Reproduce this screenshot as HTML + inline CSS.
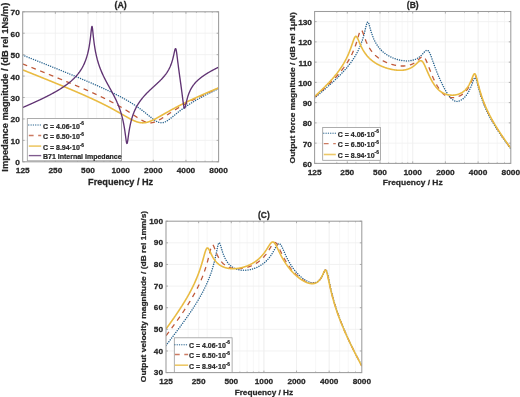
<!DOCTYPE html>
<html><head><meta charset="utf-8"><style>
html,body{margin:0;padding:0;background:#fff;width:520px;height:397px;overflow:hidden}
svg{display:block}
#w{will-change:transform;width:520px;height:397px}
</style></head><body>
<div id="w"><svg width="520" height="397" viewBox="0 0 520 397"><rect width="520" height="397" fill="#fff"/>
<line x1="44.84" y1="11.80" x2="44.84" y2="161.80" stroke="#f3f3f3" stroke-width="0.7"/>
<line x1="63.94" y1="11.80" x2="63.94" y2="161.80" stroke="#f3f3f3" stroke-width="0.7"/>
<line x1="77.49" y1="11.80" x2="77.49" y2="161.80" stroke="#f3f3f3" stroke-width="0.7"/>
<line x1="88.00" y1="11.80" x2="88.00" y2="161.80" stroke="#f3f3f3" stroke-width="0.7"/>
<line x1="96.59" y1="11.80" x2="96.59" y2="161.80" stroke="#f3f3f3" stroke-width="0.7"/>
<line x1="103.85" y1="11.80" x2="103.85" y2="161.80" stroke="#f3f3f3" stroke-width="0.7"/>
<line x1="110.14" y1="11.80" x2="110.14" y2="161.80" stroke="#f3f3f3" stroke-width="0.7"/>
<line x1="115.69" y1="11.80" x2="115.69" y2="161.80" stroke="#f3f3f3" stroke-width="0.7"/>
<line x1="120.65" y1="11.80" x2="120.65" y2="161.80" stroke="#f3f3f3" stroke-width="0.7"/>
<line x1="153.30" y1="11.80" x2="153.30" y2="161.80" stroke="#f3f3f3" stroke-width="0.7"/>
<line x1="172.40" y1="11.80" x2="172.40" y2="161.80" stroke="#f3f3f3" stroke-width="0.7"/>
<line x1="185.95" y1="11.80" x2="185.95" y2="161.80" stroke="#f3f3f3" stroke-width="0.7"/>
<line x1="196.46" y1="11.80" x2="196.46" y2="161.80" stroke="#f3f3f3" stroke-width="0.7"/>
<line x1="205.05" y1="11.80" x2="205.05" y2="161.80" stroke="#f3f3f3" stroke-width="0.7"/>
<line x1="212.31" y1="11.80" x2="212.31" y2="161.80" stroke="#f3f3f3" stroke-width="0.7"/>
<line x1="55.35" y1="11.80" x2="55.35" y2="161.80" stroke="#efefef" stroke-width="0.8"/>
<line x1="88.00" y1="11.80" x2="88.00" y2="161.80" stroke="#efefef" stroke-width="0.8"/>
<line x1="120.65" y1="11.80" x2="120.65" y2="161.80" stroke="#efefef" stroke-width="0.8"/>
<line x1="153.30" y1="11.80" x2="153.30" y2="161.80" stroke="#efefef" stroke-width="0.8"/>
<line x1="185.95" y1="11.80" x2="185.95" y2="161.80" stroke="#efefef" stroke-width="0.8"/>
<line x1="22.70" y1="140.37" x2="218.60" y2="140.37" stroke="#efefef" stroke-width="0.8"/>
<line x1="22.70" y1="118.94" x2="218.60" y2="118.94" stroke="#efefef" stroke-width="0.8"/>
<line x1="22.70" y1="97.51" x2="218.60" y2="97.51" stroke="#efefef" stroke-width="0.8"/>
<line x1="22.70" y1="76.09" x2="218.60" y2="76.09" stroke="#efefef" stroke-width="0.8"/>
<line x1="22.70" y1="54.66" x2="218.60" y2="54.66" stroke="#efefef" stroke-width="0.8"/>
<line x1="22.70" y1="33.23" x2="218.60" y2="33.23" stroke="#efefef" stroke-width="0.8"/>
<line x1="336.77" y1="11.50" x2="336.77" y2="163.40" stroke="#f3f3f3" stroke-width="0.7"/>
<line x1="355.90" y1="11.50" x2="355.90" y2="163.40" stroke="#f3f3f3" stroke-width="0.7"/>
<line x1="369.47" y1="11.50" x2="369.47" y2="163.40" stroke="#f3f3f3" stroke-width="0.7"/>
<line x1="380.00" y1="11.50" x2="380.00" y2="163.40" stroke="#f3f3f3" stroke-width="0.7"/>
<line x1="388.60" y1="11.50" x2="388.60" y2="163.40" stroke="#f3f3f3" stroke-width="0.7"/>
<line x1="395.87" y1="11.50" x2="395.87" y2="163.40" stroke="#f3f3f3" stroke-width="0.7"/>
<line x1="402.17" y1="11.50" x2="402.17" y2="163.40" stroke="#f3f3f3" stroke-width="0.7"/>
<line x1="407.73" y1="11.50" x2="407.73" y2="163.40" stroke="#f3f3f3" stroke-width="0.7"/>
<line x1="412.70" y1="11.50" x2="412.70" y2="163.40" stroke="#f3f3f3" stroke-width="0.7"/>
<line x1="445.40" y1="11.50" x2="445.40" y2="163.40" stroke="#f3f3f3" stroke-width="0.7"/>
<line x1="464.53" y1="11.50" x2="464.53" y2="163.40" stroke="#f3f3f3" stroke-width="0.7"/>
<line x1="478.10" y1="11.50" x2="478.10" y2="163.40" stroke="#f3f3f3" stroke-width="0.7"/>
<line x1="488.63" y1="11.50" x2="488.63" y2="163.40" stroke="#f3f3f3" stroke-width="0.7"/>
<line x1="497.23" y1="11.50" x2="497.23" y2="163.40" stroke="#f3f3f3" stroke-width="0.7"/>
<line x1="504.50" y1="11.50" x2="504.50" y2="163.40" stroke="#f3f3f3" stroke-width="0.7"/>
<line x1="347.30" y1="11.50" x2="347.30" y2="163.40" stroke="#efefef" stroke-width="0.8"/>
<line x1="380.00" y1="11.50" x2="380.00" y2="163.40" stroke="#efefef" stroke-width="0.8"/>
<line x1="412.70" y1="11.50" x2="412.70" y2="163.40" stroke="#efefef" stroke-width="0.8"/>
<line x1="445.40" y1="11.50" x2="445.40" y2="163.40" stroke="#efefef" stroke-width="0.8"/>
<line x1="478.10" y1="11.50" x2="478.10" y2="163.40" stroke="#efefef" stroke-width="0.8"/>
<line x1="314.60" y1="143.15" x2="510.80" y2="143.15" stroke="#efefef" stroke-width="0.8"/>
<line x1="314.60" y1="122.89" x2="510.80" y2="122.89" stroke="#efefef" stroke-width="0.8"/>
<line x1="314.60" y1="102.64" x2="510.80" y2="102.64" stroke="#efefef" stroke-width="0.8"/>
<line x1="314.60" y1="82.39" x2="510.80" y2="82.39" stroke="#efefef" stroke-width="0.8"/>
<line x1="314.60" y1="62.13" x2="510.80" y2="62.13" stroke="#efefef" stroke-width="0.8"/>
<line x1="314.60" y1="41.88" x2="510.80" y2="41.88" stroke="#efefef" stroke-width="0.8"/>
<line x1="314.60" y1="21.63" x2="510.80" y2="21.63" stroke="#efefef" stroke-width="0.8"/>
<line x1="188.13" y1="221.20" x2="188.13" y2="372.60" stroke="#f3f3f3" stroke-width="0.7"/>
<line x1="207.22" y1="221.20" x2="207.22" y2="372.60" stroke="#f3f3f3" stroke-width="0.7"/>
<line x1="220.76" y1="221.20" x2="220.76" y2="372.60" stroke="#f3f3f3" stroke-width="0.7"/>
<line x1="231.27" y1="221.20" x2="231.27" y2="372.60" stroke="#f3f3f3" stroke-width="0.7"/>
<line x1="239.85" y1="221.20" x2="239.85" y2="372.60" stroke="#f3f3f3" stroke-width="0.7"/>
<line x1="247.11" y1="221.20" x2="247.11" y2="372.60" stroke="#f3f3f3" stroke-width="0.7"/>
<line x1="253.39" y1="221.20" x2="253.39" y2="372.60" stroke="#f3f3f3" stroke-width="0.7"/>
<line x1="258.94" y1="221.20" x2="258.94" y2="372.60" stroke="#f3f3f3" stroke-width="0.7"/>
<line x1="263.90" y1="221.20" x2="263.90" y2="372.60" stroke="#f3f3f3" stroke-width="0.7"/>
<line x1="296.53" y1="221.20" x2="296.53" y2="372.60" stroke="#f3f3f3" stroke-width="0.7"/>
<line x1="315.62" y1="221.20" x2="315.62" y2="372.60" stroke="#f3f3f3" stroke-width="0.7"/>
<line x1="329.17" y1="221.20" x2="329.17" y2="372.60" stroke="#f3f3f3" stroke-width="0.7"/>
<line x1="339.67" y1="221.20" x2="339.67" y2="372.60" stroke="#f3f3f3" stroke-width="0.7"/>
<line x1="348.26" y1="221.20" x2="348.26" y2="372.60" stroke="#f3f3f3" stroke-width="0.7"/>
<line x1="355.51" y1="221.20" x2="355.51" y2="372.60" stroke="#f3f3f3" stroke-width="0.7"/>
<line x1="198.63" y1="221.20" x2="198.63" y2="372.60" stroke="#efefef" stroke-width="0.8"/>
<line x1="231.27" y1="221.20" x2="231.27" y2="372.60" stroke="#efefef" stroke-width="0.8"/>
<line x1="263.90" y1="221.20" x2="263.90" y2="372.60" stroke="#efefef" stroke-width="0.8"/>
<line x1="296.53" y1="221.20" x2="296.53" y2="372.60" stroke="#efefef" stroke-width="0.8"/>
<line x1="329.17" y1="221.20" x2="329.17" y2="372.60" stroke="#efefef" stroke-width="0.8"/>
<line x1="166.00" y1="350.97" x2="361.80" y2="350.97" stroke="#efefef" stroke-width="0.8"/>
<line x1="166.00" y1="329.34" x2="361.80" y2="329.34" stroke="#efefef" stroke-width="0.8"/>
<line x1="166.00" y1="307.71" x2="361.80" y2="307.71" stroke="#efefef" stroke-width="0.8"/>
<line x1="166.00" y1="286.09" x2="361.80" y2="286.09" stroke="#efefef" stroke-width="0.8"/>
<line x1="166.00" y1="264.46" x2="361.80" y2="264.46" stroke="#efefef" stroke-width="0.8"/>
<line x1="166.00" y1="242.83" x2="361.80" y2="242.83" stroke="#efefef" stroke-width="0.8"/>
<clipPath id="cA"><rect x="22.7" y="11.8" width="195.9" height="150.0"/></clipPath>
<g clip-path="url(#cA)">
<path d="M22.70,55.15 L22.92,55.24 L23.14,55.33 L23.35,55.41 L23.57,55.50 L23.79,55.59 L24.01,55.67 L24.23,55.76 L24.44,55.85 L24.66,55.93 L24.88,56.02 L25.10,56.11 L25.31,56.19 L25.53,56.28 L25.75,56.37 L25.97,56.45 L26.19,56.54 L26.40,56.63 L26.62,56.71 L26.84,56.80 L27.06,56.89 L27.28,56.97 L27.49,57.06 L27.71,57.15 L27.93,57.23 L28.15,57.32 L28.37,57.41 L28.58,57.49 L28.80,57.58 L29.02,57.67 L29.24,57.75 L29.46,57.84 L29.67,57.93 L29.89,58.01 L30.11,58.10 L30.33,58.19 L30.54,58.27 L30.76,58.36 L30.98,58.45 L31.20,58.53 L31.42,58.62 L31.63,58.71 L31.85,58.79 L32.07,58.88 L32.29,58.97 L32.51,59.05 L32.72,59.14 L32.94,59.23 L33.16,59.31 L33.38,59.40 L33.60,59.49 L33.81,59.57 L34.03,59.66 L34.25,59.75 L34.47,59.83 L34.68,59.92 L34.90,60.01 L35.12,60.09 L35.34,60.18 L35.56,60.27 L35.77,60.35 L35.99,60.44 L36.21,60.53 L36.43,60.62 L36.65,60.70 L36.86,60.79 L37.08,60.88 L37.30,60.96 L37.52,61.05 L37.74,61.14 L37.95,61.22 L38.17,61.31 L38.39,61.40 L38.61,61.48 L38.83,61.57 L39.04,61.66 L39.26,61.74 L39.48,61.83 L39.70,61.92 L39.91,62.01 L40.13,62.09 L40.35,62.18 L40.57,62.27 L40.79,62.35 L41.00,62.44 L41.22,62.53 L41.44,62.61 L41.66,62.70 L41.88,62.79 L42.09,62.88 L42.31,62.96 L42.53,63.05 L42.75,63.14 L42.97,63.22 L43.18,63.31 L43.40,63.40 L43.62,63.49 L43.84,63.57 L44.06,63.66 L44.27,63.75 L44.49,63.83 L44.71,63.92 L44.93,64.01 L45.14,64.10 L45.36,64.18 L45.58,64.27 L45.80,64.36 L46.02,64.44 L46.23,64.53 L46.45,64.62 L46.67,64.71 L46.89,64.79 L47.11,64.88 L47.32,64.97 L47.54,65.06 L47.76,65.14 L47.98,65.23 L48.20,65.32 L48.41,65.40 L48.63,65.49 L48.85,65.58 L49.07,65.67 L49.28,65.75 L49.50,65.84 L49.72,65.93 L49.94,66.02 L50.16,66.10 L50.37,66.19 L50.59,66.28 L50.81,66.37 L51.03,66.45 L51.25,66.54 L51.46,66.63 L51.68,66.72 L51.90,66.80 L52.12,66.89 L52.34,66.98 L52.55,67.07 L52.77,67.15 L52.99,67.24 L53.21,67.33 L53.43,67.42 L53.64,67.50 L53.86,67.59 L54.08,67.68 L54.30,67.77 L54.51,67.86 L54.73,67.94 L54.95,68.03 L55.17,68.12 L55.39,68.21 L55.60,68.29 L55.82,68.38 L56.04,68.47 L56.26,68.56 L56.48,68.65 L56.69,68.73 L56.91,68.82 L57.13,68.91 L57.35,69.00 L57.57,69.09 L57.78,69.17 L58.00,69.26 L58.22,69.35 L58.44,69.44 L58.65,69.53 L58.87,69.61 L59.09,69.70 L59.31,69.79 L59.53,69.88 L59.74,69.97 L59.96,70.05 L60.18,70.14 L60.40,70.23 L60.62,70.32 L60.83,70.41 L61.05,70.49 L61.27,70.58 L61.49,70.67 L61.71,70.76 L61.92,70.85 L62.14,70.94 L62.36,71.02 L62.58,71.11 L62.80,71.20 L63.01,71.29 L63.23,71.38 L63.45,71.47 L63.67,71.56 L63.88,71.64 L64.10,71.73 L64.32,71.82 L64.54,71.91 L64.76,72.00 L64.97,72.09 L65.19,72.18 L65.41,72.26 L65.63,72.35 L65.85,72.44 L66.06,72.53 L66.28,72.62 L66.50,72.71 L66.72,72.80 L66.94,72.89 L67.15,72.97 L67.37,73.06 L67.59,73.15 L67.81,73.24 L68.03,73.33 L68.24,73.42 L68.46,73.51 L68.68,73.60 L68.90,73.69 L69.11,73.78 L69.33,73.86 L69.55,73.95 L69.77,74.04 L69.99,74.13 L70.20,74.22 L70.42,74.31 L70.64,74.40 L70.86,74.49 L71.08,74.58 L71.29,74.67 L71.51,74.76 L71.73,74.85 L71.95,74.94 L72.17,75.03 L72.38,75.12 L72.60,75.21 L72.82,75.30 L73.04,75.39 L73.25,75.47 L73.47,75.56 L73.69,75.65 L73.91,75.74 L74.13,75.83 L74.34,75.92 L74.56,76.01 L74.78,76.10 L75.00,76.19 L75.22,76.28 L75.43,76.37 L75.65,76.46 L75.87,76.55 L76.09,76.64 L76.31,76.73 L76.52,76.82 L76.74,76.92 L76.96,77.01 L77.18,77.10 L77.40,77.19 L77.61,77.28 L77.83,77.37 L78.05,77.46 L78.27,77.55 L78.48,77.64 L78.70,77.73 L78.92,77.82 L79.14,77.91 L79.36,78.00 L79.57,78.09 L79.79,78.18 L80.01,78.27 L80.23,78.37 L80.45,78.46 L80.66,78.55 L80.88,78.64 L81.10,78.73 L81.32,78.82 L81.54,78.91 L81.75,79.00 L81.97,79.10 L82.19,79.19 L82.41,79.28 L82.62,79.37 L82.84,79.46 L83.06,79.55 L83.28,79.64 L83.50,79.74 L83.71,79.83 L83.93,79.92 L84.15,80.01 L84.37,80.10 L84.59,80.20 L84.80,80.29 L85.02,80.38 L85.24,80.47 L85.46,80.56 L85.68,80.66 L85.89,80.75 L86.11,80.84 L86.33,80.93 L86.55,81.03 L86.77,81.12 L86.98,81.21 L87.20,81.30 L87.42,81.40 L87.64,81.49 L87.85,81.58 L88.07,81.68 L88.29,81.77 L88.51,81.86 L88.73,81.95 L88.94,82.05 L89.16,82.14 L89.38,82.23 L89.60,82.33 L89.82,82.42 L90.03,82.52 L90.25,82.61 L90.47,82.70 L90.69,82.80 L90.91,82.89 L91.12,82.98 L91.34,83.08 L91.56,83.17 L91.78,83.27 L91.99,83.36 L92.21,83.46 L92.43,83.55 L92.65,83.64 L92.87,83.74 L93.08,83.83 L93.30,83.93 L93.52,84.02 L93.74,84.12 L93.96,84.21 L94.17,84.31 L94.39,84.40 L94.61,84.50 L94.83,84.59 L95.05,84.69 L95.26,84.78 L95.48,84.88 L95.70,84.98 L95.92,85.07 L96.14,85.17 L96.35,85.26 L96.57,85.36 L96.79,85.46 L97.01,85.55 L97.22,85.65 L97.44,85.74 L97.66,85.84 L97.88,85.94 L98.10,86.03 L98.31,86.13 L98.53,86.23 L98.75,86.33 L98.97,86.42 L99.19,86.52 L99.40,86.62 L99.62,86.71 L99.84,86.81 L100.06,86.91 L100.28,87.01 L100.49,87.11 L100.71,87.20 L100.93,87.30 L101.15,87.40 L101.37,87.50 L101.58,87.60 L101.80,87.70 L102.02,87.79 L102.24,87.89 L102.45,87.99 L102.67,88.09 L102.89,88.19 L103.11,88.29 L103.33,88.39 L103.54,88.49 L103.76,88.59 L103.98,88.69 L104.20,88.79 L104.42,88.89 L104.63,88.99 L104.85,89.09 L105.07,89.19 L105.29,89.29 L105.51,89.39 L105.72,89.49 L105.94,89.59 L106.16,89.70 L106.38,89.80 L106.59,89.90 L106.81,90.00 L107.03,90.10 L107.25,90.20 L107.47,90.31 L107.68,90.41 L107.90,90.51 L108.12,90.61 L108.34,90.72 L108.56,90.82 L108.77,90.92 L108.99,91.03 L109.21,91.13 L109.43,91.23 L109.65,91.34 L109.86,91.44 L110.08,91.55 L110.30,91.65 L110.52,91.76 L110.74,91.86 L110.95,91.97 L111.17,92.07 L111.39,92.18 L111.61,92.28 L111.82,92.39 L112.04,92.49 L112.26,92.60 L112.48,92.71 L112.70,92.81 L112.91,92.92 L113.13,93.03 L113.35,93.13 L113.57,93.24 L113.79,93.35 L114.00,93.46 L114.22,93.56 L114.44,93.67 L114.66,93.78 L114.88,93.89 L115.09,94.00 L115.31,94.11 L115.53,94.22 L115.75,94.33 L115.96,94.44 L116.18,94.55 L116.40,94.66 L116.62,94.77 L116.84,94.88 L117.05,94.99 L117.27,95.10 L117.49,95.21 L117.71,95.32 L117.93,95.44 L118.14,95.55 L118.36,95.66 L118.58,95.77 L118.80,95.89 L119.02,96.00 L119.23,96.11 L119.45,96.23 L119.67,96.34 L119.89,96.46 L120.11,96.57 L120.32,96.69 L120.54,96.80 L120.76,96.92 L120.98,97.03 L121.19,97.15 L121.41,97.27 L121.63,97.38 L121.85,97.50 L122.07,97.62 L122.28,97.74 L122.50,97.85 L122.72,97.97 L122.94,98.09 L123.16,98.21 L123.37,98.33 L123.59,98.45 L123.81,98.57 L124.03,98.69 L124.25,98.81 L124.46,98.93 L124.68,99.06 L124.90,99.18 L125.12,99.30 L125.34,99.42 L125.55,99.55 L125.77,99.67 L125.99,99.79 L126.21,99.92 L126.42,100.04 L126.64,100.17 L126.86,100.29 L127.08,100.42 L127.30,100.54 L127.51,100.67 L127.73,100.80 L127.95,100.93 L128.17,101.05 L128.39,101.18 L128.60,101.31 L128.82,101.44 L129.04,101.57 L129.26,101.70 L129.48,101.83 L129.69,101.96 L129.91,102.09 L130.13,102.22 L130.35,102.36 L130.56,102.49 L130.78,102.62 L131.00,102.76 L131.22,102.89 L131.44,103.03 L131.65,103.16 L131.87,103.30 L132.09,103.43 L132.31,103.57 L132.53,103.71 L132.74,103.84 L132.96,103.98 L133.18,104.12 L133.40,104.26 L133.62,104.40 L133.83,104.54 L134.05,104.68 L134.27,104.82 L134.49,104.97 L134.71,105.11 L134.92,105.25 L135.14,105.40 L135.36,105.54 L135.58,105.69 L135.79,105.83 L136.01,105.98 L136.23,106.12 L136.45,106.27 L136.67,106.42 L136.88,106.57 L137.10,106.72 L137.32,106.87 L137.54,107.02 L137.76,107.17 L137.97,107.32 L138.19,107.47 L138.41,107.63 L138.63,107.78 L138.85,107.93 L139.06,108.09 L139.28,108.24 L139.50,108.40 L139.72,108.56 L139.93,108.71 L140.15,108.87 L140.37,109.03 L140.59,109.19 L140.81,109.35 L141.02,109.51 L141.24,109.67 L141.46,109.83 L141.68,110.00 L141.90,110.16 L142.11,110.32 L142.33,110.49 L142.55,110.65 L142.77,110.82 L142.99,110.99 L143.20,111.15 L143.42,111.32 L143.64,111.49 L143.86,111.66 L144.08,111.83 L144.29,112.00 L144.51,112.17 L144.73,112.34 L144.95,112.51 L145.16,112.69 L145.38,112.86 L145.60,113.03 L145.82,113.21 L146.04,113.38 L146.25,113.56 L146.47,113.73 L146.69,113.91 L146.91,114.08 L147.13,114.26 L147.34,114.44 L147.56,114.61 L147.78,114.79 L148.00,114.97 L148.22,115.15 L148.43,115.32 L148.65,115.50 L148.87,115.68 L149.09,115.86 L149.31,116.04 L149.52,116.21 L149.74,116.39 L149.96,116.57 L150.18,116.75 L150.39,116.92 L150.61,117.10 L150.83,117.28 L151.05,117.45 L151.27,117.63 L151.48,117.80 L151.70,117.98 L151.92,118.15 L152.14,118.32 L152.36,118.49 L152.57,118.66 L152.79,118.83 L153.01,118.99 L153.23,119.16 L153.45,119.32 L153.66,119.48 L153.88,119.64 L154.10,119.80 L154.32,119.96 L154.53,120.11 L154.75,120.26 L154.97,120.41 L155.19,120.55 L155.41,120.69 L155.62,120.83 L155.84,120.97 L156.06,121.10 L156.28,121.23 L156.50,121.35 L156.71,121.48 L156.93,121.59 L157.15,121.70 L157.37,121.81 L157.59,121.92 L157.80,122.01 L158.02,122.11 L158.24,122.20 L158.46,122.28 L158.68,122.36 L158.89,122.43 L159.11,122.50 L159.33,122.56 L159.55,122.61 L159.76,122.66 L159.98,122.71 L160.20,122.74 L160.42,122.78 L160.64,122.80 L160.85,122.82 L161.07,122.83 L161.29,122.84 L161.51,122.83 L161.73,122.83 L161.94,122.81 L162.16,122.79 L162.38,122.77 L162.60,122.74 L162.82,122.70 L163.03,122.65 L163.25,122.60 L163.47,122.54 L163.69,122.48 L163.90,122.41 L164.12,122.34 L164.34,122.26 L164.56,122.18 L164.78,122.09 L164.99,121.99 L165.21,121.89 L165.43,121.79 L165.65,121.68 L165.87,121.56 L166.08,121.45 L166.30,121.32 L166.52,121.20 L166.74,121.07 L166.96,120.93 L167.17,120.80 L167.39,120.66 L167.61,120.52 L167.83,120.37 L168.05,120.22 L168.26,120.07 L168.48,119.92 L168.70,119.76 L168.92,119.60 L169.13,119.44 L169.35,119.28 L169.57,119.12 L169.79,118.95 L170.01,118.78 L170.22,118.62 L170.44,118.45 L170.66,118.28 L170.88,118.10 L171.10,117.93 L171.31,117.76 L171.53,117.58 L171.75,117.41 L171.97,117.23 L172.19,117.06 L172.40,116.88 L172.62,116.70 L172.84,116.52 L173.06,116.35 L173.27,116.17 L173.49,115.99 L173.71,115.81 L173.93,115.63 L174.15,115.46 L174.36,115.28 L174.58,115.10 L174.80,114.92 L175.02,114.74 L175.24,114.57 L175.45,114.39 L175.67,114.21 L175.89,114.04 L176.11,113.86 L176.33,113.69 L176.54,113.51 L176.76,113.34 L176.98,113.16 L177.20,112.99 L177.42,112.81 L177.63,112.64 L177.85,112.47 L178.07,112.30 L178.29,112.13 L178.50,111.96 L178.72,111.79 L178.94,111.62 L179.16,111.45 L179.38,111.28 L179.59,111.11 L179.81,110.94 L180.03,110.78 L180.25,110.61 L180.47,110.45 L180.68,110.28 L180.90,110.12 L181.12,109.96 L181.34,109.79 L181.56,109.63 L181.77,109.47 L181.99,109.31 L182.21,109.15 L182.43,108.99 L182.65,108.83 L182.86,108.67 L183.08,108.52 L183.30,108.36 L183.52,108.20 L183.73,108.05 L183.95,107.89 L184.17,107.74 L184.39,107.59 L184.61,107.43 L184.82,107.28 L185.04,107.13 L185.26,106.98 L185.48,106.83 L185.70,106.68 L185.91,106.53 L186.13,106.38 L186.35,106.23 L186.57,106.09 L186.79,105.94 L187.00,105.79 L187.22,105.65 L187.44,105.50 L187.66,105.36 L187.87,105.22 L188.09,105.07 L188.31,104.93 L188.53,104.79 L188.75,104.65 L188.96,104.51 L189.18,104.37 L189.40,104.23 L189.62,104.09 L189.84,103.95 L190.05,103.81 L190.27,103.67 L190.49,103.53 L190.71,103.40 L190.93,103.26 L191.14,103.13 L191.36,102.99 L191.58,102.86 L191.80,102.72 L192.02,102.59 L192.23,102.45 L192.45,102.32 L192.67,102.19 L192.89,102.06 L193.10,101.93 L193.32,101.80 L193.54,101.67 L193.76,101.54 L193.98,101.41 L194.19,101.28 L194.41,101.15 L194.63,101.02 L194.85,100.89 L195.07,100.77 L195.28,100.64 L195.50,100.51 L195.72,100.39 L195.94,100.26 L196.16,100.13 L196.37,100.01 L196.59,99.89 L196.81,99.76 L197.03,99.64 L197.24,99.51 L197.46,99.39 L197.68,99.27 L197.90,99.15 L198.12,99.02 L198.33,98.90 L198.55,98.78 L198.77,98.66 L198.99,98.54 L199.21,98.42 L199.42,98.30 L199.64,98.18 L199.86,98.06 L200.08,97.94 L200.30,97.82 L200.51,97.71 L200.73,97.59 L200.95,97.47 L201.17,97.35 L201.39,97.24 L201.60,97.12 L201.82,97.00 L202.04,96.89 L202.26,96.77 L202.47,96.66 L202.69,96.54 L202.91,96.43 L203.13,96.31 L203.35,96.20 L203.56,96.09 L203.78,95.97 L204.00,95.86 L204.22,95.75 L204.44,95.63 L204.65,95.52 L204.87,95.41 L205.09,95.30 L205.31,95.18 L205.53,95.07 L205.74,94.96 L205.96,94.85 L206.18,94.74 L206.40,94.63 L206.62,94.52 L206.83,94.41 L207.05,94.30 L207.27,94.19 L207.49,94.08 L207.70,93.97 L207.92,93.86 L208.14,93.75 L208.36,93.65 L208.58,93.54 L208.79,93.43 L209.01,93.32 L209.23,93.21 L209.45,93.11 L209.67,93.00 L209.88,92.89 L210.10,92.79 L210.32,92.68 L210.54,92.57 L210.76,92.47 L210.97,92.36 L211.19,92.26 L211.41,92.15 L211.63,92.04 L211.84,91.94 L212.06,91.83 L212.28,91.73 L212.50,91.62 L212.72,91.52 L212.93,91.42 L213.15,91.31 L213.37,91.21 L213.59,91.10 L213.81,91.00 L214.02,90.90 L214.24,90.79 L214.46,90.69 L214.68,90.59 L214.90,90.49 L215.11,90.38 L215.33,90.28 L215.55,90.18 L215.77,90.08 L215.99,89.97 L216.20,89.87 L216.42,89.77 L216.64,89.67 L216.86,89.57 L217.07,89.47 L217.29,89.37 L217.51,89.27 L217.73,89.16 L217.95,89.06 L218.16,88.96 L218.38,88.86 L218.60,88.76" fill="none" stroke="#2a6590" stroke-dasharray="0.01 2.3" stroke-linecap="round" stroke-width="1.45" stroke-linejoin="round"/>
<path d="M22.70,63.94 L22.92,64.02 L23.14,64.11 L23.35,64.20 L23.57,64.28 L23.79,64.37 L24.01,64.46 L24.23,64.54 L24.44,64.63 L24.66,64.72 L24.88,64.80 L25.10,64.89 L25.31,64.98 L25.53,65.06 L25.75,65.15 L25.97,65.24 L26.19,65.32 L26.40,65.41 L26.62,65.50 L26.84,65.58 L27.06,65.67 L27.28,65.76 L27.49,65.84 L27.71,65.93 L27.93,66.02 L28.15,66.10 L28.37,66.19 L28.58,66.28 L28.80,66.37 L29.02,66.45 L29.24,66.54 L29.46,66.63 L29.67,66.71 L29.89,66.80 L30.11,66.89 L30.33,66.97 L30.54,67.06 L30.76,67.15 L30.98,67.23 L31.20,67.32 L31.42,67.41 L31.63,67.50 L31.85,67.58 L32.07,67.67 L32.29,67.76 L32.51,67.84 L32.72,67.93 L32.94,68.02 L33.16,68.11 L33.38,68.19 L33.60,68.28 L33.81,68.37 L34.03,68.45 L34.25,68.54 L34.47,68.63 L34.68,68.71 L34.90,68.80 L35.12,68.89 L35.34,68.98 L35.56,69.06 L35.77,69.15 L35.99,69.24 L36.21,69.32 L36.43,69.41 L36.65,69.50 L36.86,69.59 L37.08,69.67 L37.30,69.76 L37.52,69.85 L37.74,69.94 L37.95,70.02 L38.17,70.11 L38.39,70.20 L38.61,70.28 L38.83,70.37 L39.04,70.46 L39.26,70.55 L39.48,70.63 L39.70,70.72 L39.91,70.81 L40.13,70.90 L40.35,70.98 L40.57,71.07 L40.79,71.16 L41.00,71.25 L41.22,71.33 L41.44,71.42 L41.66,71.51 L41.88,71.60 L42.09,71.68 L42.31,71.77 L42.53,71.86 L42.75,71.95 L42.97,72.03 L43.18,72.12 L43.40,72.21 L43.62,72.30 L43.84,72.38 L44.06,72.47 L44.27,72.56 L44.49,72.65 L44.71,72.73 L44.93,72.82 L45.14,72.91 L45.36,73.00 L45.58,73.08 L45.80,73.17 L46.02,73.26 L46.23,73.35 L46.45,73.44 L46.67,73.52 L46.89,73.61 L47.11,73.70 L47.32,73.79 L47.54,73.88 L47.76,73.96 L47.98,74.05 L48.20,74.14 L48.41,74.23 L48.63,74.31 L48.85,74.40 L49.07,74.49 L49.28,74.58 L49.50,74.67 L49.72,74.75 L49.94,74.84 L50.16,74.93 L50.37,75.02 L50.59,75.11 L50.81,75.20 L51.03,75.28 L51.25,75.37 L51.46,75.46 L51.68,75.55 L51.90,75.64 L52.12,75.72 L52.34,75.81 L52.55,75.90 L52.77,75.99 L52.99,76.08 L53.21,76.17 L53.43,76.25 L53.64,76.34 L53.86,76.43 L54.08,76.52 L54.30,76.61 L54.51,76.70 L54.73,76.78 L54.95,76.87 L55.17,76.96 L55.39,77.05 L55.60,77.14 L55.82,77.23 L56.04,77.32 L56.26,77.40 L56.48,77.49 L56.69,77.58 L56.91,77.67 L57.13,77.76 L57.35,77.85 L57.57,77.94 L57.78,78.03 L58.00,78.11 L58.22,78.20 L58.44,78.29 L58.65,78.38 L58.87,78.47 L59.09,78.56 L59.31,78.65 L59.53,78.74 L59.74,78.83 L59.96,78.92 L60.18,79.00 L60.40,79.09 L60.62,79.18 L60.83,79.27 L61.05,79.36 L61.27,79.45 L61.49,79.54 L61.71,79.63 L61.92,79.72 L62.14,79.81 L62.36,79.90 L62.58,79.99 L62.80,80.08 L63.01,80.17 L63.23,80.26 L63.45,80.35 L63.67,80.43 L63.88,80.52 L64.10,80.61 L64.32,80.70 L64.54,80.79 L64.76,80.88 L64.97,80.97 L65.19,81.06 L65.41,81.15 L65.63,81.24 L65.85,81.33 L66.06,81.42 L66.28,81.51 L66.50,81.60 L66.72,81.69 L66.94,81.78 L67.15,81.87 L67.37,81.96 L67.59,82.05 L67.81,82.14 L68.03,82.23 L68.24,82.32 L68.46,82.41 L68.68,82.51 L68.90,82.60 L69.11,82.69 L69.33,82.78 L69.55,82.87 L69.77,82.96 L69.99,83.05 L70.20,83.14 L70.42,83.23 L70.64,83.32 L70.86,83.41 L71.08,83.50 L71.29,83.59 L71.51,83.68 L71.73,83.78 L71.95,83.87 L72.17,83.96 L72.38,84.05 L72.60,84.14 L72.82,84.23 L73.04,84.32 L73.25,84.41 L73.47,84.51 L73.69,84.60 L73.91,84.69 L74.13,84.78 L74.34,84.87 L74.56,84.96 L74.78,85.06 L75.00,85.15 L75.22,85.24 L75.43,85.33 L75.65,85.42 L75.87,85.52 L76.09,85.61 L76.31,85.70 L76.52,85.79 L76.74,85.88 L76.96,85.98 L77.18,86.07 L77.40,86.16 L77.61,86.25 L77.83,86.35 L78.05,86.44 L78.27,86.53 L78.48,86.62 L78.70,86.72 L78.92,86.81 L79.14,86.90 L79.36,87.00 L79.57,87.09 L79.79,87.18 L80.01,87.27 L80.23,87.37 L80.45,87.46 L80.66,87.55 L80.88,87.65 L81.10,87.74 L81.32,87.83 L81.54,87.93 L81.75,88.02 L81.97,88.12 L82.19,88.21 L82.41,88.30 L82.62,88.40 L82.84,88.49 L83.06,88.59 L83.28,88.68 L83.50,88.77 L83.71,88.87 L83.93,88.96 L84.15,89.06 L84.37,89.15 L84.59,89.25 L84.80,89.34 L85.02,89.44 L85.24,89.53 L85.46,89.63 L85.68,89.72 L85.89,89.82 L86.11,89.91 L86.33,90.01 L86.55,90.10 L86.77,90.20 L86.98,90.29 L87.20,90.39 L87.42,90.49 L87.64,90.58 L87.85,90.68 L88.07,90.77 L88.29,90.87 L88.51,90.97 L88.73,91.06 L88.94,91.16 L89.16,91.26 L89.38,91.35 L89.60,91.45 L89.82,91.55 L90.03,91.64 L90.25,91.74 L90.47,91.84 L90.69,91.94 L90.91,92.03 L91.12,92.13 L91.34,92.23 L91.56,92.33 L91.78,92.42 L91.99,92.52 L92.21,92.62 L92.43,92.72 L92.65,92.82 L92.87,92.91 L93.08,93.01 L93.30,93.11 L93.52,93.21 L93.74,93.31 L93.96,93.41 L94.17,93.51 L94.39,93.61 L94.61,93.71 L94.83,93.81 L95.05,93.90 L95.26,94.00 L95.48,94.10 L95.70,94.20 L95.92,94.30 L96.14,94.40 L96.35,94.51 L96.57,94.61 L96.79,94.71 L97.01,94.81 L97.22,94.91 L97.44,95.01 L97.66,95.11 L97.88,95.21 L98.10,95.31 L98.31,95.42 L98.53,95.52 L98.75,95.62 L98.97,95.72 L99.19,95.82 L99.40,95.93 L99.62,96.03 L99.84,96.13 L100.06,96.23 L100.28,96.34 L100.49,96.44 L100.71,96.54 L100.93,96.65 L101.15,96.75 L101.37,96.86 L101.58,96.96 L101.80,97.06 L102.02,97.17 L102.24,97.27 L102.45,97.38 L102.67,97.48 L102.89,97.59 L103.11,97.69 L103.33,97.80 L103.54,97.90 L103.76,98.01 L103.98,98.12 L104.20,98.22 L104.42,98.33 L104.63,98.43 L104.85,98.54 L105.07,98.65 L105.29,98.76 L105.51,98.86 L105.72,98.97 L105.94,99.08 L106.16,99.19 L106.38,99.29 L106.59,99.40 L106.81,99.51 L107.03,99.62 L107.25,99.73 L107.47,99.84 L107.68,99.95 L107.90,100.06 L108.12,100.17 L108.34,100.28 L108.56,100.39 L108.77,100.50 L108.99,100.61 L109.21,100.72 L109.43,100.83 L109.65,100.94 L109.86,101.06 L110.08,101.17 L110.30,101.28 L110.52,101.39 L110.74,101.51 L110.95,101.62 L111.17,101.73 L111.39,101.85 L111.61,101.96 L111.82,102.07 L112.04,102.19 L112.26,102.30 L112.48,102.42 L112.70,102.53 L112.91,102.65 L113.13,102.76 L113.35,102.88 L113.57,102.99 L113.79,103.11 L114.00,103.23 L114.22,103.35 L114.44,103.46 L114.66,103.58 L114.88,103.70 L115.09,103.82 L115.31,103.93 L115.53,104.05 L115.75,104.17 L115.96,104.29 L116.18,104.41 L116.40,104.53 L116.62,104.65 L116.84,104.77 L117.05,104.89 L117.27,105.01 L117.49,105.14 L117.71,105.26 L117.93,105.38 L118.14,105.50 L118.36,105.63 L118.58,105.75 L118.80,105.87 L119.02,106.00 L119.23,106.12 L119.45,106.24 L119.67,106.37 L119.89,106.49 L120.11,106.62 L120.32,106.75 L120.54,106.87 L120.76,107.00 L120.98,107.12 L121.19,107.25 L121.41,107.38 L121.63,107.51 L121.85,107.64 L122.07,107.76 L122.28,107.89 L122.50,108.02 L122.72,108.15 L122.94,108.28 L123.16,108.41 L123.37,108.54 L123.59,108.67 L123.81,108.81 L124.03,108.94 L124.25,109.07 L124.46,109.20 L124.68,109.33 L124.90,109.47 L125.12,109.60 L125.34,109.73 L125.55,109.87 L125.77,110.00 L125.99,110.14 L126.21,110.27 L126.42,110.41 L126.64,110.55 L126.86,110.68 L127.08,110.82 L127.30,110.96 L127.51,111.09 L127.73,111.23 L127.95,111.37 L128.17,111.51 L128.39,111.65 L128.60,111.78 L128.82,111.92 L129.04,112.06 L129.26,112.20 L129.48,112.34 L129.69,112.48 L129.91,112.62 L130.13,112.76 L130.35,112.91 L130.56,113.05 L130.78,113.19 L131.00,113.33 L131.22,113.47 L131.44,113.62 L131.65,113.76 L131.87,113.90 L132.09,114.04 L132.31,114.19 L132.53,114.33 L132.74,114.47 L132.96,114.62 L133.18,114.76 L133.40,114.90 L133.62,115.05 L133.83,115.19 L134.05,115.33 L134.27,115.48 L134.49,115.62 L134.71,115.77 L134.92,115.91 L135.14,116.05 L135.36,116.20 L135.58,116.34 L135.79,116.48 L136.01,116.62 L136.23,116.77 L136.45,116.91 L136.67,117.05 L136.88,117.19 L137.10,117.33 L137.32,117.47 L137.54,117.61 L137.76,117.75 L137.97,117.89 L138.19,118.03 L138.41,118.17 L138.63,118.31 L138.85,118.44 L139.06,118.58 L139.28,118.71 L139.50,118.85 L139.72,118.98 L139.93,119.11 L140.15,119.24 L140.37,119.37 L140.59,119.50 L140.81,119.63 L141.02,119.75 L141.24,119.88 L141.46,120.00 L141.68,120.12 L141.90,120.24 L142.11,120.36 L142.33,120.48 L142.55,120.59 L142.77,120.70 L142.99,120.81 L143.20,120.92 L143.42,121.03 L143.64,121.13 L143.86,121.23 L144.08,121.33 L144.29,121.43 L144.51,121.52 L144.73,121.61 L144.95,121.70 L145.16,121.79 L145.38,121.87 L145.60,121.95 L145.82,122.03 L146.04,122.10 L146.25,122.17 L146.47,122.24 L146.69,122.31 L146.91,122.37 L147.13,122.42 L147.34,122.48 L147.56,122.53 L147.78,122.58 L148.00,122.62 L148.22,122.66 L148.43,122.69 L148.65,122.72 L148.87,122.75 L149.09,122.78 L149.31,122.80 L149.52,122.81 L149.74,122.82 L149.96,122.83 L150.18,122.84 L150.39,122.84 L150.61,122.83 L150.83,122.82 L151.05,122.81 L151.27,122.80 L151.48,122.78 L151.70,122.75 L151.92,122.72 L152.14,122.69 L152.36,122.66 L152.57,122.62 L152.79,122.58 L153.01,122.53 L153.23,122.48 L153.45,122.43 L153.66,122.37 L153.88,122.31 L154.10,122.24 L154.32,122.18 L154.53,122.10 L154.75,122.03 L154.97,121.95 L155.19,121.87 L155.41,121.79 L155.62,121.70 L155.84,121.62 L156.06,121.52 L156.28,121.43 L156.50,121.33 L156.71,121.23 L156.93,121.13 L157.15,121.03 L157.37,120.92 L157.59,120.81 L157.80,120.70 L158.02,120.59 L158.24,120.48 L158.46,120.36 L158.68,120.24 L158.89,120.12 L159.11,120.00 L159.33,119.88 L159.55,119.75 L159.76,119.63 L159.98,119.50 L160.20,119.37 L160.42,119.24 L160.64,119.11 L160.85,118.98 L161.07,118.85 L161.29,118.71 L161.51,118.58 L161.73,118.44 L161.94,118.31 L162.16,118.17 L162.38,118.03 L162.60,117.89 L162.82,117.76 L163.03,117.62 L163.25,117.48 L163.47,117.34 L163.69,117.19 L163.90,117.05 L164.12,116.91 L164.34,116.77 L164.56,116.63 L164.78,116.48 L164.99,116.34 L165.21,116.20 L165.43,116.05 L165.65,115.91 L165.87,115.77 L166.08,115.62 L166.30,115.48 L166.52,115.34 L166.74,115.19 L166.96,115.05 L167.17,114.91 L167.39,114.76 L167.61,114.62 L167.83,114.47 L168.05,114.33 L168.26,114.19 L168.48,114.05 L168.70,113.90 L168.92,113.76 L169.13,113.62 L169.35,113.47 L169.57,113.33 L169.79,113.19 L170.01,113.05 L170.22,112.91 L170.44,112.77 L170.66,112.63 L170.88,112.48 L171.10,112.34 L171.31,112.20 L171.53,112.06 L171.75,111.93 L171.97,111.79 L172.19,111.65 L172.40,111.51 L172.62,111.37 L172.84,111.23 L173.06,111.09 L173.27,110.96 L173.49,110.82 L173.71,110.68 L173.93,110.55 L174.15,110.41 L174.36,110.28 L174.58,110.14 L174.80,110.01 L175.02,109.87 L175.24,109.74 L175.45,109.60 L175.67,109.47 L175.89,109.34 L176.11,109.20 L176.33,109.07 L176.54,108.94 L176.76,108.81 L176.98,108.68 L177.20,108.54 L177.42,108.41 L177.63,108.28 L177.85,108.15 L178.07,108.02 L178.29,107.89 L178.50,107.77 L178.72,107.64 L178.94,107.51 L179.16,107.38 L179.38,107.25 L179.59,107.13 L179.81,107.00 L180.03,106.87 L180.25,106.75 L180.47,106.62 L180.68,106.50 L180.90,106.37 L181.12,106.25 L181.34,106.12 L181.56,106.00 L181.77,105.87 L181.99,105.75 L182.21,105.63 L182.43,105.50 L182.65,105.38 L182.86,105.26 L183.08,105.14 L183.30,105.02 L183.52,104.89 L183.73,104.77 L183.95,104.65 L184.17,104.53 L184.39,104.41 L184.61,104.29 L184.82,104.17 L185.04,104.05 L185.26,103.94 L185.48,103.82 L185.70,103.70 L185.91,103.58 L186.13,103.46 L186.35,103.35 L186.57,103.23 L186.79,103.11 L187.00,103.00 L187.22,102.88 L187.44,102.76 L187.66,102.65 L187.87,102.53 L188.09,102.42 L188.31,102.30 L188.53,102.19 L188.75,102.07 L188.96,101.96 L189.18,101.85 L189.40,101.73 L189.62,101.62 L189.84,101.51 L190.05,101.39 L190.27,101.28 L190.49,101.17 L190.71,101.06 L190.93,100.95 L191.14,100.83 L191.36,100.72 L191.58,100.61 L191.80,100.50 L192.02,100.39 L192.23,100.28 L192.45,100.17 L192.67,100.06 L192.89,99.95 L193.10,99.84 L193.32,99.73 L193.54,99.62 L193.76,99.51 L193.98,99.40 L194.19,99.30 L194.41,99.19 L194.63,99.08 L194.85,98.97 L195.07,98.86 L195.28,98.76 L195.50,98.65 L195.72,98.54 L195.94,98.44 L196.16,98.33 L196.37,98.22 L196.59,98.12 L196.81,98.01 L197.03,97.90 L197.24,97.80 L197.46,97.69 L197.68,97.59 L197.90,97.48 L198.12,97.38 L198.33,97.27 L198.55,97.17 L198.77,97.06 L198.99,96.96 L199.21,96.86 L199.42,96.75 L199.64,96.65 L199.86,96.55 L200.08,96.44 L200.30,96.34 L200.51,96.24 L200.73,96.13 L200.95,96.03 L201.17,95.93 L201.39,95.82 L201.60,95.72 L201.82,95.62 L202.04,95.52 L202.26,95.42 L202.47,95.31 L202.69,95.21 L202.91,95.11 L203.13,95.01 L203.35,94.91 L203.56,94.81 L203.78,94.71 L204.00,94.61 L204.22,94.51 L204.44,94.41 L204.65,94.31 L204.87,94.21 L205.09,94.11 L205.31,94.01 L205.53,93.91 L205.74,93.81 L205.96,93.71 L206.18,93.61 L206.40,93.51 L206.62,93.41 L206.83,93.31 L207.05,93.21 L207.27,93.11 L207.49,93.01 L207.70,92.92 L207.92,92.82 L208.14,92.72 L208.36,92.62 L208.58,92.52 L208.79,92.42 L209.01,92.33 L209.23,92.23 L209.45,92.13 L209.67,92.03 L209.88,91.94 L210.10,91.84 L210.32,91.74 L210.54,91.64 L210.76,91.55 L210.97,91.45 L211.19,91.35 L211.41,91.26 L211.63,91.16 L211.84,91.06 L212.06,90.97 L212.28,90.87 L212.50,90.78 L212.72,90.68 L212.93,90.58 L213.15,90.49 L213.37,90.39 L213.59,90.30 L213.81,90.20 L214.02,90.10 L214.24,90.01 L214.46,89.91 L214.68,89.82 L214.90,89.72 L215.11,89.63 L215.33,89.53 L215.55,89.44 L215.77,89.34 L215.99,89.25 L216.20,89.15 L216.42,89.06 L216.64,88.96 L216.86,88.87 L217.07,88.78 L217.29,88.68 L217.51,88.59 L217.73,88.49 L217.95,88.40 L218.16,88.31 L218.38,88.21 L218.60,88.12" fill="none" stroke="#c05a3a" stroke-dasharray="4.8 4.6" stroke-width="1.3" stroke-linejoin="round"/>
<path d="M22.70,69.88 L22.92,69.97 L23.14,70.06 L23.35,70.14 L23.57,70.23 L23.79,70.32 L24.01,70.41 L24.23,70.49 L24.44,70.58 L24.66,70.67 L24.88,70.75 L25.10,70.84 L25.31,70.93 L25.53,71.01 L25.75,71.10 L25.97,71.19 L26.19,71.27 L26.40,71.36 L26.62,71.45 L26.84,71.54 L27.06,71.62 L27.28,71.71 L27.49,71.80 L27.71,71.88 L27.93,71.97 L28.15,72.06 L28.37,72.14 L28.58,72.23 L28.80,72.32 L29.02,72.41 L29.24,72.49 L29.46,72.58 L29.67,72.67 L29.89,72.75 L30.11,72.84 L30.33,72.93 L30.54,73.02 L30.76,73.10 L30.98,73.19 L31.20,73.28 L31.42,73.36 L31.63,73.45 L31.85,73.54 L32.07,73.63 L32.29,73.71 L32.51,73.80 L32.72,73.89 L32.94,73.98 L33.16,74.06 L33.38,74.15 L33.60,74.24 L33.81,74.32 L34.03,74.41 L34.25,74.50 L34.47,74.59 L34.68,74.67 L34.90,74.76 L35.12,74.85 L35.34,74.94 L35.56,75.02 L35.77,75.11 L35.99,75.20 L36.21,75.29 L36.43,75.37 L36.65,75.46 L36.86,75.55 L37.08,75.64 L37.30,75.72 L37.52,75.81 L37.74,75.90 L37.95,75.99 L38.17,76.07 L38.39,76.16 L38.61,76.25 L38.83,76.34 L39.04,76.42 L39.26,76.51 L39.48,76.60 L39.70,76.69 L39.91,76.77 L40.13,76.86 L40.35,76.95 L40.57,77.04 L40.79,77.13 L41.00,77.21 L41.22,77.30 L41.44,77.39 L41.66,77.48 L41.88,77.56 L42.09,77.65 L42.31,77.74 L42.53,77.83 L42.75,77.92 L42.97,78.00 L43.18,78.09 L43.40,78.18 L43.62,78.27 L43.84,78.36 L44.06,78.44 L44.27,78.53 L44.49,78.62 L44.71,78.71 L44.93,78.80 L45.14,78.88 L45.36,78.97 L45.58,79.06 L45.80,79.15 L46.02,79.24 L46.23,79.32 L46.45,79.41 L46.67,79.50 L46.89,79.59 L47.11,79.68 L47.32,79.77 L47.54,79.85 L47.76,79.94 L47.98,80.03 L48.20,80.12 L48.41,80.21 L48.63,80.30 L48.85,80.38 L49.07,80.47 L49.28,80.56 L49.50,80.65 L49.72,80.74 L49.94,80.83 L50.16,80.92 L50.37,81.00 L50.59,81.09 L50.81,81.18 L51.03,81.27 L51.25,81.36 L51.46,81.45 L51.68,81.54 L51.90,81.62 L52.12,81.71 L52.34,81.80 L52.55,81.89 L52.77,81.98 L52.99,82.07 L53.21,82.16 L53.43,82.25 L53.64,82.34 L53.86,82.42 L54.08,82.51 L54.30,82.60 L54.51,82.69 L54.73,82.78 L54.95,82.87 L55.17,82.96 L55.39,83.05 L55.60,83.14 L55.82,83.23 L56.04,83.32 L56.26,83.40 L56.48,83.49 L56.69,83.58 L56.91,83.67 L57.13,83.76 L57.35,83.85 L57.57,83.94 L57.78,84.03 L58.00,84.12 L58.22,84.21 L58.44,84.30 L58.65,84.39 L58.87,84.48 L59.09,84.57 L59.31,84.66 L59.53,84.75 L59.74,84.84 L59.96,84.93 L60.18,85.02 L60.40,85.11 L60.62,85.20 L60.83,85.29 L61.05,85.38 L61.27,85.47 L61.49,85.56 L61.71,85.65 L61.92,85.74 L62.14,85.83 L62.36,85.92 L62.58,86.01 L62.80,86.10 L63.01,86.19 L63.23,86.28 L63.45,86.37 L63.67,86.46 L63.88,86.55 L64.10,86.64 L64.32,86.73 L64.54,86.82 L64.76,86.91 L64.97,87.00 L65.19,87.09 L65.41,87.18 L65.63,87.27 L65.85,87.37 L66.06,87.46 L66.28,87.55 L66.50,87.64 L66.72,87.73 L66.94,87.82 L67.15,87.91 L67.37,88.00 L67.59,88.09 L67.81,88.19 L68.03,88.28 L68.24,88.37 L68.46,88.46 L68.68,88.55 L68.90,88.64 L69.11,88.73 L69.33,88.83 L69.55,88.92 L69.77,89.01 L69.99,89.10 L70.20,89.19 L70.42,89.28 L70.64,89.38 L70.86,89.47 L71.08,89.56 L71.29,89.65 L71.51,89.74 L71.73,89.84 L71.95,89.93 L72.17,90.02 L72.38,90.11 L72.60,90.21 L72.82,90.30 L73.04,90.39 L73.25,90.48 L73.47,90.58 L73.69,90.67 L73.91,90.76 L74.13,90.85 L74.34,90.95 L74.56,91.04 L74.78,91.13 L75.00,91.23 L75.22,91.32 L75.43,91.41 L75.65,91.51 L75.87,91.60 L76.09,91.69 L76.31,91.79 L76.52,91.88 L76.74,91.97 L76.96,92.07 L77.18,92.16 L77.40,92.26 L77.61,92.35 L77.83,92.44 L78.05,92.54 L78.27,92.63 L78.48,92.73 L78.70,92.82 L78.92,92.91 L79.14,93.01 L79.36,93.10 L79.57,93.20 L79.79,93.29 L80.01,93.39 L80.23,93.48 L80.45,93.58 L80.66,93.67 L80.88,93.77 L81.10,93.86 L81.32,93.96 L81.54,94.05 L81.75,94.15 L81.97,94.24 L82.19,94.34 L82.41,94.44 L82.62,94.53 L82.84,94.63 L83.06,94.72 L83.28,94.82 L83.50,94.92 L83.71,95.01 L83.93,95.11 L84.15,95.20 L84.37,95.30 L84.59,95.40 L84.80,95.49 L85.02,95.59 L85.24,95.69 L85.46,95.78 L85.68,95.88 L85.89,95.98 L86.11,96.08 L86.33,96.17 L86.55,96.27 L86.77,96.37 L86.98,96.47 L87.20,96.56 L87.42,96.66 L87.64,96.76 L87.85,96.86 L88.07,96.96 L88.29,97.06 L88.51,97.15 L88.73,97.25 L88.94,97.35 L89.16,97.45 L89.38,97.55 L89.60,97.65 L89.82,97.75 L90.03,97.85 L90.25,97.95 L90.47,98.05 L90.69,98.14 L90.91,98.24 L91.12,98.34 L91.34,98.44 L91.56,98.54 L91.78,98.65 L91.99,98.75 L92.21,98.85 L92.43,98.95 L92.65,99.05 L92.87,99.15 L93.08,99.25 L93.30,99.35 L93.52,99.45 L93.74,99.55 L93.96,99.66 L94.17,99.76 L94.39,99.86 L94.61,99.96 L94.83,100.06 L95.05,100.17 L95.26,100.27 L95.48,100.37 L95.70,100.47 L95.92,100.58 L96.14,100.68 L96.35,100.78 L96.57,100.89 L96.79,100.99 L97.01,101.09 L97.22,101.20 L97.44,101.30 L97.66,101.41 L97.88,101.51 L98.10,101.61 L98.31,101.72 L98.53,101.82 L98.75,101.93 L98.97,102.03 L99.19,102.14 L99.40,102.24 L99.62,102.35 L99.84,102.46 L100.06,102.56 L100.28,102.67 L100.49,102.77 L100.71,102.88 L100.93,102.99 L101.15,103.09 L101.37,103.20 L101.58,103.31 L101.80,103.42 L102.02,103.52 L102.24,103.63 L102.45,103.74 L102.67,103.85 L102.89,103.96 L103.11,104.07 L103.33,104.17 L103.54,104.28 L103.76,104.39 L103.98,104.50 L104.20,104.61 L104.42,104.72 L104.63,104.83 L104.85,104.94 L105.07,105.05 L105.29,105.16 L105.51,105.27 L105.72,105.38 L105.94,105.49 L106.16,105.61 L106.38,105.72 L106.59,105.83 L106.81,105.94 L107.03,106.05 L107.25,106.17 L107.47,106.28 L107.68,106.39 L107.90,106.50 L108.12,106.62 L108.34,106.73 L108.56,106.84 L108.77,106.96 L108.99,107.07 L109.21,107.19 L109.43,107.30 L109.65,107.42 L109.86,107.53 L110.08,107.65 L110.30,107.76 L110.52,107.88 L110.74,107.99 L110.95,108.11 L111.17,108.23 L111.39,108.34 L111.61,108.46 L111.82,108.58 L112.04,108.69 L112.26,108.81 L112.48,108.93 L112.70,109.05 L112.91,109.16 L113.13,109.28 L113.35,109.40 L113.57,109.52 L113.79,109.64 L114.00,109.76 L114.22,109.88 L114.44,110.00 L114.66,110.12 L114.88,110.24 L115.09,110.36 L115.31,110.48 L115.53,110.60 L115.75,110.72 L115.96,110.84 L116.18,110.96 L116.40,111.08 L116.62,111.20 L116.84,111.33 L117.05,111.45 L117.27,111.57 L117.49,111.69 L117.71,111.82 L117.93,111.94 L118.14,112.06 L118.36,112.18 L118.58,112.31 L118.80,112.43 L119.02,112.55 L119.23,112.68 L119.45,112.80 L119.67,112.93 L119.89,113.05 L120.11,113.17 L120.32,113.30 L120.54,113.42 L120.76,113.55 L120.98,113.67 L121.19,113.80 L121.41,113.92 L121.63,114.05 L121.85,114.17 L122.07,114.30 L122.28,114.42 L122.50,114.55 L122.72,114.67 L122.94,114.80 L123.16,114.92 L123.37,115.05 L123.59,115.17 L123.81,115.30 L124.03,115.42 L124.25,115.55 L124.46,115.67 L124.68,115.80 L124.90,115.92 L125.12,116.05 L125.34,116.17 L125.55,116.30 L125.77,116.42 L125.99,116.54 L126.21,116.67 L126.42,116.79 L126.64,116.91 L126.86,117.04 L127.08,117.16 L127.30,117.28 L127.51,117.40 L127.73,117.52 L127.95,117.64 L128.17,117.77 L128.39,117.89 L128.60,118.01 L128.82,118.12 L129.04,118.24 L129.26,118.36 L129.48,118.48 L129.69,118.59 L129.91,118.71 L130.13,118.83 L130.35,118.94 L130.56,119.05 L130.78,119.17 L131.00,119.28 L131.22,119.39 L131.44,119.50 L131.65,119.61 L131.87,119.72 L132.09,119.83 L132.31,119.93 L132.53,120.04 L132.74,120.14 L132.96,120.24 L133.18,120.34 L133.40,120.44 L133.62,120.54 L133.83,120.64 L134.05,120.74 L134.27,120.83 L134.49,120.92 L134.71,121.01 L134.92,121.10 L135.14,121.19 L135.36,121.28 L135.58,121.36 L135.79,121.44 L136.01,121.52 L136.23,121.60 L136.45,121.68 L136.67,121.75 L136.88,121.82 L137.10,121.89 L137.32,121.96 L137.54,122.03 L137.76,122.09 L137.97,122.15 L138.19,122.21 L138.41,122.27 L138.63,122.32 L138.85,122.37 L139.06,122.42 L139.28,122.47 L139.50,122.51 L139.72,122.55 L139.93,122.59 L140.15,122.63 L140.37,122.66 L140.59,122.69 L140.81,122.72 L141.02,122.74 L141.24,122.76 L141.46,122.78 L141.68,122.80 L141.90,122.81 L142.11,122.82 L142.33,122.83 L142.55,122.83 L142.77,122.84 L142.99,122.83 L143.20,122.83 L143.42,122.82 L143.64,122.81 L143.86,122.80 L144.08,122.79 L144.29,122.77 L144.51,122.75 L144.73,122.72 L144.95,122.69 L145.16,122.66 L145.38,122.63 L145.60,122.60 L145.82,122.56 L146.04,122.52 L146.25,122.47 L146.47,122.43 L146.69,122.38 L146.91,122.33 L147.13,122.27 L147.34,122.22 L147.56,122.16 L147.78,122.10 L148.00,122.04 L148.22,121.97 L148.43,121.90 L148.65,121.83 L148.87,121.76 L149.09,121.69 L149.31,121.61 L149.52,121.53 L149.74,121.45 L149.96,121.37 L150.18,121.29 L150.39,121.20 L150.61,121.11 L150.83,121.02 L151.05,120.93 L151.27,120.84 L151.48,120.75 L151.70,120.65 L151.92,120.55 L152.14,120.46 L152.36,120.36 L152.57,120.25 L152.79,120.15 L153.01,120.05 L153.23,119.94 L153.45,119.84 L153.66,119.73 L153.88,119.62 L154.10,119.51 L154.32,119.40 L154.53,119.29 L154.75,119.18 L154.97,119.07 L155.19,118.95 L155.41,118.84 L155.62,118.72 L155.84,118.61 L156.06,118.49 L156.28,118.37 L156.50,118.26 L156.71,118.14 L156.93,118.02 L157.15,117.90 L157.37,117.78 L157.59,117.66 L157.80,117.54 L158.02,117.42 L158.24,117.29 L158.46,117.17 L158.68,117.05 L158.89,116.93 L159.11,116.80 L159.33,116.68 L159.55,116.56 L159.76,116.43 L159.98,116.31 L160.20,116.19 L160.42,116.06 L160.64,115.94 L160.85,115.81 L161.07,115.69 L161.29,115.56 L161.51,115.44 L161.73,115.31 L161.94,115.19 L162.16,115.06 L162.38,114.94 L162.60,114.81 L162.82,114.69 L163.03,114.56 L163.25,114.44 L163.47,114.31 L163.69,114.19 L163.90,114.06 L164.12,113.94 L164.34,113.81 L164.56,113.69 L164.78,113.56 L164.99,113.44 L165.21,113.31 L165.43,113.19 L165.65,113.06 L165.87,112.94 L166.08,112.82 L166.30,112.69 L166.52,112.57 L166.74,112.45 L166.96,112.32 L167.17,112.20 L167.39,112.08 L167.61,111.95 L167.83,111.83 L168.05,111.71 L168.26,111.58 L168.48,111.46 L168.70,111.34 L168.92,111.22 L169.13,111.10 L169.35,110.98 L169.57,110.85 L169.79,110.73 L170.01,110.61 L170.22,110.49 L170.44,110.37 L170.66,110.25 L170.88,110.13 L171.10,110.01 L171.31,109.89 L171.53,109.77 L171.75,109.65 L171.97,109.53 L172.19,109.41 L172.40,109.30 L172.62,109.18 L172.84,109.06 L173.06,108.94 L173.27,108.82 L173.49,108.71 L173.71,108.59 L173.93,108.47 L174.15,108.36 L174.36,108.24 L174.58,108.12 L174.80,108.01 L175.02,107.89 L175.24,107.78 L175.45,107.66 L175.67,107.54 L175.89,107.43 L176.11,107.31 L176.33,107.20 L176.54,107.09 L176.76,106.97 L176.98,106.86 L177.20,106.74 L177.42,106.63 L177.63,106.52 L177.85,106.40 L178.07,106.29 L178.29,106.18 L178.50,106.07 L178.72,105.95 L178.94,105.84 L179.16,105.73 L179.38,105.62 L179.59,105.51 L179.81,105.40 L180.03,105.28 L180.25,105.17 L180.47,105.06 L180.68,104.95 L180.90,104.84 L181.12,104.73 L181.34,104.62 L181.56,104.51 L181.77,104.40 L181.99,104.30 L182.21,104.19 L182.43,104.08 L182.65,103.97 L182.86,103.86 L183.08,103.75 L183.30,103.64 L183.52,103.54 L183.73,103.43 L183.95,103.32 L184.17,103.21 L184.39,103.11 L184.61,103.00 L184.82,102.89 L185.04,102.79 L185.26,102.68 L185.48,102.57 L185.70,102.47 L185.91,102.36 L186.13,102.26 L186.35,102.15 L186.57,102.05 L186.79,101.94 L187.00,101.84 L187.22,101.73 L187.44,101.63 L187.66,101.52 L187.87,101.42 L188.09,101.31 L188.31,101.21 L188.53,101.11 L188.75,101.00 L188.96,100.90 L189.18,100.79 L189.40,100.69 L189.62,100.59 L189.84,100.49 L190.05,100.38 L190.27,100.28 L190.49,100.18 L190.71,100.07 L190.93,99.97 L191.14,99.87 L191.36,99.77 L191.58,99.67 L191.80,99.57 L192.02,99.46 L192.23,99.36 L192.45,99.26 L192.67,99.16 L192.89,99.06 L193.10,98.96 L193.32,98.86 L193.54,98.76 L193.76,98.66 L193.98,98.56 L194.19,98.46 L194.41,98.36 L194.63,98.26 L194.85,98.16 L195.07,98.06 L195.28,97.96 L195.50,97.86 L195.72,97.76 L195.94,97.66 L196.16,97.56 L196.37,97.46 L196.59,97.36 L196.81,97.26 L197.03,97.16 L197.24,97.07 L197.46,96.97 L197.68,96.87 L197.90,96.77 L198.12,96.67 L198.33,96.58 L198.55,96.48 L198.77,96.38 L198.99,96.28 L199.21,96.18 L199.42,96.09 L199.64,95.99 L199.86,95.89 L200.08,95.80 L200.30,95.70 L200.51,95.60 L200.73,95.51 L200.95,95.41 L201.17,95.31 L201.39,95.22 L201.60,95.12 L201.82,95.02 L202.04,94.93 L202.26,94.83 L202.47,94.73 L202.69,94.64 L202.91,94.54 L203.13,94.45 L203.35,94.35 L203.56,94.26 L203.78,94.16 L204.00,94.06 L204.22,93.97 L204.44,93.87 L204.65,93.78 L204.87,93.68 L205.09,93.59 L205.31,93.49 L205.53,93.40 L205.74,93.30 L205.96,93.21 L206.18,93.11 L206.40,93.02 L206.62,92.93 L206.83,92.83 L207.05,92.74 L207.27,92.64 L207.49,92.55 L207.70,92.45 L207.92,92.36 L208.14,92.27 L208.36,92.17 L208.58,92.08 L208.79,91.98 L209.01,91.89 L209.23,91.80 L209.45,91.70 L209.67,91.61 L209.88,91.52 L210.10,91.42 L210.32,91.33 L210.54,91.24 L210.76,91.14 L210.97,91.05 L211.19,90.96 L211.41,90.87 L211.63,90.77 L211.84,90.68 L212.06,90.59 L212.28,90.49 L212.50,90.40 L212.72,90.31 L212.93,90.22 L213.15,90.12 L213.37,90.03 L213.59,89.94 L213.81,89.85 L214.02,89.76 L214.24,89.66 L214.46,89.57 L214.68,89.48 L214.90,89.39 L215.11,89.29 L215.33,89.20 L215.55,89.11 L215.77,89.02 L215.99,88.93 L216.20,88.84 L216.42,88.74 L216.64,88.65 L216.86,88.56 L217.07,88.47 L217.29,88.38 L217.51,88.29 L217.73,88.20 L217.95,88.10 L218.16,88.01 L218.38,87.92 L218.60,87.83" fill="none" stroke="#e9bb42" stroke-width="1.6" stroke-linejoin="round"/>
<path d="M22.70,107.50 L22.92,107.41 L23.14,107.31 L23.35,107.22 L23.57,107.12 L23.79,107.03 L24.01,106.94 L24.23,106.84 L24.44,106.75 L24.66,106.65 L24.88,106.56 L25.10,106.46 L25.31,106.37 L25.53,106.28 L25.75,106.18 L25.97,106.09 L26.19,105.99 L26.40,105.90 L26.62,105.80 L26.84,105.71 L27.06,105.61 L27.28,105.52 L27.49,105.42 L27.71,105.32 L27.93,105.23 L28.15,105.13 L28.37,105.04 L28.58,104.94 L28.80,104.84 L29.02,104.75 L29.24,104.65 L29.46,104.56 L29.67,104.46 L29.89,104.36 L30.11,104.27 L30.33,104.17 L30.54,104.07 L30.76,103.98 L30.98,103.88 L31.20,103.78 L31.42,103.68 L31.63,103.59 L31.85,103.49 L32.07,103.39 L32.29,103.29 L32.51,103.20 L32.72,103.10 L32.94,103.00 L33.16,102.90 L33.38,102.80 L33.60,102.70 L33.81,102.60 L34.03,102.51 L34.25,102.41 L34.47,102.31 L34.68,102.21 L34.90,102.11 L35.12,102.01 L35.34,101.91 L35.56,101.81 L35.77,101.71 L35.99,101.61 L36.21,101.51 L36.43,101.41 L36.65,101.31 L36.86,101.21 L37.08,101.11 L37.30,101.01 L37.52,100.91 L37.74,100.80 L37.95,100.70 L38.17,100.60 L38.39,100.50 L38.61,100.40 L38.83,100.30 L39.04,100.19 L39.26,100.09 L39.48,99.99 L39.70,99.89 L39.91,99.78 L40.13,99.68 L40.35,99.58 L40.57,99.47 L40.79,99.37 L41.00,99.27 L41.22,99.16 L41.44,99.06 L41.66,98.95 L41.88,98.85 L42.09,98.74 L42.31,98.64 L42.53,98.53 L42.75,98.43 L42.97,98.32 L43.18,98.22 L43.40,98.11 L43.62,98.00 L43.84,97.90 L44.06,97.79 L44.27,97.68 L44.49,97.58 L44.71,97.47 L44.93,97.36 L45.14,97.25 L45.36,97.14 L45.58,97.04 L45.80,96.93 L46.02,96.82 L46.23,96.71 L46.45,96.60 L46.67,96.49 L46.89,96.38 L47.11,96.27 L47.32,96.16 L47.54,96.05 L47.76,95.94 L47.98,95.83 L48.20,95.71 L48.41,95.60 L48.63,95.49 L48.85,95.38 L49.07,95.27 L49.28,95.15 L49.50,95.04 L49.72,94.93 L49.94,94.81 L50.16,94.70 L50.37,94.58 L50.59,94.47 L50.81,94.35 L51.03,94.24 L51.25,94.12 L51.46,94.00 L51.68,93.89 L51.90,93.77 L52.12,93.65 L52.34,93.53 L52.55,93.42 L52.77,93.30 L52.99,93.18 L53.21,93.06 L53.43,92.94 L53.64,92.82 L53.86,92.70 L54.08,92.58 L54.30,92.46 L54.51,92.33 L54.73,92.21 L54.95,92.09 L55.17,91.97 L55.39,91.84 L55.60,91.72 L55.82,91.59 L56.04,91.47 L56.26,91.34 L56.48,91.22 L56.69,91.09 L56.91,90.96 L57.13,90.84 L57.35,90.71 L57.57,90.58 L57.78,90.45 L58.00,90.32 L58.22,90.19 L58.44,90.06 L58.65,89.93 L58.87,89.80 L59.09,89.67 L59.31,89.53 L59.53,89.40 L59.74,89.26 L59.96,89.13 L60.18,88.99 L60.40,88.86 L60.62,88.72 L60.83,88.58 L61.05,88.45 L61.27,88.31 L61.49,88.17 L61.71,88.03 L61.92,87.89 L62.14,87.74 L62.36,87.60 L62.58,87.46 L62.80,87.31 L63.01,87.17 L63.23,87.02 L63.45,86.88 L63.67,86.73 L63.88,86.58 L64.10,86.43 L64.32,86.28 L64.54,86.13 L64.76,85.98 L64.97,85.83 L65.19,85.67 L65.41,85.52 L65.63,85.36 L65.85,85.21 L66.06,85.05 L66.28,84.89 L66.50,84.73 L66.72,84.57 L66.94,84.41 L67.15,84.25 L67.37,84.08 L67.59,83.92 L67.81,83.75 L68.03,83.58 L68.24,83.41 L68.46,83.24 L68.68,83.07 L68.90,82.90 L69.11,82.72 L69.33,82.55 L69.55,82.37 L69.77,82.19 L69.99,82.01 L70.20,81.83 L70.42,81.65 L70.64,81.46 L70.86,81.28 L71.08,81.09 L71.29,80.90 L71.51,80.71 L71.73,80.51 L71.95,80.32 L72.17,80.12 L72.38,79.92 L72.60,79.72 L72.82,79.52 L73.04,79.31 L73.25,79.11 L73.47,78.90 L73.69,78.68 L73.91,78.47 L74.13,78.25 L74.34,78.04 L74.56,77.82 L74.78,77.59 L75.00,77.37 L75.22,77.14 L75.43,76.91 L75.65,76.67 L75.87,76.43 L76.09,76.19 L76.31,75.95 L76.52,75.70 L76.74,75.45 L76.96,75.20 L77.18,74.94 L77.40,74.68 L77.61,74.42 L77.83,74.15 L78.05,73.88 L78.27,73.60 L78.48,73.32 L78.70,73.04 L78.92,72.75 L79.14,72.45 L79.36,72.16 L79.57,71.85 L79.79,71.54 L80.01,71.23 L80.23,70.91 L80.45,70.58 L80.66,70.25 L80.88,69.91 L81.10,69.57 L81.32,69.22 L81.54,68.86 L81.75,68.49 L81.97,68.12 L82.19,67.74 L82.41,67.35 L82.62,66.95 L82.84,66.54 L83.06,66.12 L83.28,65.69 L83.50,65.25 L83.71,64.80 L83.93,64.34 L84.15,63.86 L84.37,63.38 L84.59,62.87 L84.80,62.36 L85.02,61.82 L85.24,61.28 L85.46,60.71 L85.68,60.12 L85.89,59.52 L86.11,58.89 L86.33,58.24 L86.55,57.57 L86.77,56.86 L86.98,56.13 L87.20,55.37 L87.42,54.58 L87.64,53.75 L87.85,52.88 L88.07,51.97 L88.29,51.01 L88.51,50.00 L88.73,48.93 L88.94,47.80 L89.16,46.60 L89.38,45.32 L89.60,43.96 L89.82,42.51 L90.03,40.95 L90.25,39.29 L90.47,37.51 L90.69,35.62 L90.91,33.64 L91.12,31.62 L91.34,29.67 L91.56,27.97 L91.78,26.78 L91.99,26.37 L92.21,26.86 L92.43,28.12 L92.65,29.91 L92.87,31.96 L93.08,34.07 L93.30,36.15 L93.52,38.14 L93.74,40.02 L93.96,41.78 L94.17,43.44 L94.39,45.00 L94.61,46.46 L94.83,47.84 L95.05,49.14 L95.26,50.37 L95.48,51.54 L95.70,52.65 L95.92,53.71 L96.14,54.73 L96.35,55.70 L96.57,56.63 L96.79,57.53 L97.01,58.39 L97.22,59.23 L97.44,60.03 L97.66,60.81 L97.88,61.56 L98.10,62.30 L98.31,63.01 L98.53,63.70 L98.75,64.37 L98.97,65.03 L99.19,65.67 L99.40,66.29 L99.62,66.91 L99.84,67.50 L100.06,68.09 L100.28,68.66 L100.49,69.22 L100.71,69.77 L100.93,70.32 L101.15,70.85 L101.37,71.37 L101.58,71.89 L101.80,72.39 L102.02,72.89 L102.24,73.39 L102.45,73.87 L102.67,74.35 L102.89,74.82 L103.11,75.29 L103.33,75.75 L103.54,76.21 L103.76,76.66 L103.98,77.11 L104.20,77.55 L104.42,77.99 L104.63,78.42 L104.85,78.85 L105.07,79.28 L105.29,79.70 L105.51,80.12 L105.72,80.54 L105.94,80.96 L106.16,81.37 L106.38,81.78 L106.59,82.19 L106.81,82.60 L107.03,83.00 L107.25,83.40 L107.47,83.80 L107.68,84.20 L107.90,84.60 L108.12,85.00 L108.34,85.40 L108.56,85.79 L108.77,86.19 L108.99,86.58 L109.21,86.98 L109.43,87.37 L109.65,87.76 L109.86,88.16 L110.08,88.55 L110.30,88.95 L110.52,89.34 L110.74,89.74 L110.95,90.13 L111.17,90.53 L111.39,90.93 L111.61,91.33 L111.82,91.73 L112.04,92.13 L112.26,92.54 L112.48,92.94 L112.70,93.35 L112.91,93.76 L113.13,94.17 L113.35,94.59 L113.57,95.01 L113.79,95.43 L114.00,95.85 L114.22,96.28 L114.44,96.71 L114.66,97.14 L114.88,97.58 L115.09,98.02 L115.31,98.47 L115.53,98.92 L115.75,99.38 L115.96,99.84 L116.18,100.31 L116.40,100.78 L116.62,101.26 L116.84,101.74 L117.05,102.24 L117.27,102.73 L117.49,103.24 L117.71,103.76 L117.93,104.28 L118.14,104.81 L118.36,105.35 L118.58,105.90 L118.80,106.47 L119.02,107.04 L119.23,107.62 L119.45,108.22 L119.67,108.83 L119.89,109.46 L120.11,110.10 L120.32,110.75 L120.54,111.43 L120.76,112.12 L120.98,112.83 L121.19,113.56 L121.41,114.31 L121.63,115.09 L121.85,115.89 L122.07,116.72 L122.28,117.58 L122.50,118.47 L122.72,119.39 L122.94,120.35 L123.16,121.36 L123.37,122.40 L123.59,123.50 L123.81,124.64 L124.03,125.84 L124.25,127.10 L124.46,128.42 L124.68,129.80 L124.90,131.26 L125.12,132.78 L125.34,134.36 L125.55,135.98 L125.77,137.63 L125.99,139.24 L126.21,140.75 L126.42,142.05 L126.64,143.00 L126.86,143.48 L127.08,143.43 L127.30,142.85 L127.51,141.85 L127.73,140.54 L127.95,139.07 L128.17,137.52 L128.39,135.96 L128.60,134.44 L128.82,132.96 L129.04,131.55 L129.26,130.21 L129.48,128.93 L129.69,127.72 L129.91,126.57 L130.13,125.47 L130.35,124.44 L130.56,123.45 L130.78,122.50 L131.00,121.60 L131.22,120.74 L131.44,119.92 L131.65,119.12 L131.87,118.36 L132.09,117.63 L132.31,116.93 L132.53,116.25 L132.74,115.60 L132.96,114.96 L133.18,114.35 L133.40,113.76 L133.62,113.18 L133.83,112.63 L134.05,112.08 L134.27,111.56 L134.49,111.05 L134.71,110.55 L134.92,110.06 L135.14,109.59 L135.36,109.13 L135.58,108.67 L135.79,108.23 L136.01,107.80 L136.23,107.38 L136.45,106.97 L136.67,106.57 L136.88,106.17 L137.10,105.78 L137.32,105.40 L137.54,105.03 L137.76,104.67 L137.97,104.31 L138.19,103.95 L138.41,103.61 L138.63,103.27 L138.85,102.93 L139.06,102.60 L139.28,102.28 L139.50,101.96 L139.72,101.64 L139.93,101.33 L140.15,101.02 L140.37,100.72 L140.59,100.43 L140.81,100.13 L141.02,99.84 L141.24,99.56 L141.46,99.27 L141.68,98.99 L141.90,98.72 L142.11,98.45 L142.33,98.18 L142.55,97.91 L142.77,97.65 L142.99,97.39 L143.20,97.13 L143.42,96.87 L143.64,96.62 L143.86,96.37 L144.08,96.12 L144.29,95.88 L144.51,95.63 L144.73,95.39 L144.95,95.15 L145.16,94.92 L145.38,94.68 L145.60,94.45 L145.82,94.21 L146.04,93.98 L146.25,93.76 L146.47,93.53 L146.69,93.30 L146.91,93.08 L147.13,92.86 L147.34,92.64 L147.56,92.42 L147.78,92.20 L148.00,91.98 L148.22,91.77 L148.43,91.55 L148.65,91.34 L148.87,91.13 L149.09,90.92 L149.31,90.71 L149.52,90.50 L149.74,90.29 L149.96,90.08 L150.18,89.87 L150.39,89.67 L150.61,89.46 L150.83,89.26 L151.05,89.05 L151.27,88.85 L151.48,88.65 L151.70,88.44 L151.92,88.24 L152.14,88.04 L152.36,87.84 L152.57,87.64 L152.79,87.44 L153.01,87.24 L153.23,87.04 L153.45,86.84 L153.66,86.64 L153.88,86.44 L154.10,86.24 L154.32,86.04 L154.53,85.84 L154.75,85.64 L154.97,85.44 L155.19,85.24 L155.41,85.04 L155.62,84.84 L155.84,84.64 L156.06,84.44 L156.28,84.24 L156.50,84.04 L156.71,83.84 L156.93,83.64 L157.15,83.43 L157.37,83.23 L157.59,83.03 L157.80,82.82 L158.02,82.62 L158.24,82.41 L158.46,82.20 L158.68,82.00 L158.89,81.79 L159.11,81.58 L159.33,81.37 L159.55,81.15 L159.76,80.94 L159.98,80.73 L160.20,80.51 L160.42,80.29 L160.64,80.07 L160.85,79.85 L161.07,79.63 L161.29,79.41 L161.51,79.18 L161.73,78.95 L161.94,78.72 L162.16,78.49 L162.38,78.26 L162.60,78.02 L162.82,77.78 L163.03,77.54 L163.25,77.29 L163.47,77.04 L163.69,76.79 L163.90,76.54 L164.12,76.28 L164.34,76.02 L164.56,75.75 L164.78,75.48 L164.99,75.21 L165.21,74.93 L165.43,74.65 L165.65,74.36 L165.87,74.07 L166.08,73.77 L166.30,73.47 L166.52,73.16 L166.74,72.84 L166.96,72.52 L167.17,72.19 L167.39,71.85 L167.61,71.50 L167.83,71.15 L168.05,70.78 L168.26,70.41 L168.48,70.03 L168.70,69.63 L168.92,69.23 L169.13,68.81 L169.35,68.38 L169.57,67.94 L169.79,67.48 L170.01,67.00 L170.22,66.51 L170.44,66.00 L170.66,65.47 L170.88,64.92 L171.10,64.35 L171.31,63.75 L171.53,63.12 L171.75,62.47 L171.97,61.79 L172.19,61.08 L172.40,60.34 L172.62,59.56 L172.84,58.74 L173.06,57.88 L173.27,56.99 L173.49,56.06 L173.71,55.09 L173.93,54.10 L174.15,53.09 L174.36,52.09 L174.58,51.11 L174.80,50.21 L175.02,49.44 L175.24,48.87 L175.45,48.56 L175.67,48.59 L175.89,48.98 L176.11,49.74 L176.33,50.82 L176.54,52.16 L176.76,53.68 L176.98,55.33 L177.20,57.04 L177.42,58.79 L177.63,60.55 L177.85,62.30 L178.07,64.02 L178.29,65.73 L178.50,67.41 L178.72,69.06 L178.94,70.70 L179.16,72.31 L179.38,73.91 L179.59,75.50 L179.81,77.07 L180.03,78.64 L180.25,80.22 L180.47,81.79 L180.68,83.37 L180.90,84.96 L181.12,86.57 L181.34,88.19 L181.56,89.83 L181.77,91.49 L181.99,93.17 L182.21,94.87 L182.43,96.58 L182.65,98.29 L182.86,99.99 L183.08,101.65 L183.30,103.23 L183.52,104.68 L183.73,105.95 L183.95,106.98 L184.17,107.70 L184.39,108.08 L184.61,108.13 L184.82,107.88 L185.04,107.37 L185.26,106.67 L185.48,105.85 L185.70,104.95 L185.91,104.01 L186.13,103.07 L186.35,102.13 L186.57,101.21 L186.79,100.32 L187.00,99.47 L187.22,98.65 L187.44,97.87 L187.66,97.12 L187.87,96.40 L188.09,95.72 L188.31,95.06 L188.53,94.43 L188.75,93.84 L188.96,93.26 L189.18,92.71 L189.40,92.18 L189.62,91.67 L189.84,91.18 L190.05,90.71 L190.27,90.26 L190.49,89.82 L190.71,89.40 L190.93,88.99 L191.14,88.59 L191.36,88.21 L191.58,87.84 L191.80,87.48 L192.02,87.13 L192.23,86.78 L192.45,86.45 L192.67,86.13 L192.89,85.82 L193.10,85.51 L193.32,85.21 L193.54,84.92 L193.76,84.63 L193.98,84.36 L194.19,84.08 L194.41,83.82 L194.63,83.56 L194.85,83.30 L195.07,83.05 L195.28,82.80 L195.50,82.56 L195.72,82.32 L195.94,82.09 L196.16,81.86 L196.37,81.64 L196.59,81.42 L196.81,81.20 L197.03,80.99 L197.24,80.78 L197.46,80.57 L197.68,80.37 L197.90,80.17 L198.12,79.97 L198.33,79.77 L198.55,79.58 L198.77,79.39 L198.99,79.20 L199.21,79.02 L199.42,78.83 L199.64,78.65 L199.86,78.47 L200.08,78.30 L200.30,78.12 L200.51,77.95 L200.73,77.78 L200.95,77.61 L201.17,77.44 L201.39,77.28 L201.60,77.11 L201.82,76.95 L202.04,76.79 L202.26,76.63 L202.47,76.48 L202.69,76.32 L202.91,76.17 L203.13,76.01 L203.35,75.86 L203.56,75.71 L203.78,75.56 L204.00,75.41 L204.22,75.26 L204.44,75.12 L204.65,74.97 L204.87,74.83 L205.09,74.69 L205.31,74.55 L205.53,74.40 L205.74,74.27 L205.96,74.13 L206.18,73.99 L206.40,73.85 L206.62,73.72 L206.83,73.58 L207.05,73.45 L207.27,73.31 L207.49,73.18 L207.70,73.05 L207.92,72.92 L208.14,72.79 L208.36,72.66 L208.58,72.53 L208.79,72.40 L209.01,72.27 L209.23,72.15 L209.45,72.02 L209.67,71.89 L209.88,71.77 L210.10,71.65 L210.32,71.52 L210.54,71.40 L210.76,71.28 L210.97,71.15 L211.19,71.03 L211.41,70.91 L211.63,70.79 L211.84,70.67 L212.06,70.55 L212.28,70.43 L212.50,70.31 L212.72,70.20 L212.93,70.08 L213.15,69.96 L213.37,69.85 L213.59,69.73 L213.81,69.61 L214.02,69.50 L214.24,69.38 L214.46,69.27 L214.68,69.16 L214.90,69.04 L215.11,68.93 L215.33,68.82 L215.55,68.70 L215.77,68.59 L215.99,68.48 L216.20,68.37 L216.42,68.26 L216.64,68.15 L216.86,68.04 L217.07,67.93 L217.29,67.82 L217.51,67.71 L217.73,67.60 L217.95,67.49 L218.16,67.38 L218.38,67.27 L218.60,67.17" fill="none" stroke="#603373" stroke-width="1.35" stroke-linejoin="round"/>
</g>
<clipPath id="cB"><rect x="314.6" y="11.5" width="196.2" height="151.9"/></clipPath>
<g clip-path="url(#cB)">
<path d="M314.60,97.87 L314.82,97.68 L315.04,97.50 L315.25,97.32 L315.47,97.13 L315.69,96.95 L315.91,96.76 L316.13,96.58 L316.35,96.40 L316.56,96.21 L316.78,96.03 L317.00,95.84 L317.22,95.66 L317.44,95.47 L317.66,95.29 L317.87,95.10 L318.09,94.92 L318.31,94.74 L318.53,94.55 L318.75,94.36 L318.96,94.18 L319.18,93.99 L319.40,93.81 L319.62,93.62 L319.84,93.44 L320.06,93.25 L320.27,93.07 L320.49,92.88 L320.71,92.69 L320.93,92.51 L321.15,92.32 L321.37,92.13 L321.58,91.95 L321.80,91.76 L322.02,91.57 L322.24,91.39 L322.46,91.20 L322.67,91.01 L322.89,90.82 L323.11,90.64 L323.33,90.45 L323.55,90.26 L323.77,90.07 L323.98,89.88 L324.20,89.69 L324.42,89.50 L324.64,89.31 L324.86,89.12 L325.08,88.94 L325.29,88.75 L325.51,88.56 L325.73,88.36 L325.95,88.17 L326.17,87.98 L326.39,87.79 L326.60,87.60 L326.82,87.41 L327.04,87.22 L327.26,87.03 L327.48,86.83 L327.69,86.64 L327.91,86.45 L328.13,86.25 L328.35,86.06 L328.57,85.87 L328.79,85.67 L329.00,85.48 L329.22,85.28 L329.44,85.09 L329.66,84.89 L329.88,84.70 L330.10,84.50 L330.31,84.30 L330.53,84.11 L330.75,83.91 L330.97,83.71 L331.19,83.51 L331.40,83.32 L331.62,83.12 L331.84,82.92 L332.06,82.72 L332.28,82.52 L332.50,82.32 L332.71,82.12 L332.93,81.92 L333.15,81.72 L333.37,81.51 L333.59,81.31 L333.81,81.11 L334.02,80.90 L334.24,80.70 L334.46,80.50 L334.68,80.29 L334.90,80.08 L335.11,79.88 L335.33,79.67 L335.55,79.46 L335.77,79.26 L335.99,79.05 L336.21,78.84 L336.42,78.63 L336.64,78.42 L336.86,78.21 L337.08,78.00 L337.30,77.78 L337.52,77.57 L337.73,77.36 L337.95,77.14 L338.17,76.93 L338.39,76.71 L338.61,76.50 L338.82,76.28 L339.04,76.06 L339.26,75.84 L339.48,75.62 L339.70,75.40 L339.92,75.18 L340.13,74.96 L340.35,74.74 L340.57,74.52 L340.79,74.29 L341.01,74.07 L341.23,73.84 L341.44,73.61 L341.66,73.38 L341.88,73.15 L342.10,72.92 L342.32,72.69 L342.54,72.46 L342.75,72.23 L342.97,71.99 L343.19,71.76 L343.41,71.52 L343.63,71.28 L343.84,71.04 L344.06,70.80 L344.28,70.56 L344.50,70.32 L344.72,70.07 L344.94,69.83 L345.15,69.58 L345.37,69.33 L345.59,69.09 L345.81,68.83 L346.03,68.58 L346.25,68.33 L346.46,68.07 L346.68,67.81 L346.90,67.56 L347.12,67.30 L347.34,67.03 L347.55,66.77 L347.77,66.50 L347.99,66.24 L348.21,65.97 L348.43,65.70 L348.65,65.42 L348.86,65.15 L349.08,64.87 L349.30,64.59 L349.52,64.31 L349.74,64.03 L349.96,63.74 L350.17,63.45 L350.39,63.16 L350.61,62.87 L350.83,62.57 L351.05,62.28 L351.26,61.97 L351.48,61.67 L351.70,61.36 L351.92,61.05 L352.14,60.74 L352.36,60.43 L352.57,60.11 L352.79,59.79 L353.01,59.46 L353.23,59.13 L353.45,58.80 L353.67,58.47 L353.88,58.13 L354.10,57.78 L354.32,57.44 L354.54,57.09 L354.76,56.73 L354.97,56.37 L355.19,56.01 L355.41,55.64 L355.63,55.26 L355.85,54.89 L356.07,54.50 L356.28,54.11 L356.50,53.72 L356.72,53.32 L356.94,52.91 L357.16,52.50 L357.38,52.08 L357.59,51.65 L357.81,51.22 L358.03,50.78 L358.25,50.33 L358.47,49.88 L358.68,49.42 L358.90,48.94 L359.12,48.46 L359.34,47.98 L359.56,47.48 L359.78,46.97 L359.99,46.45 L360.21,45.92 L360.43,45.38 L360.65,44.83 L360.87,44.26 L361.09,43.69 L361.30,43.10 L361.52,42.49 L361.74,41.87 L361.96,41.24 L362.18,40.59 L362.40,39.92 L362.61,39.24 L362.83,38.53 L363.05,37.81 L363.27,37.07 L363.49,36.32 L363.70,35.54 L363.92,34.74 L364.14,33.92 L364.36,33.08 L364.58,32.22 L364.80,31.35 L365.01,30.46 L365.23,29.56 L365.45,28.65 L365.67,27.75 L365.89,26.85 L366.11,25.98 L366.32,25.15 L366.54,24.37 L366.76,23.67 L366.98,23.06 L367.20,22.58 L367.41,22.24 L367.63,22.05 L367.85,22.02 L368.07,22.16 L368.29,22.44 L368.51,22.85 L368.72,23.38 L368.94,24.00 L369.16,24.68 L369.38,25.41 L369.60,26.18 L369.82,26.96 L370.03,27.75 L370.25,28.53 L370.47,29.31 L370.69,30.07 L370.91,30.82 L371.12,31.55 L371.34,32.26 L371.56,32.95 L371.78,33.62 L372.00,34.27 L372.22,34.90 L372.43,35.52 L372.65,36.11 L372.87,36.68 L373.09,37.24 L373.31,37.78 L373.53,38.30 L373.74,38.81 L373.96,39.30 L374.18,39.78 L374.40,40.24 L374.62,40.70 L374.83,41.13 L375.05,41.56 L375.27,41.98 L375.49,42.38 L375.71,42.77 L375.93,43.16 L376.14,43.53 L376.36,43.89 L376.58,44.25 L376.80,44.59 L377.02,44.93 L377.24,45.26 L377.45,45.58 L377.67,45.90 L377.89,46.20 L378.11,46.50 L378.33,46.80 L378.55,47.08 L378.76,47.37 L378.98,47.64 L379.20,47.91 L379.42,48.17 L379.64,48.43 L379.85,48.68 L380.07,48.93 L380.29,49.18 L380.51,49.41 L380.73,49.65 L380.95,49.88 L381.16,50.10 L381.38,50.32 L381.60,50.54 L381.82,50.75 L382.04,50.96 L382.26,51.16 L382.47,51.36 L382.69,51.56 L382.91,51.76 L383.13,51.95 L383.35,52.13 L383.56,52.32 L383.78,52.50 L384.00,52.68 L384.22,52.85 L384.44,53.02 L384.66,53.19 L384.87,53.36 L385.09,53.52 L385.31,53.68 L385.53,53.84 L385.75,54.00 L385.97,54.15 L386.18,54.30 L386.40,54.45 L386.62,54.59 L386.84,54.74 L387.06,54.88 L387.27,55.02 L387.49,55.15 L387.71,55.29 L387.93,55.42 L388.15,55.55 L388.37,55.68 L388.58,55.81 L388.80,55.93 L389.02,56.05 L389.24,56.17 L389.46,56.29 L389.68,56.41 L389.89,56.52 L390.11,56.64 L390.33,56.75 L390.55,56.86 L390.77,56.97 L390.98,57.07 L391.20,57.18 L391.42,57.28 L391.64,57.38 L391.86,57.48 L392.08,57.58 L392.29,57.68 L392.51,57.77 L392.73,57.86 L392.95,57.96 L393.17,58.05 L393.39,58.13 L393.60,58.22 L393.82,58.31 L394.04,58.39 L394.26,58.47 L394.48,58.56 L394.69,58.64 L394.91,58.71 L395.13,58.79 L395.35,58.87 L395.57,58.94 L395.79,59.02 L396.00,59.09 L396.22,59.16 L396.44,59.23 L396.66,59.29 L396.88,59.36 L397.10,59.42 L397.31,59.49 L397.53,59.55 L397.75,59.61 L397.97,59.67 L398.19,59.73 L398.41,59.78 L398.62,59.84 L398.84,59.89 L399.06,59.95 L399.28,60.00 L399.50,60.05 L399.71,60.10 L399.93,60.14 L400.15,60.19 L400.37,60.23 L400.59,60.28 L400.81,60.32 L401.02,60.36 L401.24,60.40 L401.46,60.44 L401.68,60.47 L401.90,60.51 L402.12,60.54 L402.33,60.58 L402.55,60.61 L402.77,60.64 L402.99,60.66 L403.21,60.69 L403.42,60.72 L403.64,60.74 L403.86,60.76 L404.08,60.78 L404.30,60.80 L404.52,60.82 L404.73,60.84 L404.95,60.85 L405.17,60.87 L405.39,60.88 L405.61,60.89 L405.83,60.90 L406.04,60.90 L406.26,60.91 L406.48,60.91 L406.70,60.91 L406.92,60.92 L407.13,60.91 L407.35,60.91 L407.57,60.91 L407.79,60.90 L408.01,60.89 L408.23,60.88 L408.44,60.87 L408.66,60.86 L408.88,60.84 L409.10,60.82 L409.32,60.80 L409.54,60.78 L409.75,60.76 L409.97,60.73 L410.19,60.70 L410.41,60.67 L410.63,60.64 L410.84,60.61 L411.06,60.57 L411.28,60.53 L411.50,60.49 L411.72,60.45 L411.94,60.40 L412.15,60.35 L412.37,60.30 L412.59,60.25 L412.81,60.19 L413.03,60.14 L413.25,60.07 L413.46,60.01 L413.68,59.94 L413.90,59.87 L414.12,59.80 L414.34,59.73 L414.56,59.65 L414.77,59.56 L414.99,59.48 L415.21,59.39 L415.43,59.30 L415.65,59.20 L415.86,59.11 L416.08,59.00 L416.30,58.90 L416.52,58.79 L416.74,58.68 L416.96,58.56 L417.17,58.44 L417.39,58.31 L417.61,58.18 L417.83,58.05 L418.05,57.91 L418.27,57.77 L418.48,57.63 L418.70,57.48 L418.92,57.32 L419.14,57.16 L419.36,57.00 L419.57,56.83 L419.79,56.65 L420.01,56.48 L420.23,56.29 L420.45,56.11 L420.67,55.91 L420.88,55.71 L421.10,55.51 L421.32,55.31 L421.54,55.09 L421.76,54.88 L421.98,54.66 L422.19,54.43 L422.41,54.21 L422.63,53.98 L422.85,53.74 L423.07,53.50 L423.28,53.27 L423.50,53.03 L423.72,52.79 L423.94,52.55 L424.16,52.31 L424.38,52.08 L424.59,51.85 L424.81,51.63 L425.03,51.41 L425.25,51.21 L425.47,51.01 L425.69,50.83 L425.90,50.67 L426.12,50.53 L426.34,50.41 L426.56,50.32 L426.78,50.25 L426.99,50.21 L427.21,50.21 L427.43,50.24 L427.65,50.32 L427.87,50.43 L428.09,50.58 L428.30,50.77 L428.52,51.00 L428.74,51.27 L428.96,51.58 L429.18,51.93 L429.40,52.31 L429.61,52.73 L429.83,53.18 L430.05,53.65 L430.27,54.15 L430.49,54.68 L430.71,55.22 L430.92,55.78 L431.14,56.35 L431.36,56.94 L431.58,57.53 L431.80,58.13 L432.01,58.74 L432.23,59.36 L432.45,59.97 L432.67,60.59 L432.89,61.21 L433.11,61.83 L433.32,62.45 L433.54,63.06 L433.76,63.68 L433.98,64.29 L434.20,64.90 L434.42,65.50 L434.63,66.10 L434.85,66.70 L435.07,67.29 L435.29,67.87 L435.51,68.46 L435.72,69.03 L435.94,69.61 L436.16,70.17 L436.38,70.74 L436.60,71.30 L436.82,71.85 L437.03,72.40 L437.25,72.94 L437.47,73.48 L437.69,74.02 L437.91,74.55 L438.13,75.07 L438.34,75.59 L438.56,76.11 L438.78,76.62 L439.00,77.13 L439.22,77.63 L439.43,78.13 L439.65,78.63 L439.87,79.12 L440.09,79.61 L440.31,80.09 L440.53,80.57 L440.74,81.04 L440.96,81.51 L441.18,81.98 L441.40,82.44 L441.62,82.90 L441.84,83.36 L442.05,83.81 L442.27,84.25 L442.49,84.70 L442.71,85.14 L442.93,85.57 L443.14,86.00 L443.36,86.43 L443.58,86.85 L443.80,87.27 L444.02,87.69 L444.24,88.10 L444.45,88.51 L444.67,88.91 L444.89,89.31 L445.11,89.70 L445.33,90.09 L445.55,90.48 L445.76,90.86 L445.98,91.23 L446.20,91.60 L446.42,91.97 L446.64,92.33 L446.85,92.68 L447.07,93.03 L447.29,93.38 L447.51,93.72 L447.73,94.05 L447.95,94.38 L448.16,94.70 L448.38,95.02 L448.60,95.33 L448.82,95.63 L449.04,95.93 L449.26,96.22 L449.47,96.50 L449.69,96.78 L449.91,97.05 L450.13,97.31 L450.35,97.57 L450.57,97.81 L450.78,98.05 L451.00,98.29 L451.22,98.51 L451.44,98.73 L451.66,98.94 L451.87,99.14 L452.09,99.33 L452.31,99.51 L452.53,99.69 L452.75,99.85 L452.97,100.01 L453.18,100.16 L453.40,100.30 L453.62,100.43 L453.84,100.56 L454.06,100.67 L454.28,100.78 L454.49,100.88 L454.71,100.97 L454.93,101.05 L455.15,101.12 L455.37,101.18 L455.58,101.24 L455.80,101.28 L456.02,101.32 L456.24,101.35 L456.46,101.37 L456.68,101.39 L456.89,101.40 L457.11,101.39 L457.33,101.39 L457.55,101.37 L457.77,101.34 L457.99,101.31 L458.20,101.28 L458.42,101.23 L458.64,101.18 L458.86,101.12 L459.08,101.05 L459.29,100.98 L459.51,100.90 L459.73,100.81 L459.95,100.72 L460.17,100.62 L460.39,100.52 L460.60,100.40 L460.82,100.29 L461.04,100.16 L461.26,100.03 L461.48,99.90 L461.70,99.75 L461.91,99.61 L462.13,99.45 L462.35,99.29 L462.57,99.13 L462.79,98.95 L463.00,98.77 L463.22,98.59 L463.44,98.40 L463.66,98.20 L463.88,98.00 L464.10,97.79 L464.31,97.57 L464.53,97.35 L464.75,97.12 L464.97,96.88 L465.19,96.64 L465.41,96.39 L465.62,96.13 L465.84,95.87 L466.06,95.59 L466.28,95.31 L466.50,95.02 L466.72,94.72 L466.93,94.42 L467.15,94.10 L467.37,93.77 L467.59,93.44 L467.81,93.10 L468.02,92.74 L468.24,92.37 L468.46,92.00 L468.68,91.61 L468.90,91.21 L469.12,90.80 L469.33,90.38 L469.55,89.94 L469.77,89.49 L469.99,89.02 L470.21,88.55 L470.43,88.05 L470.64,87.55 L470.86,87.03 L471.08,86.49 L471.30,85.94 L471.52,85.38 L471.73,84.81 L471.95,84.22 L472.17,83.63 L472.39,83.03 L472.61,82.42 L472.83,81.82 L473.04,81.22 L473.26,80.64 L473.48,80.07 L473.70,79.55 L473.92,79.06 L474.14,78.63 L474.35,78.28 L474.57,78.00 L474.79,77.83 L475.01,77.76 L475.23,77.81 L475.44,77.97 L475.66,78.25 L475.88,78.65 L476.10,79.14 L476.32,79.72 L476.54,80.37 L476.75,81.08 L476.97,81.84 L477.19,82.64 L477.41,83.46 L477.63,84.30 L477.85,85.14 L478.06,85.99 L478.28,86.83 L478.50,87.67 L478.72,88.50 L478.94,89.32 L479.15,90.13 L479.37,90.92 L479.59,91.70 L479.81,92.47 L480.03,93.22 L480.25,93.96 L480.46,94.68 L480.68,95.39 L480.90,96.09 L481.12,96.77 L481.34,97.44 L481.56,98.10 L481.77,98.74 L481.99,99.38 L482.21,100.00 L482.43,100.62 L482.65,101.22 L482.86,101.81 L483.08,102.39 L483.30,102.97 L483.52,103.53 L483.74,104.09 L483.96,104.64 L484.17,105.18 L484.39,105.71 L484.61,106.23 L484.83,106.75 L485.05,107.26 L485.27,107.77 L485.48,108.27 L485.70,108.76 L485.92,109.25 L486.14,109.73 L486.36,110.20 L486.58,110.67 L486.79,111.14 L487.01,111.60 L487.23,112.05 L487.45,112.50 L487.67,112.95 L487.88,113.39 L488.10,113.83 L488.32,114.26 L488.54,114.69 L488.76,115.12 L488.98,115.54 L489.19,115.96 L489.41,116.38 L489.63,116.79 L489.85,117.20 L490.07,117.60 L490.29,118.00 L490.50,118.40 L490.72,118.80 L490.94,119.19 L491.16,119.59 L491.38,119.97 L491.59,120.36 L491.81,120.74 L492.03,121.12 L492.25,121.50 L492.47,121.88 L492.69,122.25 L492.90,122.62 L493.12,122.99 L493.34,123.36 L493.56,123.72 L493.78,124.09 L494.00,124.45 L494.21,124.81 L494.43,125.17 L494.65,125.52 L494.87,125.88 L495.09,126.23 L495.30,126.58 L495.52,126.93 L495.74,127.28 L495.96,127.62 L496.18,127.97 L496.40,128.31 L496.61,128.65 L496.83,128.99 L497.05,129.33 L497.27,129.67 L497.49,130.00 L497.71,130.34 L497.92,130.67 L498.14,131.00 L498.36,131.33 L498.58,131.66 L498.80,131.99 L499.01,132.32 L499.23,132.65 L499.45,132.97 L499.67,133.29 L499.89,133.62 L500.11,133.94 L500.32,134.26 L500.54,134.58 L500.76,134.90 L500.98,135.22 L501.20,135.53 L501.42,135.85 L501.63,136.17 L501.85,136.48 L502.07,136.79 L502.29,137.11 L502.51,137.42 L502.73,137.73 L502.94,138.04 L503.16,138.35 L503.38,138.66 L503.60,138.97 L503.82,139.27 L504.03,139.58 L504.25,139.89 L504.47,140.19 L504.69,140.50 L504.91,140.80 L505.13,141.10 L505.34,141.41 L505.56,141.71 L505.78,142.01 L506.00,142.31 L506.22,142.61 L506.44,142.91 L506.65,143.21 L506.87,143.51 L507.09,143.80 L507.31,144.10 L507.53,144.40 L507.74,144.69 L507.96,144.99 L508.18,145.28 L508.40,145.58 L508.62,145.87 L508.84,146.17 L509.05,146.46 L509.27,146.75 L509.49,147.04 L509.71,147.34 L509.93,147.63 L510.15,147.92 L510.36,148.21 L510.58,148.50 L510.80,148.79" fill="none" stroke="#2a6590" stroke-dasharray="0.01 2.3" stroke-linecap="round" stroke-width="1.45" stroke-linejoin="round"/>
<path d="M314.60,97.18 L314.82,96.99 L315.04,96.80 L315.25,96.61 L315.47,96.41 L315.69,96.22 L315.91,96.03 L316.13,95.84 L316.35,95.65 L316.56,95.46 L316.78,95.26 L317.00,95.07 L317.22,94.88 L317.44,94.68 L317.66,94.49 L317.87,94.30 L318.09,94.10 L318.31,93.91 L318.53,93.72 L318.75,93.52 L318.96,93.33 L319.18,93.13 L319.40,92.94 L319.62,92.74 L319.84,92.55 L320.06,92.35 L320.27,92.16 L320.49,91.96 L320.71,91.77 L320.93,91.57 L321.15,91.37 L321.37,91.17 L321.58,90.98 L321.80,90.78 L322.02,90.58 L322.24,90.38 L322.46,90.18 L322.67,89.99 L322.89,89.79 L323.11,89.59 L323.33,89.39 L323.55,89.19 L323.77,88.99 L323.98,88.79 L324.20,88.58 L324.42,88.38 L324.64,88.18 L324.86,87.98 L325.08,87.78 L325.29,87.57 L325.51,87.37 L325.73,87.16 L325.95,86.96 L326.17,86.76 L326.39,86.55 L326.60,86.34 L326.82,86.14 L327.04,85.93 L327.26,85.72 L327.48,85.52 L327.69,85.31 L327.91,85.10 L328.13,84.89 L328.35,84.68 L328.57,84.47 L328.79,84.26 L329.00,84.05 L329.22,83.84 L329.44,83.63 L329.66,83.41 L329.88,83.20 L330.10,82.98 L330.31,82.77 L330.53,82.55 L330.75,82.34 L330.97,82.12 L331.19,81.90 L331.40,81.69 L331.62,81.47 L331.84,81.25 L332.06,81.03 L332.28,80.81 L332.50,80.59 L332.71,80.36 L332.93,80.14 L333.15,79.92 L333.37,79.69 L333.59,79.47 L333.81,79.24 L334.02,79.01 L334.24,78.78 L334.46,78.55 L334.68,78.32 L334.90,78.09 L335.11,77.86 L335.33,77.63 L335.55,77.39 L335.77,77.16 L335.99,76.92 L336.21,76.69 L336.42,76.45 L336.64,76.21 L336.86,75.97 L337.08,75.73 L337.30,75.49 L337.52,75.24 L337.73,75.00 L337.95,74.75 L338.17,74.50 L338.39,74.25 L338.61,74.00 L338.82,73.75 L339.04,73.50 L339.26,73.24 L339.48,72.99 L339.70,72.73 L339.92,72.47 L340.13,72.21 L340.35,71.95 L340.57,71.69 L340.79,71.42 L341.01,71.15 L341.23,70.88 L341.44,70.61 L341.66,70.34 L341.88,70.07 L342.10,69.79 L342.32,69.51 L342.54,69.23 L342.75,68.95 L342.97,68.66 L343.19,68.38 L343.41,68.09 L343.63,67.80 L343.84,67.50 L344.06,67.21 L344.28,66.91 L344.50,66.61 L344.72,66.31 L344.94,66.00 L345.15,65.69 L345.37,65.38 L345.59,65.06 L345.81,64.75 L346.03,64.42 L346.25,64.10 L346.46,63.77 L346.68,63.44 L346.90,63.11 L347.12,62.77 L347.34,62.43 L347.55,62.09 L347.77,61.74 L347.99,61.38 L348.21,61.03 L348.43,60.67 L348.65,60.30 L348.86,59.93 L349.08,59.56 L349.30,59.18 L349.52,58.79 L349.74,58.40 L349.96,58.01 L350.17,57.61 L350.39,57.20 L350.61,56.79 L350.83,56.37 L351.05,55.95 L351.26,55.52 L351.48,55.08 L351.70,54.63 L351.92,54.18 L352.14,53.72 L352.36,53.26 L352.57,52.78 L352.79,52.30 L353.01,51.81 L353.23,51.30 L353.45,50.79 L353.67,50.27 L353.88,49.74 L354.10,49.20 L354.32,48.65 L354.54,48.09 L354.76,47.52 L354.97,46.93 L355.19,46.33 L355.41,45.73 L355.63,45.10 L355.85,44.47 L356.07,43.82 L356.28,43.16 L356.50,42.48 L356.72,41.79 L356.94,41.09 L357.16,40.38 L357.38,39.65 L357.59,38.92 L357.81,38.18 L358.03,37.43 L358.25,36.68 L358.47,35.93 L358.68,35.18 L358.90,34.45 L359.12,33.74 L359.34,33.05 L359.56,32.41 L359.78,31.81 L359.99,31.27 L360.21,30.81 L360.43,30.44 L360.65,30.15 L360.87,29.98 L361.09,29.90 L361.30,29.94 L361.52,30.08 L361.74,30.32 L361.96,30.64 L362.18,31.04 L362.40,31.50 L362.61,32.02 L362.83,32.57 L363.05,33.16 L363.27,33.77 L363.49,34.39 L363.70,35.01 L363.92,35.64 L364.14,36.27 L364.36,36.89 L364.58,37.50 L364.80,38.11 L365.01,38.70 L365.23,39.28 L365.45,39.85 L365.67,40.40 L365.89,40.94 L366.11,41.47 L366.32,41.99 L366.54,42.49 L366.76,42.98 L366.98,43.45 L367.20,43.92 L367.41,44.37 L367.63,44.81 L367.85,45.24 L368.07,45.66 L368.29,46.07 L368.51,46.46 L368.72,46.85 L368.94,47.23 L369.16,47.60 L369.38,47.96 L369.60,48.31 L369.82,48.66 L370.03,48.99 L370.25,49.32 L370.47,49.64 L370.69,49.96 L370.91,50.26 L371.12,50.56 L371.34,50.86 L371.56,51.15 L371.78,51.43 L372.00,51.70 L372.22,51.97 L372.43,52.24 L372.65,52.50 L372.87,52.75 L373.09,53.00 L373.31,53.25 L373.53,53.49 L373.74,53.72 L373.96,53.95 L374.18,54.18 L374.40,54.40 L374.62,54.62 L374.83,54.84 L375.05,55.05 L375.27,55.26 L375.49,55.46 L375.71,55.66 L375.93,55.86 L376.14,56.05 L376.36,56.24 L376.58,56.43 L376.80,56.61 L377.02,56.79 L377.24,56.97 L377.45,57.14 L377.67,57.31 L377.89,57.48 L378.11,57.65 L378.33,57.82 L378.55,57.98 L378.76,58.14 L378.98,58.29 L379.20,58.45 L379.42,58.60 L379.64,58.75 L379.85,58.89 L380.07,59.04 L380.29,59.18 L380.51,59.32 L380.73,59.46 L380.95,59.60 L381.16,59.73 L381.38,59.87 L381.60,60.00 L381.82,60.12 L382.04,60.25 L382.26,60.38 L382.47,60.50 L382.69,60.62 L382.91,60.74 L383.13,60.86 L383.35,60.97 L383.56,61.09 L383.78,61.20 L384.00,61.31 L384.22,61.42 L384.44,61.53 L384.66,61.64 L384.87,61.74 L385.09,61.85 L385.31,61.95 L385.53,62.05 L385.75,62.15 L385.97,62.25 L386.18,62.34 L386.40,62.44 L386.62,62.53 L386.84,62.62 L387.06,62.71 L387.27,62.80 L387.49,62.89 L387.71,62.98 L387.93,63.06 L388.15,63.15 L388.37,63.23 L388.58,63.31 L388.80,63.39 L389.02,63.47 L389.24,63.55 L389.46,63.62 L389.68,63.70 L389.89,63.77 L390.11,63.85 L390.33,63.92 L390.55,63.99 L390.77,64.06 L390.98,64.13 L391.20,64.19 L391.42,64.26 L391.64,64.32 L391.86,64.39 L392.08,64.45 L392.29,64.51 L392.51,64.57 L392.73,64.63 L392.95,64.69 L393.17,64.74 L393.39,64.80 L393.60,64.85 L393.82,64.90 L394.04,64.96 L394.26,65.01 L394.48,65.06 L394.69,65.10 L394.91,65.15 L395.13,65.20 L395.35,65.24 L395.57,65.29 L395.79,65.33 L396.00,65.37 L396.22,65.41 L396.44,65.45 L396.66,65.49 L396.88,65.52 L397.10,65.56 L397.31,65.59 L397.53,65.63 L397.75,65.66 L397.97,65.69 L398.19,65.72 L398.41,65.74 L398.62,65.77 L398.84,65.80 L399.06,65.82 L399.28,65.84 L399.50,65.86 L399.71,65.88 L399.93,65.90 L400.15,65.92 L400.37,65.94 L400.59,65.95 L400.81,65.97 L401.02,65.98 L401.24,65.99 L401.46,66.00 L401.68,66.01 L401.90,66.01 L402.12,66.02 L402.33,66.02 L402.55,66.02 L402.77,66.02 L402.99,66.02 L403.21,66.02 L403.42,66.01 L403.64,66.01 L403.86,66.00 L404.08,65.99 L404.30,65.98 L404.52,65.97 L404.73,65.95 L404.95,65.93 L405.17,65.92 L405.39,65.90 L405.61,65.87 L405.83,65.85 L406.04,65.82 L406.26,65.80 L406.48,65.77 L406.70,65.73 L406.92,65.70 L407.13,65.66 L407.35,65.63 L407.57,65.59 L407.79,65.54 L408.01,65.50 L408.23,65.45 L408.44,65.40 L408.66,65.35 L408.88,65.29 L409.10,65.24 L409.32,65.18 L409.54,65.12 L409.75,65.05 L409.97,64.98 L410.19,64.91 L410.41,64.84 L410.63,64.76 L410.84,64.68 L411.06,64.60 L411.28,64.52 L411.50,64.43 L411.72,64.34 L411.94,64.24 L412.15,64.14 L412.37,64.04 L412.59,63.94 L412.81,63.83 L413.03,63.72 L413.25,63.60 L413.46,63.48 L413.68,63.36 L413.90,63.23 L414.12,63.10 L414.34,62.97 L414.56,62.83 L414.77,62.69 L414.99,62.54 L415.21,62.39 L415.43,62.24 L415.65,62.08 L415.86,61.91 L416.08,61.75 L416.30,61.58 L416.52,61.40 L416.74,61.22 L416.96,61.04 L417.17,60.85 L417.39,60.66 L417.61,60.47 L417.83,60.27 L418.05,60.07 L418.27,59.87 L418.48,59.67 L418.70,59.46 L418.92,59.26 L419.14,59.05 L419.36,58.84 L419.57,58.64 L419.79,58.43 L420.01,58.23 L420.23,58.04 L420.45,57.85 L420.67,57.66 L420.88,57.49 L421.10,57.33 L421.32,57.17 L421.54,57.04 L421.76,56.92 L421.98,56.81 L422.19,56.73 L422.41,56.67 L422.63,56.64 L422.85,56.64 L423.07,56.66 L423.28,56.71 L423.50,56.80 L423.72,56.92 L423.94,57.08 L424.16,57.27 L424.38,57.49 L424.59,57.75 L424.81,58.04 L425.03,58.36 L425.25,58.72 L425.47,59.10 L425.69,59.51 L425.90,59.94 L426.12,60.40 L426.34,60.88 L426.56,61.37 L426.78,61.88 L426.99,62.41 L427.21,62.94 L427.43,63.49 L427.65,64.04 L427.87,64.60 L428.09,65.17 L428.30,65.74 L428.52,66.31 L428.74,66.88 L428.96,67.45 L429.18,68.03 L429.40,68.60 L429.61,69.17 L429.83,69.73 L430.05,70.30 L430.27,70.85 L430.49,71.41 L430.71,71.96 L430.92,72.51 L431.14,73.05 L431.36,73.59 L431.58,74.12 L431.80,74.65 L432.01,75.17 L432.23,75.69 L432.45,76.20 L432.67,76.70 L432.89,77.20 L433.11,77.69 L433.32,78.18 L433.54,78.66 L433.76,79.14 L433.98,79.61 L434.20,80.07 L434.42,80.53 L434.63,80.98 L434.85,81.43 L435.07,81.87 L435.29,82.30 L435.51,82.73 L435.72,83.15 L435.94,83.56 L436.16,83.97 L436.38,84.37 L436.60,84.77 L436.82,85.16 L437.03,85.55 L437.25,85.92 L437.47,86.30 L437.69,86.66 L437.91,87.02 L438.13,87.37 L438.34,87.72 L438.56,88.06 L438.78,88.39 L439.00,88.72 L439.22,89.04 L439.43,89.36 L439.65,89.67 L439.87,89.97 L440.09,90.26 L440.31,90.55 L440.53,90.84 L440.74,91.11 L440.96,91.38 L441.18,91.65 L441.40,91.90 L441.62,92.16 L441.84,92.40 L442.05,92.64 L442.27,92.87 L442.49,93.10 L442.71,93.31 L442.93,93.53 L443.14,93.73 L443.36,93.94 L443.58,94.13 L443.80,94.32 L444.02,94.50 L444.24,94.68 L444.45,94.85 L444.67,95.01 L444.89,95.17 L445.11,95.32 L445.33,95.47 L445.55,95.61 L445.76,95.75 L445.98,95.88 L446.20,96.01 L446.42,96.13 L446.64,96.24 L446.85,96.35 L447.07,96.46 L447.29,96.55 L447.51,96.65 L447.73,96.74 L447.95,96.82 L448.16,96.90 L448.38,96.98 L448.60,97.05 L448.82,97.12 L449.04,97.18 L449.26,97.24 L449.47,97.29 L449.69,97.34 L449.91,97.39 L450.13,97.43 L450.35,97.46 L450.57,97.50 L450.78,97.53 L451.00,97.55 L451.22,97.58 L451.44,97.59 L451.66,97.61 L451.87,97.62 L452.09,97.63 L452.31,97.63 L452.53,97.63 L452.75,97.63 L452.97,97.63 L453.18,97.62 L453.40,97.61 L453.62,97.59 L453.84,97.57 L454.06,97.55 L454.28,97.53 L454.49,97.50 L454.71,97.47 L454.93,97.44 L455.15,97.40 L455.37,97.36 L455.58,97.32 L455.80,97.27 L456.02,97.22 L456.24,97.17 L456.46,97.11 L456.68,97.06 L456.89,97.00 L457.11,96.93 L457.33,96.87 L457.55,96.80 L457.77,96.72 L457.99,96.65 L458.20,96.57 L458.42,96.48 L458.64,96.40 L458.86,96.31 L459.08,96.22 L459.29,96.12 L459.51,96.02 L459.73,95.92 L459.95,95.81 L460.17,95.70 L460.39,95.59 L460.60,95.47 L460.82,95.35 L461.04,95.23 L461.26,95.10 L461.48,94.97 L461.70,94.83 L461.91,94.69 L462.13,94.54 L462.35,94.39 L462.57,94.24 L462.79,94.08 L463.00,93.91 L463.22,93.74 L463.44,93.57 L463.66,93.39 L463.88,93.21 L464.10,93.01 L464.31,92.82 L464.53,92.62 L464.75,92.41 L464.97,92.19 L465.19,91.97 L465.41,91.74 L465.62,91.51 L465.84,91.26 L466.06,91.01 L466.28,90.75 L466.50,90.49 L466.72,90.21 L466.93,89.93 L467.15,89.64 L467.37,89.33 L467.59,89.02 L467.81,88.70 L468.02,88.37 L468.24,88.02 L468.46,87.67 L468.68,87.30 L468.90,86.92 L469.12,86.53 L469.33,86.13 L469.55,85.71 L469.77,85.28 L469.99,84.83 L470.21,84.37 L470.43,83.90 L470.64,83.41 L470.86,82.91 L471.08,82.39 L471.30,81.87 L471.52,81.32 L471.73,80.77 L471.95,80.21 L472.17,79.65 L472.39,79.08 L472.61,78.51 L472.83,77.95 L473.04,77.40 L473.26,76.88 L473.48,76.40 L473.70,75.95 L473.92,75.57 L474.14,75.26 L474.35,75.03 L474.57,74.90 L474.79,74.88 L475.01,74.97 L475.23,75.18 L475.44,75.50 L475.66,75.93 L475.88,76.46 L476.10,77.07 L476.32,77.75 L476.54,78.49 L476.75,79.28 L476.97,80.10 L477.19,80.94 L477.41,81.80 L477.63,82.66 L477.85,83.53 L478.06,84.39 L478.28,85.25 L478.50,86.10 L478.72,86.94 L478.94,87.76 L479.15,88.58 L479.37,89.38 L479.59,90.16 L479.81,90.93 L480.03,91.69 L480.25,92.43 L480.46,93.16 L480.68,93.88 L480.90,94.58 L481.12,95.27 L481.34,95.94 L481.56,96.61 L481.77,97.26 L481.99,97.90 L482.21,98.53 L482.43,99.15 L482.65,99.76 L482.86,100.36 L483.08,100.96 L483.30,101.54 L483.52,102.11 L483.74,102.68 L483.96,103.23 L484.17,103.78 L484.39,104.32 L484.61,104.86 L484.83,105.39 L485.05,105.91 L485.27,106.42 L485.48,106.93 L485.70,107.43 L485.92,107.93 L486.14,108.42 L486.36,108.91 L486.58,109.39 L486.79,109.86 L487.01,110.33 L487.23,110.80 L487.45,111.26 L487.67,111.72 L487.88,112.17 L488.10,112.62 L488.32,113.06 L488.54,113.50 L488.76,113.94 L488.98,114.37 L489.19,114.80 L489.41,115.22 L489.63,115.64 L489.85,116.06 L490.07,116.48 L490.29,116.89 L490.50,117.30 L490.72,117.71 L490.94,118.11 L491.16,118.51 L491.38,118.91 L491.59,119.30 L491.81,119.70 L492.03,120.09 L492.25,120.47 L492.47,120.86 L492.69,121.24 L492.90,121.62 L493.12,122.00 L493.34,122.38 L493.56,122.75 L493.78,123.12 L494.00,123.49 L494.21,123.86 L494.43,124.23 L494.65,124.59 L494.87,124.96 L495.09,125.32 L495.30,125.68 L495.52,126.03 L495.74,126.39 L495.96,126.74 L496.18,127.10 L496.40,127.45 L496.61,127.80 L496.83,128.14 L497.05,128.49 L497.27,128.84 L497.49,129.18 L497.71,129.52 L497.92,129.86 L498.14,130.20 L498.36,130.54 L498.58,130.88 L498.80,131.21 L499.01,131.55 L499.23,131.88 L499.45,132.21 L499.67,132.55 L499.89,132.88 L500.11,133.20 L500.32,133.53 L500.54,133.86 L500.76,134.19 L500.98,134.51 L501.20,134.83 L501.42,135.16 L501.63,135.48 L501.85,135.80 L502.07,136.12 L502.29,136.44 L502.51,136.76 L502.73,137.07 L502.94,137.39 L503.16,137.71 L503.38,138.02 L503.60,138.34 L503.82,138.65 L504.03,138.96 L504.25,139.27 L504.47,139.58 L504.69,139.89 L504.91,140.20 L505.13,140.51 L505.34,140.82 L505.56,141.13 L505.78,141.43 L506.00,141.74 L506.22,142.05 L506.44,142.35 L506.65,142.66 L506.87,142.96 L507.09,143.26 L507.31,143.56 L507.53,143.87 L507.74,144.17 L507.96,144.47 L508.18,144.77 L508.40,145.07 L508.62,145.37 L508.84,145.66 L509.05,145.96 L509.27,146.26 L509.49,146.56 L509.71,146.85 L509.93,147.15 L510.15,147.44 L510.36,147.74 L510.58,148.03 L510.80,148.33" fill="none" stroke="#c05a3a" stroke-dasharray="4.8 4.6" stroke-width="1.3" stroke-linejoin="round"/>
<path d="M314.60,96.47 L314.82,96.27 L315.04,96.07 L315.25,95.87 L315.47,95.67 L315.69,95.47 L315.91,95.27 L316.13,95.07 L316.35,94.87 L316.56,94.67 L316.78,94.47 L317.00,94.26 L317.22,94.06 L317.44,93.86 L317.66,93.66 L317.87,93.46 L318.09,93.25 L318.31,93.05 L318.53,92.85 L318.75,92.64 L318.96,92.44 L319.18,92.23 L319.40,92.03 L319.62,91.82 L319.84,91.62 L320.06,91.41 L320.27,91.20 L320.49,91.00 L320.71,90.79 L320.93,90.58 L321.15,90.37 L321.37,90.16 L321.58,89.95 L321.80,89.74 L322.02,89.53 L322.24,89.32 L322.46,89.11 L322.67,88.90 L322.89,88.69 L323.11,88.48 L323.33,88.26 L323.55,88.05 L323.77,87.84 L323.98,87.62 L324.20,87.41 L324.42,87.19 L324.64,86.97 L324.86,86.76 L325.08,86.54 L325.29,86.32 L325.51,86.10 L325.73,85.88 L325.95,85.66 L326.17,85.44 L326.39,85.22 L326.60,85.00 L326.82,84.77 L327.04,84.55 L327.26,84.33 L327.48,84.10 L327.69,83.88 L327.91,83.65 L328.13,83.42 L328.35,83.19 L328.57,82.96 L328.79,82.73 L329.00,82.50 L329.22,82.27 L329.44,82.04 L329.66,81.81 L329.88,81.57 L330.10,81.34 L330.31,81.10 L330.53,80.86 L330.75,80.62 L330.97,80.38 L331.19,80.14 L331.40,79.90 L331.62,79.66 L331.84,79.42 L332.06,79.17 L332.28,78.93 L332.50,78.68 L332.71,78.43 L332.93,78.18 L333.15,77.93 L333.37,77.68 L333.59,77.42 L333.81,77.17 L334.02,76.91 L334.24,76.65 L334.46,76.39 L334.68,76.13 L334.90,75.87 L335.11,75.61 L335.33,75.34 L335.55,75.07 L335.77,74.81 L335.99,74.53 L336.21,74.26 L336.42,73.99 L336.64,73.71 L336.86,73.43 L337.08,73.16 L337.30,72.87 L337.52,72.59 L337.73,72.30 L337.95,72.02 L338.17,71.73 L338.39,71.43 L338.61,71.14 L338.82,70.84 L339.04,70.54 L339.26,70.24 L339.48,69.94 L339.70,69.63 L339.92,69.32 L340.13,69.01 L340.35,68.69 L340.57,68.38 L340.79,68.06 L341.01,67.73 L341.23,67.40 L341.44,67.07 L341.66,66.74 L341.88,66.40 L342.10,66.06 L342.32,65.72 L342.54,65.37 L342.75,65.02 L342.97,64.67 L343.19,64.31 L343.41,63.94 L343.63,63.58 L343.84,63.20 L344.06,62.83 L344.28,62.45 L344.50,62.06 L344.72,61.67 L344.94,61.27 L345.15,60.87 L345.37,60.47 L345.59,60.05 L345.81,59.63 L346.03,59.21 L346.25,58.78 L346.46,58.34 L346.68,57.90 L346.90,57.45 L347.12,57.00 L347.34,56.53 L347.55,56.06 L347.77,55.58 L347.99,55.10 L348.21,54.60 L348.43,54.10 L348.65,53.59 L348.86,53.07 L349.08,52.54 L349.30,52.00 L349.52,51.46 L349.74,50.90 L349.96,50.33 L350.17,49.76 L350.39,49.18 L350.61,48.58 L350.83,47.98 L351.05,47.37 L351.26,46.75 L351.48,46.12 L351.70,45.49 L351.92,44.85 L352.14,44.21 L352.36,43.56 L352.57,42.92 L352.79,42.27 L353.01,41.63 L353.23,41.01 L353.45,40.39 L353.67,39.80 L353.88,39.23 L354.10,38.69 L354.32,38.19 L354.54,37.74 L354.76,37.34 L354.97,37.00 L355.19,36.73 L355.41,36.53 L355.63,36.40 L355.85,36.36 L356.07,36.38 L356.28,36.48 L356.50,36.65 L356.72,36.89 L356.94,37.18 L357.16,37.53 L357.38,37.92 L357.59,38.34 L357.81,38.79 L358.03,39.27 L358.25,39.76 L358.47,40.27 L358.68,40.79 L358.90,41.31 L359.12,41.83 L359.34,42.35 L359.56,42.86 L359.78,43.37 L359.99,43.88 L360.21,44.38 L360.43,44.87 L360.65,45.35 L360.87,45.82 L361.09,46.29 L361.30,46.74 L361.52,47.19 L361.74,47.62 L361.96,48.05 L362.18,48.47 L362.40,48.88 L362.61,49.28 L362.83,49.67 L363.05,50.05 L363.27,50.42 L363.49,50.79 L363.70,51.14 L363.92,51.49 L364.14,51.83 L364.36,52.17 L364.58,52.50 L364.80,52.82 L365.01,53.13 L365.23,53.44 L365.45,53.74 L365.67,54.03 L365.89,54.32 L366.11,54.60 L366.32,54.88 L366.54,55.15 L366.76,55.42 L366.98,55.68 L367.20,55.94 L367.41,56.19 L367.63,56.44 L367.85,56.68 L368.07,56.92 L368.29,57.15 L368.51,57.38 L368.72,57.60 L368.94,57.83 L369.16,58.04 L369.38,58.26 L369.60,58.47 L369.82,58.67 L370.03,58.88 L370.25,59.08 L370.47,59.27 L370.69,59.47 L370.91,59.66 L371.12,59.84 L371.34,60.03 L371.56,60.21 L371.78,60.39 L372.00,60.56 L372.22,60.73 L372.43,60.90 L372.65,61.07 L372.87,61.24 L373.09,61.40 L373.31,61.56 L373.53,61.72 L373.74,61.87 L373.96,62.02 L374.18,62.17 L374.40,62.32 L374.62,62.47 L374.83,62.61 L375.05,62.76 L375.27,62.90 L375.49,63.04 L375.71,63.17 L375.93,63.31 L376.14,63.44 L376.36,63.57 L376.58,63.70 L376.80,63.83 L377.02,63.95 L377.24,64.08 L377.45,64.20 L377.67,64.32 L377.89,64.44 L378.11,64.55 L378.33,64.67 L378.55,64.78 L378.76,64.90 L378.98,65.01 L379.20,65.12 L379.42,65.23 L379.64,65.33 L379.85,65.44 L380.07,65.54 L380.29,65.64 L380.51,65.75 L380.73,65.85 L380.95,65.94 L381.16,66.04 L381.38,66.14 L381.60,66.23 L381.82,66.33 L382.04,66.42 L382.26,66.51 L382.47,66.60 L382.69,66.69 L382.91,66.78 L383.13,66.86 L383.35,66.95 L383.56,67.03 L383.78,67.11 L384.00,67.20 L384.22,67.28 L384.44,67.36 L384.66,67.43 L384.87,67.51 L385.09,67.59 L385.31,67.66 L385.53,67.74 L385.75,67.81 L385.97,67.88 L386.18,67.95 L386.40,68.02 L386.62,68.09 L386.84,68.16 L387.06,68.23 L387.27,68.29 L387.49,68.36 L387.71,68.42 L387.93,68.48 L388.15,68.54 L388.37,68.60 L388.58,68.66 L388.80,68.72 L389.02,68.78 L389.24,68.84 L389.46,68.89 L389.68,68.95 L389.89,69.00 L390.11,69.05 L390.33,69.10 L390.55,69.15 L390.77,69.20 L390.98,69.25 L391.20,69.30 L391.42,69.35 L391.64,69.39 L391.86,69.44 L392.08,69.48 L392.29,69.52 L392.51,69.56 L392.73,69.60 L392.95,69.64 L393.17,69.68 L393.39,69.72 L393.60,69.75 L393.82,69.79 L394.04,69.82 L394.26,69.86 L394.48,69.89 L394.69,69.92 L394.91,69.95 L395.13,69.98 L395.35,70.00 L395.57,70.03 L395.79,70.06 L396.00,70.08 L396.22,70.10 L396.44,70.12 L396.66,70.15 L396.88,70.16 L397.10,70.18 L397.31,70.20 L397.53,70.22 L397.75,70.23 L397.97,70.24 L398.19,70.26 L398.41,70.27 L398.62,70.28 L398.84,70.28 L399.06,70.29 L399.28,70.30 L399.50,70.30 L399.71,70.30 L399.93,70.30 L400.15,70.30 L400.37,70.30 L400.59,70.30 L400.81,70.29 L401.02,70.29 L401.24,70.28 L401.46,70.27 L401.68,70.26 L401.90,70.25 L402.12,70.23 L402.33,70.22 L402.55,70.20 L402.77,70.18 L402.99,70.16 L403.21,70.14 L403.42,70.11 L403.64,70.09 L403.86,70.06 L404.08,70.03 L404.30,70.00 L404.52,69.96 L404.73,69.93 L404.95,69.89 L405.17,69.85 L405.39,69.80 L405.61,69.76 L405.83,69.71 L406.04,69.66 L406.26,69.61 L406.48,69.56 L406.70,69.50 L406.92,69.44 L407.13,69.38 L407.35,69.32 L407.57,69.25 L407.79,69.18 L408.01,69.11 L408.23,69.03 L408.44,68.95 L408.66,68.87 L408.88,68.79 L409.10,68.70 L409.32,68.61 L409.54,68.52 L409.75,68.42 L409.97,68.32 L410.19,68.22 L410.41,68.12 L410.63,68.01 L410.84,67.89 L411.06,67.78 L411.28,67.66 L411.50,67.53 L411.72,67.40 L411.94,67.27 L412.15,67.14 L412.37,67.00 L412.59,66.85 L412.81,66.71 L413.03,66.55 L413.25,66.40 L413.46,66.24 L413.68,66.08 L413.90,65.91 L414.12,65.74 L414.34,65.56 L414.56,65.38 L414.77,65.20 L414.99,65.01 L415.21,64.82 L415.43,64.63 L415.65,64.43 L415.86,64.23 L416.08,64.03 L416.30,63.83 L416.52,63.63 L416.74,63.42 L416.96,63.21 L417.17,63.01 L417.39,62.80 L417.61,62.60 L417.83,62.40 L418.05,62.20 L418.27,62.01 L418.48,61.83 L418.70,61.65 L418.92,61.48 L419.14,61.33 L419.36,61.19 L419.57,61.06 L419.79,60.95 L420.01,60.86 L420.23,60.78 L420.45,60.74 L420.67,60.71 L420.88,60.72 L421.10,60.75 L421.32,60.81 L421.54,60.90 L421.76,61.02 L421.98,61.17 L422.19,61.35 L422.41,61.57 L422.63,61.82 L422.85,62.09 L423.07,62.40 L423.28,62.73 L423.50,63.08 L423.72,63.46 L423.94,63.86 L424.16,64.28 L424.38,64.72 L424.59,65.17 L424.81,65.64 L425.03,66.11 L425.25,66.60 L425.47,67.09 L425.69,67.59 L425.90,68.10 L426.12,68.60 L426.34,69.11 L426.56,69.62 L426.78,70.14 L426.99,70.65 L427.21,71.15 L427.43,71.66 L427.65,72.16 L427.87,72.66 L428.09,73.16 L428.30,73.65 L428.52,74.14 L428.74,74.62 L428.96,75.09 L429.18,75.56 L429.40,76.03 L429.61,76.49 L429.83,76.94 L430.05,77.38 L430.27,77.82 L430.49,78.26 L430.71,78.68 L430.92,79.10 L431.14,79.52 L431.36,79.92 L431.58,80.32 L431.80,80.72 L432.01,81.10 L432.23,81.48 L432.45,81.86 L432.67,82.22 L432.89,82.58 L433.11,82.94 L433.32,83.29 L433.54,83.63 L433.76,83.96 L433.98,84.29 L434.20,84.61 L434.42,84.93 L434.63,85.23 L434.85,85.54 L435.07,85.83 L435.29,86.12 L435.51,86.41 L435.72,86.69 L435.94,86.96 L436.16,87.23 L436.38,87.49 L436.60,87.74 L436.82,87.99 L437.03,88.23 L437.25,88.47 L437.47,88.71 L437.69,88.93 L437.91,89.15 L438.13,89.37 L438.34,89.58 L438.56,89.79 L438.78,89.99 L439.00,90.19 L439.22,90.38 L439.43,90.56 L439.65,90.75 L439.87,90.92 L440.09,91.09 L440.31,91.26 L440.53,91.43 L440.74,91.58 L440.96,91.74 L441.18,91.89 L441.40,92.03 L441.62,92.18 L441.84,92.31 L442.05,92.45 L442.27,92.58 L442.49,92.70 L442.71,92.82 L442.93,92.94 L443.14,93.06 L443.36,93.17 L443.58,93.28 L443.80,93.38 L444.02,93.48 L444.24,93.58 L444.45,93.67 L444.67,93.76 L444.89,93.85 L445.11,93.93 L445.33,94.01 L445.55,94.09 L445.76,94.17 L445.98,94.24 L446.20,94.31 L446.42,94.37 L446.64,94.44 L446.85,94.50 L447.07,94.55 L447.29,94.61 L447.51,94.66 L447.73,94.71 L447.95,94.76 L448.16,94.80 L448.38,94.84 L448.60,94.88 L448.82,94.92 L449.04,94.95 L449.26,94.99 L449.47,95.02 L449.69,95.04 L449.91,95.07 L450.13,95.09 L450.35,95.11 L450.57,95.13 L450.78,95.14 L451.00,95.16 L451.22,95.17 L451.44,95.17 L451.66,95.18 L451.87,95.18 L452.09,95.19 L452.31,95.19 L452.53,95.18 L452.75,95.18 L452.97,95.17 L453.18,95.16 L453.40,95.15 L453.62,95.13 L453.84,95.12 L454.06,95.10 L454.28,95.08 L454.49,95.05 L454.71,95.03 L454.93,95.00 L455.15,94.97 L455.37,94.93 L455.58,94.90 L455.80,94.86 L456.02,94.82 L456.24,94.77 L456.46,94.73 L456.68,94.68 L456.89,94.63 L457.11,94.57 L457.33,94.52 L457.55,94.46 L457.77,94.40 L457.99,94.33 L458.20,94.26 L458.42,94.19 L458.64,94.12 L458.86,94.04 L459.08,93.96 L459.29,93.88 L459.51,93.79 L459.73,93.70 L459.95,93.61 L460.17,93.51 L460.39,93.41 L460.60,93.31 L460.82,93.20 L461.04,93.09 L461.26,92.97 L461.48,92.85 L461.70,92.73 L461.91,92.60 L462.13,92.47 L462.35,92.33 L462.57,92.19 L462.79,92.04 L463.00,91.89 L463.22,91.73 L463.44,91.57 L463.66,91.40 L463.88,91.23 L464.10,91.05 L464.31,90.87 L464.53,90.68 L464.75,90.48 L464.97,90.28 L465.19,90.07 L465.41,89.85 L465.62,89.63 L465.84,89.39 L466.06,89.15 L466.28,88.91 L466.50,88.65 L466.72,88.39 L466.93,88.11 L467.15,87.83 L467.37,87.54 L467.59,87.23 L467.81,86.92 L468.02,86.60 L468.24,86.26 L468.46,85.91 L468.68,85.56 L468.90,85.18 L469.12,84.80 L469.33,84.40 L469.55,83.99 L469.77,83.57 L469.99,83.13 L470.21,82.68 L470.43,82.21 L470.64,81.73 L470.86,81.24 L471.08,80.73 L471.30,80.21 L471.52,79.67 L471.73,79.13 L471.95,78.58 L472.17,78.03 L472.39,77.47 L472.61,76.92 L472.83,76.38 L473.04,75.86 L473.26,75.37 L473.48,74.92 L473.70,74.51 L473.92,74.18 L474.14,73.92 L474.35,73.75 L474.57,73.69 L474.79,73.73 L475.01,73.89 L475.23,74.17 L475.44,74.55 L475.66,75.04 L475.88,75.62 L476.10,76.28 L476.32,77.00 L476.54,77.77 L476.75,78.58 L476.97,79.42 L477.19,80.28 L477.41,81.15 L477.63,82.02 L477.85,82.90 L478.06,83.77 L478.28,84.63 L478.50,85.48 L478.72,86.32 L478.94,87.15 L479.15,87.96 L479.37,88.76 L479.59,89.55 L479.81,90.32 L480.03,91.08 L480.25,91.82 L480.46,92.55 L480.68,93.26 L480.90,93.97 L481.12,94.66 L481.34,95.34 L481.56,96.00 L481.77,96.66 L481.99,97.30 L482.21,97.93 L482.43,98.56 L482.65,99.17 L482.86,99.77 L483.08,100.37 L483.30,100.95 L483.52,101.53 L483.74,102.10 L483.96,102.66 L484.17,103.21 L484.39,103.75 L484.61,104.29 L484.83,104.82 L485.05,105.35 L485.27,105.87 L485.48,106.38 L485.70,106.88 L485.92,107.38 L486.14,107.88 L486.36,108.37 L486.58,108.85 L486.79,109.33 L487.01,109.81 L487.23,110.27 L487.45,110.74 L487.67,111.20 L487.88,111.66 L488.10,112.11 L488.32,112.55 L488.54,113.00 L488.76,113.44 L488.98,113.87 L489.19,114.31 L489.41,114.74 L489.63,115.16 L489.85,115.58 L490.07,116.00 L490.29,116.42 L490.50,116.83 L490.72,117.24 L490.94,117.65 L491.16,118.05 L491.38,118.46 L491.59,118.86 L491.81,119.25 L492.03,119.65 L492.25,120.04 L492.47,120.43 L492.69,120.81 L492.90,121.20 L493.12,121.58 L493.34,121.96 L493.56,122.34 L493.78,122.71 L494.00,123.09 L494.21,123.46 L494.43,123.83 L494.65,124.20 L494.87,124.56 L495.09,124.93 L495.30,125.29 L495.52,125.65 L495.74,126.01 L495.96,126.37 L496.18,126.72 L496.40,127.08 L496.61,127.43 L496.83,127.78 L497.05,128.13 L497.27,128.48 L497.49,128.83 L497.71,129.17 L497.92,129.51 L498.14,129.86 L498.36,130.20 L498.58,130.54 L498.80,130.88 L499.01,131.22 L499.23,131.55 L499.45,131.89 L499.67,132.22 L499.89,132.55 L500.11,132.89 L500.32,133.22 L500.54,133.55 L500.76,133.88 L500.98,134.20 L501.20,134.53 L501.42,134.86 L501.63,135.18 L501.85,135.50 L502.07,135.83 L502.29,136.15 L502.51,136.47 L502.73,136.79 L502.94,137.11 L503.16,137.43 L503.38,137.74 L503.60,138.06 L503.82,138.38 L504.03,138.69 L504.25,139.01 L504.47,139.32 L504.69,139.63 L504.91,139.94 L505.13,140.25 L505.34,140.57 L505.56,140.87 L505.78,141.18 L506.00,141.49 L506.22,141.80 L506.44,142.11 L506.65,142.41 L506.87,142.72 L507.09,143.02 L507.31,143.33 L507.53,143.63 L507.74,143.94 L507.96,144.24 L508.18,144.54 L508.40,144.84 L508.62,145.14 L508.84,145.44 L509.05,145.74 L509.27,146.04 L509.49,146.34 L509.71,146.64 L509.93,146.94 L510.15,147.23 L510.36,147.53 L510.58,147.83 L510.80,148.12" fill="none" stroke="#e9bb42" stroke-width="1.6" stroke-linejoin="round"/>
</g>
<clipPath id="cC"><rect x="166.0" y="221.2" width="195.8" height="151.40000000000003"/></clipPath>
<g clip-path="url(#cC)">
<path d="M166.00,345.37 L166.22,345.09 L166.44,344.81 L166.65,344.52 L166.87,344.24 L167.09,343.95 L167.31,343.67 L167.52,343.39 L167.74,343.10 L167.96,342.82 L168.18,342.53 L168.40,342.25 L168.61,341.97 L168.83,341.68 L169.05,341.40 L169.27,341.11 L169.48,340.83 L169.70,340.54 L169.92,340.26 L170.14,339.97 L170.36,339.69 L170.57,339.40 L170.79,339.12 L171.01,338.83 L171.23,338.54 L171.44,338.26 L171.66,337.97 L171.88,337.69 L172.10,337.40 L172.32,337.11 L172.53,336.83 L172.75,336.54 L172.97,336.25 L173.19,335.97 L173.41,335.68 L173.62,335.39 L173.84,335.10 L174.06,334.82 L174.28,334.53 L174.49,334.24 L174.71,333.95 L174.93,333.66 L175.15,333.37 L175.37,333.09 L175.58,332.80 L175.80,332.51 L176.02,332.22 L176.24,331.93 L176.45,331.64 L176.67,331.35 L176.89,331.06 L177.11,330.76 L177.33,330.47 L177.54,330.18 L177.76,329.89 L177.98,329.60 L178.20,329.31 L178.41,329.01 L178.63,328.72 L178.85,328.43 L179.07,328.13 L179.29,327.84 L179.50,327.55 L179.72,327.25 L179.94,326.96 L180.16,326.66 L180.37,326.37 L180.59,326.07 L180.81,325.78 L181.03,325.48 L181.25,325.18 L181.46,324.89 L181.68,324.59 L181.90,324.29 L182.12,323.99 L182.33,323.69 L182.55,323.39 L182.77,323.09 L182.99,322.79 L183.21,322.49 L183.42,322.19 L183.64,321.89 L183.86,321.59 L184.08,321.29 L184.29,320.99 L184.51,320.68 L184.73,320.38 L184.95,320.07 L185.17,319.77 L185.38,319.46 L185.60,319.16 L185.82,318.85 L186.04,318.54 L186.26,318.24 L186.47,317.93 L186.69,317.62 L186.91,317.31 L187.13,317.00 L187.34,316.69 L187.56,316.38 L187.78,316.07 L188.00,315.76 L188.22,315.44 L188.43,315.13 L188.65,314.81 L188.87,314.50 L189.09,314.18 L189.30,313.87 L189.52,313.55 L189.74,313.23 L189.96,312.91 L190.18,312.59 L190.39,312.27 L190.61,311.95 L190.83,311.63 L191.05,311.30 L191.26,310.98 L191.48,310.65 L191.70,310.33 L191.92,310.00 L192.14,309.67 L192.35,309.34 L192.57,309.01 L192.79,308.68 L193.01,308.35 L193.22,308.02 L193.44,307.68 L193.66,307.35 L193.88,307.01 L194.10,306.68 L194.31,306.34 L194.53,306.00 L194.75,305.66 L194.97,305.31 L195.18,304.97 L195.40,304.62 L195.62,304.28 L195.84,303.93 L196.06,303.58 L196.27,303.23 L196.49,302.88 L196.71,302.53 L196.93,302.17 L197.15,301.81 L197.36,301.46 L197.58,301.10 L197.80,300.73 L198.02,300.37 L198.23,300.01 L198.45,299.64 L198.67,299.27 L198.89,298.90 L199.11,298.53 L199.32,298.15 L199.54,297.78 L199.76,297.40 L199.98,297.02 L200.19,296.64 L200.41,296.25 L200.63,295.87 L200.85,295.48 L201.07,295.08 L201.28,294.69 L201.50,294.29 L201.72,293.89 L201.94,293.49 L202.15,293.09 L202.37,292.68 L202.59,292.27 L202.81,291.86 L203.03,291.44 L203.24,291.02 L203.46,290.60 L203.68,290.17 L203.90,289.75 L204.11,289.31 L204.33,288.88 L204.55,288.44 L204.77,287.99 L204.99,287.55 L205.20,287.09 L205.42,286.64 L205.64,286.18 L205.86,285.71 L206.07,285.25 L206.29,284.77 L206.51,284.29 L206.73,283.81 L206.95,283.32 L207.16,282.83 L207.38,282.33 L207.60,281.82 L207.82,281.31 L208.03,280.80 L208.25,280.27 L208.47,279.74 L208.69,279.21 L208.91,278.66 L209.12,278.11 L209.34,277.55 L209.56,276.98 L209.78,276.41 L210.00,275.82 L210.21,275.23 L210.43,274.63 L210.65,274.02 L210.87,273.40 L211.08,272.76 L211.30,272.12 L211.52,271.46 L211.74,270.80 L211.96,270.12 L212.17,269.42 L212.39,268.72 L212.61,268.00 L212.83,267.26 L213.04,266.51 L213.26,265.74 L213.48,264.96 L213.70,264.16 L213.92,263.34 L214.13,262.50 L214.35,261.64 L214.57,260.76 L214.79,259.85 L215.00,258.93 L215.22,257.99 L215.44,257.02 L215.66,256.04 L215.88,255.03 L216.09,254.01 L216.31,252.97 L216.53,251.91 L216.75,250.86 L216.96,249.80 L217.18,248.75 L217.40,247.73 L217.62,246.75 L217.84,245.83 L218.05,244.99 L218.27,244.25 L218.49,243.65 L218.71,243.19 L218.92,242.90 L219.14,242.78 L219.36,242.83 L219.58,243.04 L219.80,243.39 L220.01,243.87 L220.23,244.43 L220.45,245.07 L220.67,245.76 L220.88,246.49 L221.10,247.23 L221.32,247.98 L221.54,248.72 L221.76,249.46 L221.97,250.19 L222.19,250.89 L222.41,251.58 L222.63,252.25 L222.85,252.90 L223.06,253.52 L223.28,254.12 L223.50,254.71 L223.72,255.27 L223.93,255.81 L224.15,256.33 L224.37,256.83 L224.59,257.32 L224.81,257.78 L225.02,258.23 L225.24,258.67 L225.46,259.08 L225.68,259.49 L225.89,259.88 L226.11,260.25 L226.33,260.62 L226.55,260.97 L226.77,261.31 L226.98,261.63 L227.20,261.95 L227.42,262.25 L227.64,262.55 L227.85,262.84 L228.07,263.11 L228.29,263.38 L228.51,263.64 L228.73,263.89 L228.94,264.13 L229.16,264.37 L229.38,264.59 L229.60,264.81 L229.81,265.03 L230.03,265.23 L230.25,265.43 L230.47,265.63 L230.69,265.82 L230.90,266.00 L231.12,266.18 L231.34,266.35 L231.56,266.51 L231.77,266.67 L231.99,266.83 L232.21,266.98 L232.43,267.12 L232.65,267.26 L232.86,267.40 L233.08,267.53 L233.30,267.66 L233.52,267.79 L233.74,267.91 L233.95,268.02 L234.17,268.14 L234.39,268.24 L234.61,268.35 L234.82,268.45 L235.04,268.55 L235.26,268.64 L235.48,268.73 L235.70,268.82 L235.91,268.91 L236.13,268.99 L236.35,269.07 L236.57,269.15 L236.78,269.22 L237.00,269.29 L237.22,269.36 L237.44,269.42 L237.66,269.48 L237.87,269.54 L238.09,269.60 L238.31,269.65 L238.53,269.71 L238.74,269.76 L238.96,269.80 L239.18,269.85 L239.40,269.89 L239.62,269.93 L239.83,269.97 L240.05,270.00 L240.27,270.04 L240.49,270.07 L240.70,270.10 L240.92,270.13 L241.14,270.15 L241.36,270.17 L241.58,270.20 L241.79,270.22 L242.01,270.23 L242.23,270.25 L242.45,270.26 L242.66,270.27 L242.88,270.28 L243.10,270.29 L243.32,270.30 L243.54,270.30 L243.75,270.30 L243.97,270.30 L244.19,270.30 L244.41,270.30 L244.62,270.30 L244.84,270.29 L245.06,270.28 L245.28,270.27 L245.50,270.26 L245.71,270.25 L245.93,270.23 L246.15,270.22 L246.37,270.20 L246.59,270.18 L246.80,270.16 L247.02,270.14 L247.24,270.11 L247.46,270.09 L247.67,270.06 L247.89,270.03 L248.11,270.00 L248.33,269.97 L248.55,269.93 L248.76,269.90 L248.98,269.86 L249.20,269.82 L249.42,269.78 L249.63,269.74 L249.85,269.69 L250.07,269.65 L250.29,269.60 L250.51,269.55 L250.72,269.50 L250.94,269.45 L251.16,269.40 L251.38,269.35 L251.59,269.29 L251.81,269.23 L252.03,269.17 L252.25,269.11 L252.47,269.05 L252.68,268.98 L252.90,268.92 L253.12,268.85 L253.34,268.78 L253.55,268.71 L253.77,268.64 L253.99,268.56 L254.21,268.49 L254.43,268.41 L254.64,268.33 L254.86,268.25 L255.08,268.17 L255.30,268.08 L255.51,268.00 L255.73,267.91 L255.95,267.82 L256.17,267.73 L256.39,267.63 L256.60,267.54 L256.82,267.44 L257.04,267.34 L257.26,267.24 L257.47,267.14 L257.69,267.03 L257.91,266.92 L258.13,266.81 L258.35,266.70 L258.56,266.59 L258.78,266.47 L259.00,266.36 L259.22,266.24 L259.44,266.12 L259.65,265.99 L259.87,265.87 L260.09,265.74 L260.31,265.61 L260.52,265.47 L260.74,265.34 L260.96,265.20 L261.18,265.06 L261.40,264.92 L261.61,264.77 L261.83,264.62 L262.05,264.47 L262.27,264.32 L262.48,264.16 L262.70,264.00 L262.92,263.84 L263.14,263.68 L263.36,263.51 L263.57,263.34 L263.79,263.16 L264.01,262.99 L264.23,262.81 L264.44,262.63 L264.66,262.44 L264.88,262.25 L265.10,262.06 L265.32,261.86 L265.53,261.66 L265.75,261.46 L265.97,261.25 L266.19,261.04 L266.40,260.83 L266.62,260.61 L266.84,260.38 L267.06,260.16 L267.28,259.93 L267.49,259.69 L267.71,259.45 L267.93,259.21 L268.15,258.96 L268.36,258.71 L268.58,258.45 L268.80,258.19 L269.02,257.92 L269.24,257.65 L269.45,257.38 L269.67,257.09 L269.89,256.81 L270.11,256.51 L270.33,256.22 L270.54,255.91 L270.76,255.61 L270.98,255.29 L271.20,254.97 L271.41,254.65 L271.63,254.32 L271.85,253.98 L272.07,253.64 L272.29,253.29 L272.50,252.94 L272.72,252.58 L272.94,252.22 L273.16,251.85 L273.37,251.48 L273.59,251.10 L273.81,250.72 L274.03,250.34 L274.25,249.95 L274.46,249.56 L274.68,249.17 L274.90,248.78 L275.12,248.39 L275.33,248.00 L275.55,247.61 L275.77,247.22 L275.99,246.85 L276.21,246.48 L276.42,246.12 L276.64,245.77 L276.86,245.44 L277.08,245.12 L277.29,244.83 L277.51,244.56 L277.73,244.32 L277.95,244.10 L278.17,243.92 L278.38,243.77 L278.60,243.66 L278.82,243.59 L279.04,243.56 L279.25,243.57 L279.47,243.63 L279.69,243.73 L279.91,243.87 L280.13,244.05 L280.34,244.27 L280.56,244.53 L280.78,244.82 L281.00,245.15 L281.21,245.50 L281.43,245.88 L281.65,246.29 L281.87,246.71 L282.09,247.15 L282.30,247.61 L282.52,248.08 L282.74,248.55 L282.96,249.04 L283.18,249.53 L283.39,250.03 L283.61,250.53 L283.83,251.03 L284.05,251.53 L284.26,252.02 L284.48,252.52 L284.70,253.02 L284.92,253.51 L285.14,253.99 L285.35,254.48 L285.57,254.96 L285.79,255.43 L286.01,255.90 L286.22,256.36 L286.44,256.82 L286.66,257.27 L286.88,257.72 L287.10,258.16 L287.31,258.60 L287.53,259.03 L287.75,259.45 L287.97,259.87 L288.18,260.28 L288.40,260.69 L288.62,261.09 L288.84,261.49 L289.06,261.88 L289.27,262.26 L289.49,262.64 L289.71,263.02 L289.93,263.39 L290.14,263.75 L290.36,264.11 L290.58,264.46 L290.80,264.81 L291.02,265.16 L291.23,265.50 L291.45,265.84 L291.67,266.17 L291.89,266.50 L292.10,266.82 L292.32,267.14 L292.54,267.45 L292.76,267.76 L292.98,268.07 L293.19,268.37 L293.41,268.67 L293.63,268.96 L293.85,269.25 L294.06,269.54 L294.28,269.82 L294.50,270.10 L294.72,270.38 L294.94,270.65 L295.15,270.92 L295.37,271.19 L295.59,271.45 L295.81,271.71 L296.03,271.96 L296.24,272.22 L296.46,272.47 L296.68,272.71 L296.90,272.96 L297.11,273.20 L297.33,273.43 L297.55,273.67 L297.77,273.90 L297.99,274.13 L298.20,274.35 L298.42,274.57 L298.64,274.79 L298.86,275.01 L299.07,275.22 L299.29,275.43 L299.51,275.64 L299.73,275.84 L299.95,276.05 L300.16,276.25 L300.38,276.44 L300.60,276.64 L300.82,276.83 L301.03,277.01 L301.25,277.20 L301.47,277.38 L301.69,277.56 L301.91,277.74 L302.12,277.92 L302.34,278.09 L302.56,278.26 L302.78,278.42 L302.99,278.59 L303.21,278.75 L303.43,278.91 L303.65,279.06 L303.87,279.22 L304.08,279.37 L304.30,279.51 L304.52,279.66 L304.74,279.80 L304.95,279.94 L305.17,280.08 L305.39,280.21 L305.61,280.34 L305.83,280.47 L306.04,280.59 L306.26,280.72 L306.48,280.84 L306.70,280.95 L306.92,281.06 L307.13,281.18 L307.35,281.28 L307.57,281.39 L307.79,281.49 L308.00,281.58 L308.22,281.68 L308.44,281.77 L308.66,281.86 L308.88,281.94 L309.09,282.02 L309.31,282.10 L309.53,282.18 L309.75,282.25 L309.96,282.32 L310.18,282.38 L310.40,282.44 L310.62,282.49 L310.84,282.55 L311.05,282.60 L311.27,282.64 L311.49,282.68 L311.71,282.72 L311.92,282.75 L312.14,282.77 L312.36,282.80 L312.58,282.82 L312.80,282.83 L313.01,282.84 L313.23,282.84 L313.45,282.84 L313.67,282.83 L313.88,282.82 L314.10,282.80 L314.32,282.78 L314.54,282.75 L314.76,282.72 L314.97,282.68 L315.19,282.63 L315.41,282.58 L315.63,282.52 L315.84,282.45 L316.06,282.38 L316.28,282.30 L316.50,282.21 L316.72,282.11 L316.93,282.01 L317.15,281.90 L317.37,281.78 L317.59,281.65 L317.80,281.51 L318.02,281.36 L318.24,281.20 L318.46,281.03 L318.68,280.86 L318.89,280.67 L319.11,280.47 L319.33,280.25 L319.55,280.03 L319.77,279.79 L319.98,279.54 L320.20,279.28 L320.42,279.00 L320.64,278.71 L320.85,278.40 L321.07,278.08 L321.29,277.74 L321.51,277.39 L321.73,277.02 L321.94,276.64 L322.16,276.24 L322.38,275.82 L322.60,275.39 L322.81,274.95 L323.03,274.49 L323.25,274.02 L323.47,273.55 L323.69,273.07 L323.90,272.59 L324.12,272.12 L324.34,271.66 L324.56,271.22 L324.77,270.82 L324.99,270.47 L325.21,270.17 L325.43,269.95 L325.65,269.82 L325.86,269.79 L326.08,269.88 L326.30,270.09 L326.52,270.43 L326.73,270.88 L326.95,271.46 L327.17,272.14 L327.39,272.91 L327.61,273.77 L327.82,274.68 L328.04,275.65 L328.26,276.65 L328.48,277.68 L328.69,278.72 L328.91,279.78 L329.13,280.83 L329.35,281.88 L329.57,282.93 L329.78,283.96 L330.00,284.98 L330.22,285.99 L330.44,286.99 L330.65,287.97 L330.87,288.93 L331.09,289.88 L331.31,290.81 L331.53,291.73 L331.74,292.63 L331.96,293.52 L332.18,294.39 L332.40,295.25 L332.62,296.09 L332.83,296.92 L333.05,297.74 L333.27,298.54 L333.49,299.34 L333.70,300.12 L333.92,300.89 L334.14,301.65 L334.36,302.40 L334.58,303.14 L334.79,303.87 L335.01,304.59 L335.23,305.30 L335.45,306.01 L335.66,306.70 L335.88,307.39 L336.10,308.07 L336.32,308.74 L336.54,309.40 L336.75,310.06 L336.97,310.71 L337.19,311.36 L337.41,311.99 L337.62,312.62 L337.84,313.25 L338.06,313.87 L338.28,314.49 L338.50,315.10 L338.71,315.70 L338.93,316.30 L339.15,316.89 L339.37,317.48 L339.58,318.07 L339.80,318.65 L340.02,319.22 L340.24,319.80 L340.46,320.36 L340.67,320.93 L340.89,321.49 L341.11,322.05 L341.33,322.60 L341.54,323.15 L341.76,323.69 L341.98,324.24 L342.20,324.77 L342.42,325.31 L342.63,325.84 L342.85,326.37 L343.07,326.90 L343.29,327.42 L343.51,327.94 L343.72,328.46 L343.94,328.98 L344.16,329.49 L344.38,330.00 L344.59,330.51 L344.81,331.02 L345.03,331.52 L345.25,332.02 L345.47,332.52 L345.68,333.02 L345.90,333.51 L346.12,334.00 L346.34,334.49 L346.55,334.98 L346.77,335.47 L346.99,335.95 L347.21,336.43 L347.43,336.91 L347.64,337.39 L347.86,337.87 L348.08,338.34 L348.30,338.82 L348.51,339.29 L348.73,339.76 L348.95,340.22 L349.17,340.69 L349.39,341.16 L349.60,341.62 L349.82,342.08 L350.04,342.54 L350.26,343.00 L350.47,343.46 L350.69,343.92 L350.91,344.37 L351.13,344.83 L351.35,345.28 L351.56,345.73 L351.78,346.18 L352.00,346.63 L352.22,347.07 L352.43,347.52 L352.65,347.97 L352.87,348.41 L353.09,348.85 L353.31,349.29 L353.52,349.74 L353.74,350.17 L353.96,350.61 L354.18,351.05 L354.39,351.49 L354.61,351.92 L354.83,352.36 L355.05,352.79 L355.27,353.22 L355.48,353.65 L355.70,354.09 L355.92,354.52 L356.14,354.94 L356.36,355.37 L356.57,355.80 L356.79,356.23 L357.01,356.65 L357.23,357.08 L357.44,357.50 L357.66,357.92 L357.88,358.35 L358.10,358.77 L358.32,359.19 L358.53,359.61 L358.75,360.03 L358.97,360.45 L359.19,360.86 L359.40,361.28 L359.62,361.70 L359.84,362.11 L360.06,362.53 L360.28,362.94 L360.49,363.36 L360.71,363.77 L360.93,364.18 L361.15,364.59 L361.36,365.01 L361.58,365.42 L361.80,365.83" fill="none" stroke="#2a6590" stroke-dasharray="0.01 2.3" stroke-linecap="round" stroke-width="1.45" stroke-linejoin="round"/>
<path d="M166.00,335.78 L166.22,335.48 L166.44,335.19 L166.65,334.90 L166.87,334.61 L167.09,334.32 L167.31,334.02 L167.52,333.73 L167.74,333.44 L167.96,333.15 L168.18,332.85 L168.40,332.56 L168.61,332.27 L168.83,331.97 L169.05,331.68 L169.27,331.39 L169.48,331.09 L169.70,330.80 L169.92,330.50 L170.14,330.21 L170.36,329.91 L170.57,329.62 L170.79,329.32 L171.01,329.02 L171.23,328.73 L171.44,328.43 L171.66,328.13 L171.88,327.84 L172.10,327.54 L172.32,327.24 L172.53,326.94 L172.75,326.65 L172.97,326.35 L173.19,326.05 L173.41,325.75 L173.62,325.45 L173.84,325.15 L174.06,324.85 L174.28,324.55 L174.49,324.25 L174.71,323.95 L174.93,323.65 L175.15,323.34 L175.37,323.04 L175.58,322.74 L175.80,322.44 L176.02,322.13 L176.24,321.83 L176.45,321.52 L176.67,321.22 L176.89,320.91 L177.11,320.61 L177.33,320.30 L177.54,320.00 L177.76,319.69 L177.98,319.38 L178.20,319.07 L178.41,318.76 L178.63,318.45 L178.85,318.14 L179.07,317.83 L179.29,317.52 L179.50,317.21 L179.72,316.90 L179.94,316.59 L180.16,316.28 L180.37,315.96 L180.59,315.65 L180.81,315.33 L181.03,315.02 L181.25,314.70 L181.46,314.38 L181.68,314.07 L181.90,313.75 L182.12,313.43 L182.33,313.11 L182.55,312.79 L182.77,312.47 L182.99,312.15 L183.21,311.83 L183.42,311.50 L183.64,311.18 L183.86,310.85 L184.08,310.53 L184.29,310.20 L184.51,309.87 L184.73,309.54 L184.95,309.22 L185.17,308.89 L185.38,308.55 L185.60,308.22 L185.82,307.89 L186.04,307.55 L186.26,307.22 L186.47,306.88 L186.69,306.55 L186.91,306.21 L187.13,305.87 L187.34,305.53 L187.56,305.19 L187.78,304.84 L188.00,304.50 L188.22,304.16 L188.43,303.81 L188.65,303.46 L188.87,303.11 L189.09,302.76 L189.30,302.41 L189.52,302.06 L189.74,301.70 L189.96,301.35 L190.18,300.99 L190.39,300.63 L190.61,300.27 L190.83,299.91 L191.05,299.55 L191.26,299.18 L191.48,298.81 L191.70,298.44 L191.92,298.07 L192.14,297.70 L192.35,297.33 L192.57,296.95 L192.79,296.57 L193.01,296.19 L193.22,295.81 L193.44,295.43 L193.66,295.04 L193.88,294.65 L194.10,294.26 L194.31,293.87 L194.53,293.48 L194.75,293.08 L194.97,292.68 L195.18,292.28 L195.40,291.87 L195.62,291.46 L195.84,291.05 L196.06,290.64 L196.27,290.22 L196.49,289.80 L196.71,289.38 L196.93,288.96 L197.15,288.53 L197.36,288.09 L197.58,287.66 L197.80,287.22 L198.02,286.78 L198.23,286.33 L198.45,285.88 L198.67,285.43 L198.89,284.97 L199.11,284.51 L199.32,284.04 L199.54,283.57 L199.76,283.10 L199.98,282.62 L200.19,282.13 L200.41,281.64 L200.63,281.15 L200.85,280.65 L201.07,280.14 L201.28,279.63 L201.50,279.11 L201.72,278.59 L201.94,278.06 L202.15,277.52 L202.37,276.98 L202.59,276.43 L202.81,275.87 L203.03,275.31 L203.24,274.74 L203.46,274.16 L203.68,273.57 L203.90,272.97 L204.11,272.37 L204.33,271.75 L204.55,271.12 L204.77,270.49 L204.99,269.84 L205.20,269.19 L205.42,268.52 L205.64,267.84 L205.86,267.15 L206.07,266.45 L206.29,265.73 L206.51,265.01 L206.73,264.26 L206.95,263.51 L207.16,262.74 L207.38,261.96 L207.60,261.16 L207.82,260.35 L208.03,259.52 L208.25,258.68 L208.47,257.83 L208.69,256.97 L208.91,256.09 L209.12,255.21 L209.34,254.32 L209.56,253.42 L209.78,252.53 L210.00,251.64 L210.21,250.77 L210.43,249.92 L210.65,249.10 L210.87,248.32 L211.08,247.59 L211.30,246.92 L211.52,246.34 L211.74,245.85 L211.96,245.46 L212.17,245.17 L212.39,245.01 L212.61,244.95 L212.83,245.01 L213.04,245.17 L213.26,245.43 L213.48,245.76 L213.70,246.17 L213.92,246.62 L214.13,247.13 L214.35,247.66 L214.57,248.22 L214.79,248.79 L215.00,249.36 L215.22,249.94 L215.44,250.52 L215.66,251.09 L215.88,251.65 L216.09,252.21 L216.31,252.75 L216.53,253.27 L216.75,253.79 L216.96,254.29 L217.18,254.77 L217.40,255.25 L217.62,255.70 L217.84,256.15 L218.05,256.57 L218.27,256.99 L218.49,257.39 L218.71,257.78 L218.92,258.16 L219.14,258.53 L219.36,258.88 L219.58,259.22 L219.80,259.56 L220.01,259.88 L220.23,260.19 L220.45,260.49 L220.67,260.78 L220.88,261.06 L221.10,261.34 L221.32,261.60 L221.54,261.86 L221.76,262.11 L221.97,262.35 L222.19,262.59 L222.41,262.81 L222.63,263.03 L222.85,263.25 L223.06,263.45 L223.28,263.65 L223.50,263.85 L223.72,264.04 L223.93,264.22 L224.15,264.40 L224.37,264.57 L224.59,264.74 L224.81,264.90 L225.02,265.06 L225.24,265.21 L225.46,265.36 L225.68,265.50 L225.89,265.64 L226.11,265.77 L226.33,265.90 L226.55,266.03 L226.77,266.15 L226.98,266.27 L227.20,266.38 L227.42,266.49 L227.64,266.60 L227.85,266.71 L228.07,266.81 L228.29,266.90 L228.51,267.00 L228.73,267.09 L228.94,267.18 L229.16,267.26 L229.38,267.34 L229.60,267.42 L229.81,267.50 L230.03,267.57 L230.25,267.64 L230.47,267.71 L230.69,267.78 L230.90,267.84 L231.12,267.90 L231.34,267.96 L231.56,268.01 L231.77,268.06 L231.99,268.12 L232.21,268.16 L232.43,268.21 L232.65,268.25 L232.86,268.30 L233.08,268.34 L233.30,268.37 L233.52,268.41 L233.74,268.44 L233.95,268.47 L234.17,268.50 L234.39,268.53 L234.61,268.56 L234.82,268.58 L235.04,268.60 L235.26,268.62 L235.48,268.64 L235.70,268.66 L235.91,268.67 L236.13,268.68 L236.35,268.69 L236.57,268.70 L236.78,268.71 L237.00,268.72 L237.22,268.72 L237.44,268.72 L237.66,268.73 L237.87,268.73 L238.09,268.72 L238.31,268.72 L238.53,268.71 L238.74,268.71 L238.96,268.70 L239.18,268.69 L239.40,268.68 L239.62,268.66 L239.83,268.65 L240.05,268.63 L240.27,268.62 L240.49,268.60 L240.70,268.58 L240.92,268.56 L241.14,268.53 L241.36,268.51 L241.58,268.48 L241.79,268.45 L242.01,268.43 L242.23,268.40 L242.45,268.36 L242.66,268.33 L242.88,268.30 L243.10,268.26 L243.32,268.22 L243.54,268.18 L243.75,268.14 L243.97,268.10 L244.19,268.06 L244.41,268.01 L244.62,267.97 L244.84,267.92 L245.06,267.87 L245.28,267.82 L245.50,267.77 L245.71,267.72 L245.93,267.66 L246.15,267.61 L246.37,267.55 L246.59,267.49 L246.80,267.43 L247.02,267.37 L247.24,267.31 L247.46,267.24 L247.67,267.18 L247.89,267.11 L248.11,267.04 L248.33,266.97 L248.55,266.90 L248.76,266.82 L248.98,266.75 L249.20,266.67 L249.42,266.60 L249.63,266.52 L249.85,266.44 L250.07,266.35 L250.29,266.27 L250.51,266.18 L250.72,266.10 L250.94,266.01 L251.16,265.92 L251.38,265.82 L251.59,265.73 L251.81,265.63 L252.03,265.54 L252.25,265.44 L252.47,265.34 L252.68,265.23 L252.90,265.13 L253.12,265.02 L253.34,264.92 L253.55,264.81 L253.77,264.69 L253.99,264.58 L254.21,264.47 L254.43,264.35 L254.64,264.23 L254.86,264.11 L255.08,263.98 L255.30,263.86 L255.51,263.73 L255.73,263.60 L255.95,263.47 L256.17,263.34 L256.39,263.20 L256.60,263.06 L256.82,262.92 L257.04,262.78 L257.26,262.63 L257.47,262.48 L257.69,262.33 L257.91,262.18 L258.13,262.03 L258.35,261.87 L258.56,261.71 L258.78,261.54 L259.00,261.38 L259.22,261.21 L259.44,261.04 L259.65,260.86 L259.87,260.69 L260.09,260.51 L260.31,260.32 L260.52,260.14 L260.74,259.95 L260.96,259.76 L261.18,259.56 L261.40,259.36 L261.61,259.16 L261.83,258.96 L262.05,258.75 L262.27,258.53 L262.48,258.32 L262.70,258.10 L262.92,257.87 L263.14,257.65 L263.36,257.41 L263.57,257.18 L263.79,256.94 L264.01,256.70 L264.23,256.45 L264.44,256.20 L264.66,255.94 L264.88,255.68 L265.10,255.42 L265.32,255.15 L265.53,254.87 L265.75,254.60 L265.97,254.31 L266.19,254.02 L266.40,253.73 L266.62,253.43 L266.84,253.13 L267.06,252.83 L267.28,252.52 L267.49,252.20 L267.71,251.88 L267.93,251.55 L268.15,251.22 L268.36,250.89 L268.58,250.55 L268.80,250.21 L269.02,249.86 L269.24,249.52 L269.45,249.16 L269.67,248.81 L269.89,248.45 L270.11,248.09 L270.33,247.74 L270.54,247.38 L270.76,247.02 L270.98,246.66 L271.20,246.31 L271.41,245.96 L271.63,245.62 L271.85,245.28 L272.07,244.96 L272.29,244.64 L272.50,244.34 L272.72,244.05 L272.94,243.78 L273.16,243.53 L273.37,243.30 L273.59,243.09 L273.81,242.91 L274.03,242.77 L274.25,242.65 L274.46,242.56 L274.68,242.51 L274.90,242.50 L275.12,242.52 L275.33,242.58 L275.55,242.67 L275.77,242.80 L275.99,242.97 L276.21,243.17 L276.42,243.40 L276.64,243.66 L276.86,243.96 L277.08,244.28 L277.29,244.62 L277.51,244.98 L277.73,245.37 L277.95,245.77 L278.17,246.18 L278.38,246.61 L278.60,247.05 L278.82,247.50 L279.04,247.95 L279.25,248.41 L279.47,248.87 L279.69,249.34 L279.91,249.81 L280.13,250.28 L280.34,250.75 L280.56,251.21 L280.78,251.68 L281.00,252.14 L281.21,252.60 L281.43,253.06 L281.65,253.52 L281.87,253.97 L282.09,254.41 L282.30,254.86 L282.52,255.29 L282.74,255.73 L282.96,256.16 L283.18,256.58 L283.39,257.00 L283.61,257.41 L283.83,257.82 L284.05,258.23 L284.26,258.63 L284.48,259.02 L284.70,259.41 L284.92,259.80 L285.14,260.18 L285.35,260.56 L285.57,260.93 L285.79,261.29 L286.01,261.66 L286.22,262.01 L286.44,262.37 L286.66,262.72 L286.88,263.06 L287.10,263.40 L287.31,263.74 L287.53,264.07 L287.75,264.40 L287.97,264.72 L288.18,265.04 L288.40,265.36 L288.62,265.67 L288.84,265.98 L289.06,266.29 L289.27,266.59 L289.49,266.89 L289.71,267.19 L289.93,267.48 L290.14,267.77 L290.36,268.05 L290.58,268.33 L290.80,268.61 L291.02,268.89 L291.23,269.16 L291.45,269.43 L291.67,269.70 L291.89,269.96 L292.10,270.22 L292.32,270.48 L292.54,270.73 L292.76,270.98 L292.98,271.23 L293.19,271.48 L293.41,271.72 L293.63,271.96 L293.85,272.20 L294.06,272.44 L294.28,272.67 L294.50,272.90 L294.72,273.13 L294.94,273.35 L295.15,273.58 L295.37,273.80 L295.59,274.01 L295.81,274.23 L296.03,274.44 L296.24,274.65 L296.46,274.86 L296.68,275.07 L296.90,275.27 L297.11,275.47 L297.33,275.67 L297.55,275.87 L297.77,276.06 L297.99,276.25 L298.20,276.44 L298.42,276.63 L298.64,276.81 L298.86,277.00 L299.07,277.18 L299.29,277.35 L299.51,277.53 L299.73,277.70 L299.95,277.88 L300.16,278.04 L300.38,278.21 L300.60,278.38 L300.82,278.54 L301.03,278.70 L301.25,278.85 L301.47,279.01 L301.69,279.16 L301.91,279.31 L302.12,279.46 L302.34,279.61 L302.56,279.75 L302.78,279.89 L302.99,280.03 L303.21,280.17 L303.43,280.30 L303.65,280.44 L303.87,280.57 L304.08,280.69 L304.30,280.82 L304.52,280.94 L304.74,281.06 L304.95,281.18 L305.17,281.29 L305.39,281.40 L305.61,281.51 L305.83,281.62 L306.04,281.73 L306.26,281.83 L306.48,281.93 L306.70,282.02 L306.92,282.12 L307.13,282.21 L307.35,282.29 L307.57,282.38 L307.79,282.46 L308.00,282.54 L308.22,282.62 L308.44,282.69 L308.66,282.76 L308.88,282.83 L309.09,282.89 L309.31,282.95 L309.53,283.01 L309.75,283.06 L309.96,283.11 L310.18,283.16 L310.40,283.20 L310.62,283.24 L310.84,283.27 L311.05,283.31 L311.27,283.33 L311.49,283.36 L311.71,283.38 L311.92,283.39 L312.14,283.40 L312.36,283.41 L312.58,283.41 L312.80,283.41 L313.01,283.40 L313.23,283.39 L313.45,283.37 L313.67,283.35 L313.88,283.32 L314.10,283.29 L314.32,283.25 L314.54,283.20 L314.76,283.15 L314.97,283.09 L315.19,283.03 L315.41,282.96 L315.63,282.88 L315.84,282.80 L316.06,282.71 L316.28,282.61 L316.50,282.51 L316.72,282.39 L316.93,282.27 L317.15,282.14 L317.37,282.00 L317.59,281.86 L317.80,281.70 L318.02,281.53 L318.24,281.35 L318.46,281.17 L318.68,280.97 L318.89,280.76 L319.11,280.54 L319.33,280.31 L319.55,280.06 L319.77,279.80 L319.98,279.53 L320.20,279.24 L320.42,278.95 L320.64,278.63 L320.85,278.30 L321.07,277.96 L321.29,277.60 L321.51,277.22 L321.73,276.83 L321.94,276.43 L322.16,276.01 L322.38,275.57 L322.60,275.12 L322.81,274.66 L323.03,274.19 L323.25,273.71 L323.47,273.23 L323.69,272.75 L323.90,272.28 L324.12,271.83 L324.34,271.40 L324.56,271.00 L324.77,270.65 L324.99,270.37 L325.21,270.16 L325.43,270.04 L325.65,270.03 L325.86,270.13 L326.08,270.35 L326.30,270.69 L326.52,271.16 L326.73,271.74 L326.95,272.42 L327.17,273.20 L327.39,274.05 L327.61,274.96 L327.82,275.92 L328.04,276.92 L328.26,277.94 L328.48,278.98 L328.69,280.02 L328.91,281.06 L329.13,282.11 L329.35,283.14 L329.57,284.16 L329.78,285.18 L330.00,286.18 L330.22,287.16 L330.44,288.13 L330.65,289.09 L330.87,290.03 L331.09,290.95 L331.31,291.86 L331.53,292.76 L331.74,293.64 L331.96,294.50 L332.18,295.35 L332.40,296.19 L332.62,297.01 L332.83,297.83 L333.05,298.62 L333.27,299.41 L333.49,300.19 L333.70,300.95 L333.92,301.71 L334.14,302.45 L334.36,303.19 L334.58,303.91 L334.79,304.63 L335.01,305.33 L335.23,306.03 L335.45,306.72 L335.66,307.40 L335.88,308.08 L336.10,308.75 L336.32,309.41 L336.54,310.06 L336.75,310.71 L336.97,311.35 L337.19,311.98 L337.41,312.61 L337.62,313.23 L337.84,313.85 L338.06,314.46 L338.28,315.06 L338.50,315.66 L338.71,316.26 L338.93,316.85 L339.15,317.44 L339.37,318.02 L339.58,318.60 L339.80,319.17 L340.02,319.74 L340.24,320.30 L340.46,320.86 L340.67,321.42 L340.89,321.97 L341.11,322.52 L341.33,323.07 L341.54,323.61 L341.76,324.15 L341.98,324.69 L342.20,325.22 L342.42,325.75 L342.63,326.28 L342.85,326.80 L343.07,327.32 L343.29,327.84 L343.51,328.36 L343.72,328.87 L343.94,329.38 L344.16,329.89 L344.38,330.39 L344.59,330.90 L344.81,331.40 L345.03,331.90 L345.25,332.39 L345.47,332.89 L345.68,333.38 L345.90,333.87 L346.12,334.36 L346.34,334.84 L346.55,335.32 L346.77,335.81 L346.99,336.29 L347.21,336.76 L347.43,337.24 L347.64,337.72 L347.86,338.19 L348.08,338.66 L348.30,339.13 L348.51,339.60 L348.73,340.06 L348.95,340.53 L349.17,340.99 L349.39,341.45 L349.60,341.91 L349.82,342.37 L350.04,342.83 L350.26,343.28 L350.47,343.74 L350.69,344.19 L350.91,344.64 L351.13,345.10 L351.35,345.54 L351.56,345.99 L351.78,346.44 L352.00,346.89 L352.22,347.33 L352.43,347.77 L352.65,348.22 L352.87,348.66 L353.09,349.10 L353.31,349.54 L353.52,349.97 L353.74,350.41 L353.96,350.85 L354.18,351.28 L354.39,351.72 L354.61,352.15 L354.83,352.58 L355.05,353.01 L355.27,353.44 L355.48,353.87 L355.70,354.30 L355.92,354.73 L356.14,355.15 L356.36,355.58 L356.57,356.01 L356.79,356.43 L357.01,356.85 L357.23,357.28 L357.44,357.70 L357.66,358.12 L357.88,358.54 L358.10,358.96 L358.32,359.38 L358.53,359.79 L358.75,360.21 L358.97,360.63 L359.19,361.04 L359.40,361.46 L359.62,361.87 L359.84,362.29 L360.06,362.70 L360.28,363.11 L360.49,363.53 L360.71,363.94 L360.93,364.35 L361.15,364.76 L361.36,365.17 L361.58,365.58 L361.80,365.99" fill="none" stroke="#c05a3a" stroke-dasharray="4.8 4.6" stroke-width="1.3" stroke-linejoin="round"/>
<path d="M166.00,329.01 L166.22,328.71 L166.44,328.41 L166.65,328.11 L166.87,327.81 L167.09,327.51 L167.31,327.20 L167.52,326.90 L167.74,326.60 L167.96,326.30 L168.18,326.00 L168.40,325.69 L168.61,325.39 L168.83,325.09 L169.05,324.78 L169.27,324.48 L169.48,324.17 L169.70,323.87 L169.92,323.56 L170.14,323.26 L170.36,322.95 L170.57,322.64 L170.79,322.34 L171.01,322.03 L171.23,321.72 L171.44,321.41 L171.66,321.11 L171.88,320.80 L172.10,320.49 L172.32,320.18 L172.53,319.87 L172.75,319.56 L172.97,319.25 L173.19,318.93 L173.41,318.62 L173.62,318.31 L173.84,318.00 L174.06,317.68 L174.28,317.37 L174.49,317.05 L174.71,316.74 L174.93,316.42 L175.15,316.10 L175.37,315.79 L175.58,315.47 L175.80,315.15 L176.02,314.83 L176.24,314.51 L176.45,314.19 L176.67,313.87 L176.89,313.55 L177.11,313.22 L177.33,312.90 L177.54,312.58 L177.76,312.25 L177.98,311.93 L178.20,311.60 L178.41,311.27 L178.63,310.95 L178.85,310.62 L179.07,310.29 L179.29,309.96 L179.50,309.63 L179.72,309.29 L179.94,308.96 L180.16,308.63 L180.37,308.29 L180.59,307.96 L180.81,307.62 L181.03,307.28 L181.25,306.94 L181.46,306.60 L181.68,306.26 L181.90,305.92 L182.12,305.58 L182.33,305.23 L182.55,304.89 L182.77,304.54 L182.99,304.20 L183.21,303.85 L183.42,303.50 L183.64,303.15 L183.86,302.79 L184.08,302.44 L184.29,302.08 L184.51,301.73 L184.73,301.37 L184.95,301.01 L185.17,300.65 L185.38,300.29 L185.60,299.92 L185.82,299.56 L186.04,299.19 L186.26,298.82 L186.47,298.45 L186.69,298.08 L186.91,297.70 L187.13,297.33 L187.34,296.95 L187.56,296.57 L187.78,296.19 L188.00,295.80 L188.22,295.42 L188.43,295.03 L188.65,294.64 L188.87,294.25 L189.09,293.86 L189.30,293.46 L189.52,293.06 L189.74,292.66 L189.96,292.26 L190.18,291.85 L190.39,291.44 L190.61,291.03 L190.83,290.62 L191.05,290.20 L191.26,289.78 L191.48,289.36 L191.70,288.93 L191.92,288.50 L192.14,288.07 L192.35,287.64 L192.57,287.20 L192.79,286.76 L193.01,286.31 L193.22,285.86 L193.44,285.41 L193.66,284.95 L193.88,284.49 L194.10,284.03 L194.31,283.56 L194.53,283.08 L194.75,282.61 L194.97,282.13 L195.18,281.64 L195.40,281.15 L195.62,280.65 L195.84,280.15 L196.06,279.64 L196.27,279.13 L196.49,278.61 L196.71,278.09 L196.93,277.56 L197.15,277.02 L197.36,276.48 L197.58,275.93 L197.80,275.37 L198.02,274.81 L198.23,274.24 L198.45,273.66 L198.67,273.08 L198.89,272.48 L199.11,271.88 L199.32,271.27 L199.54,270.66 L199.76,270.03 L199.98,269.39 L200.19,268.75 L200.41,268.09 L200.63,267.43 L200.85,266.75 L201.07,266.07 L201.28,265.38 L201.50,264.67 L201.72,263.96 L201.94,263.23 L202.15,262.50 L202.37,261.76 L202.59,261.01 L202.81,260.25 L203.03,259.48 L203.24,258.71 L203.46,257.93 L203.68,257.15 L203.90,256.37 L204.11,255.59 L204.33,254.82 L204.55,254.06 L204.77,253.31 L204.99,252.58 L205.20,251.89 L205.42,251.22 L205.64,250.60 L205.86,250.02 L206.07,249.51 L206.29,249.05 L206.51,248.67 L206.73,248.36 L206.95,248.14 L207.16,248.00 L207.38,247.93 L207.60,247.95 L207.82,248.04 L208.03,248.20 L208.25,248.42 L208.47,248.70 L208.69,249.02 L208.91,249.38 L209.12,249.78 L209.34,250.19 L209.56,250.63 L209.78,251.08 L210.00,251.54 L210.21,252.00 L210.43,252.46 L210.65,252.93 L210.87,253.39 L211.08,253.84 L211.30,254.29 L211.52,254.73 L211.74,255.16 L211.96,255.58 L212.17,255.99 L212.39,256.40 L212.61,256.79 L212.83,257.17 L213.04,257.55 L213.26,257.91 L213.48,258.26 L213.70,258.61 L213.92,258.94 L214.13,259.26 L214.35,259.58 L214.57,259.88 L214.79,260.18 L215.00,260.47 L215.22,260.75 L215.44,261.02 L215.66,261.29 L215.88,261.54 L216.09,261.79 L216.31,262.03 L216.53,262.27 L216.75,262.49 L216.96,262.72 L217.18,262.93 L217.40,263.14 L217.62,263.34 L217.84,263.54 L218.05,263.73 L218.27,263.91 L218.49,264.09 L218.71,264.27 L218.92,264.44 L219.14,264.60 L219.36,264.76 L219.58,264.92 L219.80,265.07 L220.01,265.21 L220.23,265.35 L220.45,265.49 L220.67,265.63 L220.88,265.76 L221.10,265.88 L221.32,266.00 L221.54,266.12 L221.76,266.24 L221.97,266.35 L222.19,266.45 L222.41,266.56 L222.63,266.66 L222.85,266.76 L223.06,266.85 L223.28,266.94 L223.50,267.03 L223.72,267.12 L223.93,267.20 L224.15,267.28 L224.37,267.36 L224.59,267.43 L224.81,267.50 L225.02,267.57 L225.24,267.64 L225.46,267.71 L225.68,267.77 L225.89,267.83 L226.11,267.88 L226.33,267.94 L226.55,267.99 L226.77,268.04 L226.98,268.09 L227.20,268.14 L227.42,268.18 L227.64,268.23 L227.85,268.27 L228.07,268.30 L228.29,268.34 L228.51,268.37 L228.73,268.41 L228.94,268.44 L229.16,268.47 L229.38,268.49 L229.60,268.52 L229.81,268.54 L230.03,268.56 L230.25,268.58 L230.47,268.60 L230.69,268.62 L230.90,268.63 L231.12,268.65 L231.34,268.66 L231.56,268.67 L231.77,268.68 L231.99,268.69 L232.21,268.69 L232.43,268.70 L232.65,268.70 L232.86,268.70 L233.08,268.70 L233.30,268.70 L233.52,268.70 L233.74,268.69 L233.95,268.69 L234.17,268.68 L234.39,268.67 L234.61,268.66 L234.82,268.65 L235.04,268.63 L235.26,268.62 L235.48,268.61 L235.70,268.59 L235.91,268.57 L236.13,268.55 L236.35,268.53 L236.57,268.51 L236.78,268.49 L237.00,268.46 L237.22,268.43 L237.44,268.41 L237.66,268.38 L237.87,268.35 L238.09,268.32 L238.31,268.29 L238.53,268.25 L238.74,268.22 L238.96,268.18 L239.18,268.15 L239.40,268.11 L239.62,268.07 L239.83,268.03 L240.05,267.99 L240.27,267.94 L240.49,267.90 L240.70,267.85 L240.92,267.81 L241.14,267.76 L241.36,267.71 L241.58,267.66 L241.79,267.61 L242.01,267.55 L242.23,267.50 L242.45,267.44 L242.66,267.39 L242.88,267.33 L243.10,267.27 L243.32,267.21 L243.54,267.15 L243.75,267.08 L243.97,267.02 L244.19,266.95 L244.41,266.88 L244.62,266.82 L244.84,266.75 L245.06,266.68 L245.28,266.60 L245.50,266.53 L245.71,266.45 L245.93,266.38 L246.15,266.30 L246.37,266.22 L246.59,266.14 L246.80,266.06 L247.02,265.98 L247.24,265.89 L247.46,265.81 L247.67,265.72 L247.89,265.63 L248.11,265.54 L248.33,265.45 L248.55,265.35 L248.76,265.26 L248.98,265.16 L249.20,265.06 L249.42,264.96 L249.63,264.86 L249.85,264.76 L250.07,264.66 L250.29,264.55 L250.51,264.44 L250.72,264.33 L250.94,264.22 L251.16,264.11 L251.38,263.99 L251.59,263.88 L251.81,263.76 L252.03,263.64 L252.25,263.52 L252.47,263.39 L252.68,263.27 L252.90,263.14 L253.12,263.01 L253.34,262.88 L253.55,262.75 L253.77,262.61 L253.99,262.47 L254.21,262.34 L254.43,262.19 L254.64,262.05 L254.86,261.90 L255.08,261.76 L255.30,261.60 L255.51,261.45 L255.73,261.30 L255.95,261.14 L256.17,260.98 L256.39,260.82 L256.60,260.65 L256.82,260.48 L257.04,260.31 L257.26,260.14 L257.47,259.96 L257.69,259.79 L257.91,259.60 L258.13,259.42 L258.35,259.23 L258.56,259.04 L258.78,258.85 L259.00,258.65 L259.22,258.45 L259.44,258.25 L259.65,258.05 L259.87,257.84 L260.09,257.62 L260.31,257.41 L260.52,257.19 L260.74,256.97 L260.96,256.74 L261.18,256.51 L261.40,256.28 L261.61,256.04 L261.83,255.80 L262.05,255.55 L262.27,255.30 L262.48,255.05 L262.70,254.79 L262.92,254.53 L263.14,254.26 L263.36,253.99 L263.57,253.72 L263.79,253.44 L264.01,253.16 L264.23,252.87 L264.44,252.58 L264.66,252.28 L264.88,251.98 L265.10,251.67 L265.32,251.36 L265.53,251.05 L265.75,250.73 L265.97,250.41 L266.19,250.09 L266.40,249.76 L266.62,249.43 L266.84,249.09 L267.06,248.75 L267.28,248.41 L267.49,248.07 L267.71,247.72 L267.93,247.38 L268.15,247.03 L268.36,246.68 L268.58,246.34 L268.80,246.00 L269.02,245.66 L269.24,245.32 L269.45,245.00 L269.67,244.67 L269.89,244.36 L270.11,244.06 L270.33,243.77 L270.54,243.49 L270.76,243.23 L270.98,242.99 L271.20,242.77 L271.41,242.58 L271.63,242.40 L271.85,242.26 L272.07,242.14 L272.29,242.05 L272.50,242.00 L272.72,241.98 L272.94,241.99 L273.16,242.03 L273.37,242.11 L273.59,242.23 L273.81,242.38 L274.03,242.56 L274.25,242.77 L274.46,243.01 L274.68,243.28 L274.90,243.57 L275.12,243.89 L275.33,244.23 L275.55,244.59 L275.77,244.97 L275.99,245.36 L276.21,245.77 L276.42,246.18 L276.64,246.61 L276.86,247.04 L277.08,247.48 L277.29,247.93 L277.51,248.38 L277.73,248.83 L277.95,249.28 L278.17,249.74 L278.38,250.19 L278.60,250.65 L278.82,251.10 L279.04,251.55 L279.25,252.00 L279.47,252.44 L279.69,252.89 L279.91,253.32 L280.13,253.76 L280.34,254.19 L280.56,254.62 L280.78,255.04 L281.00,255.46 L281.21,255.87 L281.43,256.28 L281.65,256.69 L281.87,257.09 L282.09,257.49 L282.30,257.88 L282.52,258.27 L282.74,258.65 L282.96,259.03 L283.18,259.40 L283.39,259.77 L283.61,260.14 L283.83,260.50 L284.05,260.86 L284.26,261.21 L284.48,261.56 L284.70,261.90 L284.92,262.25 L285.14,262.58 L285.35,262.92 L285.57,263.24 L285.79,263.57 L286.01,263.89 L286.22,264.21 L286.44,264.52 L286.66,264.83 L286.88,265.14 L287.10,265.45 L287.31,265.75 L287.53,266.04 L287.75,266.34 L287.97,266.63 L288.18,266.92 L288.40,267.20 L288.62,267.48 L288.84,267.76 L289.06,268.04 L289.27,268.31 L289.49,268.58 L289.71,268.84 L289.93,269.11 L290.14,269.37 L290.36,269.63 L290.58,269.88 L290.80,270.14 L291.02,270.39 L291.23,270.63 L291.45,270.88 L291.67,271.12 L291.89,271.36 L292.10,271.60 L292.32,271.83 L292.54,272.07 L292.76,272.30 L292.98,272.53 L293.19,272.75 L293.41,272.97 L293.63,273.19 L293.85,273.41 L294.06,273.63 L294.28,273.84 L294.50,274.06 L294.72,274.26 L294.94,274.47 L295.15,274.68 L295.37,274.88 L295.59,275.08 L295.81,275.28 L296.03,275.48 L296.24,275.67 L296.46,275.86 L296.68,276.05 L296.90,276.24 L297.11,276.43 L297.33,276.61 L297.55,276.79 L297.77,276.97 L297.99,277.15 L298.20,277.32 L298.42,277.50 L298.64,277.67 L298.86,277.84 L299.07,278.01 L299.29,278.17 L299.51,278.33 L299.73,278.49 L299.95,278.65 L300.16,278.81 L300.38,278.96 L300.60,279.12 L300.82,279.27 L301.03,279.42 L301.25,279.56 L301.47,279.71 L301.69,279.85 L301.91,279.99 L302.12,280.13 L302.34,280.26 L302.56,280.40 L302.78,280.53 L302.99,280.66 L303.21,280.78 L303.43,280.91 L303.65,281.03 L303.87,281.15 L304.08,281.27 L304.30,281.38 L304.52,281.50 L304.74,281.61 L304.95,281.71 L305.17,281.82 L305.39,281.92 L305.61,282.02 L305.83,282.12 L306.04,282.22 L306.26,282.31 L306.48,282.40 L306.70,282.49 L306.92,282.58 L307.13,282.66 L307.35,282.74 L307.57,282.82 L307.79,282.89 L308.00,282.96 L308.22,283.03 L308.44,283.09 L308.66,283.16 L308.88,283.22 L309.09,283.27 L309.31,283.32 L309.53,283.37 L309.75,283.42 L309.96,283.46 L310.18,283.50 L310.40,283.54 L310.62,283.57 L310.84,283.60 L311.05,283.62 L311.27,283.64 L311.49,283.66 L311.71,283.67 L311.92,283.68 L312.14,283.68 L312.36,283.68 L312.58,283.67 L312.80,283.66 L313.01,283.65 L313.23,283.63 L313.45,283.61 L313.67,283.58 L313.88,283.54 L314.10,283.50 L314.32,283.45 L314.54,283.40 L314.76,283.34 L314.97,283.28 L315.19,283.21 L315.41,283.13 L315.63,283.05 L315.84,282.96 L316.06,282.86 L316.28,282.75 L316.50,282.64 L316.72,282.52 L316.93,282.39 L317.15,282.25 L317.37,282.11 L317.59,281.95 L317.80,281.78 L318.02,281.61 L318.24,281.42 L318.46,281.23 L318.68,281.02 L318.89,280.80 L319.11,280.57 L319.33,280.33 L319.55,280.08 L319.77,279.81 L319.98,279.53 L320.20,279.23 L320.42,278.92 L320.64,278.60 L320.85,278.26 L321.07,277.91 L321.29,277.54 L321.51,277.15 L321.73,276.75 L321.94,276.34 L322.16,275.91 L322.38,275.46 L322.60,275.01 L322.81,274.54 L323.03,274.07 L323.25,273.59 L323.47,273.10 L323.69,272.63 L323.90,272.16 L324.12,271.72 L324.34,271.30 L324.56,270.93 L324.77,270.61 L324.99,270.36 L325.21,270.20 L325.43,270.13 L325.65,270.17 L325.86,270.33 L326.08,270.61 L326.30,271.01 L326.52,271.53 L326.73,272.16 L326.95,272.89 L327.17,273.70 L327.39,274.58 L327.61,275.51 L327.82,276.49 L328.04,277.49 L328.26,278.51 L328.48,279.55 L328.69,280.59 L328.91,281.63 L329.13,282.67 L329.35,283.69 L329.57,284.71 L329.78,285.71 L330.00,286.70 L330.22,287.68 L330.44,288.64 L330.65,289.58 L330.87,290.51 L331.09,291.42 L331.31,292.32 L331.53,293.21 L331.74,294.08 L331.96,294.93 L332.18,295.78 L332.40,296.60 L332.62,297.42 L332.83,298.22 L333.05,299.01 L333.27,299.79 L333.49,300.56 L333.70,301.32 L333.92,302.07 L334.14,302.81 L334.36,303.53 L334.58,304.25 L334.79,304.96 L335.01,305.66 L335.23,306.35 L335.45,307.04 L335.66,307.72 L335.88,308.39 L336.10,309.05 L336.32,309.70 L336.54,310.35 L336.75,310.99 L336.97,311.63 L337.19,312.26 L337.41,312.88 L337.62,313.50 L337.84,314.11 L338.06,314.72 L338.28,315.32 L338.50,315.92 L338.71,316.51 L338.93,317.10 L339.15,317.68 L339.37,318.26 L339.58,318.83 L339.80,319.40 L340.02,319.97 L340.24,320.53 L340.46,321.08 L340.67,321.64 L340.89,322.19 L341.11,322.74 L341.33,323.28 L341.54,323.82 L341.76,324.36 L341.98,324.89 L342.20,325.42 L342.42,325.95 L342.63,326.47 L342.85,326.99 L343.07,327.51 L343.29,328.03 L343.51,328.54 L343.72,329.05 L343.94,329.56 L344.16,330.07 L344.38,330.57 L344.59,331.07 L344.81,331.57 L345.03,332.06 L345.25,332.56 L345.47,333.05 L345.68,333.54 L345.90,334.03 L346.12,334.51 L346.34,335.00 L346.55,335.48 L346.77,335.96 L346.99,336.44 L347.21,336.91 L347.43,337.39 L347.64,337.86 L347.86,338.33 L348.08,338.80 L348.30,339.27 L348.51,339.74 L348.73,340.20 L348.95,340.66 L349.17,341.13 L349.39,341.59 L349.60,342.04 L349.82,342.50 L350.04,342.96 L350.26,343.41 L350.47,343.87 L350.69,344.32 L350.91,344.77 L351.13,345.22 L351.35,345.67 L351.56,346.11 L351.78,346.56 L352.00,347.00 L352.22,347.45 L352.43,347.89 L352.65,348.33 L352.87,348.77 L353.09,349.21 L353.31,349.65 L353.52,350.08 L353.74,350.52 L353.96,350.95 L354.18,351.39 L354.39,351.82 L354.61,352.25 L354.83,352.68 L355.05,353.11 L355.27,353.54 L355.48,353.97 L355.70,354.40 L355.92,354.82 L356.14,355.25 L356.36,355.67 L356.57,356.10 L356.79,356.52 L357.01,356.94 L357.23,357.36 L357.44,357.79 L357.66,358.21 L357.88,358.63 L358.10,359.04 L358.32,359.46 L358.53,359.88 L358.75,360.30 L358.97,360.71 L359.19,361.13 L359.40,361.54 L359.62,361.95 L359.84,362.37 L360.06,362.78 L360.28,363.19 L360.49,363.60 L360.71,364.01 L360.93,364.42 L361.15,364.83 L361.36,365.24 L361.58,365.65 L361.80,366.06" fill="none" stroke="#e9bb42" stroke-width="1.6" stroke-linejoin="round"/>
</g>
<rect x="22.70" y="11.80" width="195.90" height="150.00" fill="none" stroke="#9c9c9c" stroke-width="1.05"/>
<line x1="44.84" y1="161.80" x2="44.84" y2="160.60" stroke="#9c9c9c" stroke-width="0.6"/>
<line x1="44.84" y1="11.80" x2="44.84" y2="13.00" stroke="#9c9c9c" stroke-width="0.6"/>
<line x1="63.94" y1="161.80" x2="63.94" y2="160.60" stroke="#9c9c9c" stroke-width="0.6"/>
<line x1="63.94" y1="11.80" x2="63.94" y2="13.00" stroke="#9c9c9c" stroke-width="0.6"/>
<line x1="77.49" y1="161.80" x2="77.49" y2="160.60" stroke="#9c9c9c" stroke-width="0.6"/>
<line x1="77.49" y1="11.80" x2="77.49" y2="13.00" stroke="#9c9c9c" stroke-width="0.6"/>
<line x1="96.59" y1="161.80" x2="96.59" y2="160.60" stroke="#9c9c9c" stroke-width="0.6"/>
<line x1="96.59" y1="11.80" x2="96.59" y2="13.00" stroke="#9c9c9c" stroke-width="0.6"/>
<line x1="103.85" y1="161.80" x2="103.85" y2="160.60" stroke="#9c9c9c" stroke-width="0.6"/>
<line x1="103.85" y1="11.80" x2="103.85" y2="13.00" stroke="#9c9c9c" stroke-width="0.6"/>
<line x1="110.14" y1="161.80" x2="110.14" y2="160.60" stroke="#9c9c9c" stroke-width="0.6"/>
<line x1="110.14" y1="11.80" x2="110.14" y2="13.00" stroke="#9c9c9c" stroke-width="0.6"/>
<line x1="115.69" y1="161.80" x2="115.69" y2="160.60" stroke="#9c9c9c" stroke-width="0.6"/>
<line x1="115.69" y1="11.80" x2="115.69" y2="13.00" stroke="#9c9c9c" stroke-width="0.6"/>
<line x1="172.40" y1="161.80" x2="172.40" y2="160.60" stroke="#9c9c9c" stroke-width="0.6"/>
<line x1="172.40" y1="11.80" x2="172.40" y2="13.00" stroke="#9c9c9c" stroke-width="0.6"/>
<line x1="196.46" y1="161.80" x2="196.46" y2="160.60" stroke="#9c9c9c" stroke-width="0.6"/>
<line x1="196.46" y1="11.80" x2="196.46" y2="13.00" stroke="#9c9c9c" stroke-width="0.6"/>
<line x1="205.05" y1="161.80" x2="205.05" y2="160.60" stroke="#9c9c9c" stroke-width="0.6"/>
<line x1="205.05" y1="11.80" x2="205.05" y2="13.00" stroke="#9c9c9c" stroke-width="0.6"/>
<line x1="212.31" y1="161.80" x2="212.31" y2="160.60" stroke="#9c9c9c" stroke-width="0.6"/>
<line x1="212.31" y1="11.80" x2="212.31" y2="13.00" stroke="#9c9c9c" stroke-width="0.6"/>
<line x1="55.35" y1="161.80" x2="55.35" y2="159.80" stroke="#9c9c9c" stroke-width="0.8"/>
<line x1="55.35" y1="11.80" x2="55.35" y2="13.80" stroke="#9c9c9c" stroke-width="0.8"/>
<line x1="88.00" y1="161.80" x2="88.00" y2="159.80" stroke="#9c9c9c" stroke-width="0.8"/>
<line x1="88.00" y1="11.80" x2="88.00" y2="13.80" stroke="#9c9c9c" stroke-width="0.8"/>
<line x1="120.65" y1="161.80" x2="120.65" y2="159.80" stroke="#9c9c9c" stroke-width="0.8"/>
<line x1="120.65" y1="11.80" x2="120.65" y2="13.80" stroke="#9c9c9c" stroke-width="0.8"/>
<line x1="153.30" y1="161.80" x2="153.30" y2="159.80" stroke="#9c9c9c" stroke-width="0.8"/>
<line x1="153.30" y1="11.80" x2="153.30" y2="13.80" stroke="#9c9c9c" stroke-width="0.8"/>
<line x1="185.95" y1="161.80" x2="185.95" y2="159.80" stroke="#9c9c9c" stroke-width="0.8"/>
<line x1="185.95" y1="11.80" x2="185.95" y2="13.80" stroke="#9c9c9c" stroke-width="0.8"/>
<line x1="22.70" y1="161.80" x2="24.70" y2="161.80" stroke="#9c9c9c" stroke-width="0.8"/>
<line x1="218.60" y1="161.80" x2="216.60" y2="161.80" stroke="#9c9c9c" stroke-width="0.8"/>
<line x1="22.70" y1="140.37" x2="24.70" y2="140.37" stroke="#9c9c9c" stroke-width="0.8"/>
<line x1="218.60" y1="140.37" x2="216.60" y2="140.37" stroke="#9c9c9c" stroke-width="0.8"/>
<line x1="22.70" y1="118.94" x2="24.70" y2="118.94" stroke="#9c9c9c" stroke-width="0.8"/>
<line x1="218.60" y1="118.94" x2="216.60" y2="118.94" stroke="#9c9c9c" stroke-width="0.8"/>
<line x1="22.70" y1="97.51" x2="24.70" y2="97.51" stroke="#9c9c9c" stroke-width="0.8"/>
<line x1="218.60" y1="97.51" x2="216.60" y2="97.51" stroke="#9c9c9c" stroke-width="0.8"/>
<line x1="22.70" y1="76.09" x2="24.70" y2="76.09" stroke="#9c9c9c" stroke-width="0.8"/>
<line x1="218.60" y1="76.09" x2="216.60" y2="76.09" stroke="#9c9c9c" stroke-width="0.8"/>
<line x1="22.70" y1="54.66" x2="24.70" y2="54.66" stroke="#9c9c9c" stroke-width="0.8"/>
<line x1="218.60" y1="54.66" x2="216.60" y2="54.66" stroke="#9c9c9c" stroke-width="0.8"/>
<line x1="22.70" y1="33.23" x2="24.70" y2="33.23" stroke="#9c9c9c" stroke-width="0.8"/>
<line x1="218.60" y1="33.23" x2="216.60" y2="33.23" stroke="#9c9c9c" stroke-width="0.8"/>
<line x1="22.70" y1="11.80" x2="24.70" y2="11.80" stroke="#9c9c9c" stroke-width="0.8"/>
<line x1="218.60" y1="11.80" x2="216.60" y2="11.80" stroke="#9c9c9c" stroke-width="0.8"/>
<rect x="314.60" y="11.50" width="196.20" height="151.90" fill="none" stroke="#9c9c9c" stroke-width="1.05"/>
<line x1="336.77" y1="163.40" x2="336.77" y2="162.20" stroke="#9c9c9c" stroke-width="0.6"/>
<line x1="336.77" y1="11.50" x2="336.77" y2="12.70" stroke="#9c9c9c" stroke-width="0.6"/>
<line x1="355.90" y1="163.40" x2="355.90" y2="162.20" stroke="#9c9c9c" stroke-width="0.6"/>
<line x1="355.90" y1="11.50" x2="355.90" y2="12.70" stroke="#9c9c9c" stroke-width="0.6"/>
<line x1="369.47" y1="163.40" x2="369.47" y2="162.20" stroke="#9c9c9c" stroke-width="0.6"/>
<line x1="369.47" y1="11.50" x2="369.47" y2="12.70" stroke="#9c9c9c" stroke-width="0.6"/>
<line x1="388.60" y1="163.40" x2="388.60" y2="162.20" stroke="#9c9c9c" stroke-width="0.6"/>
<line x1="388.60" y1="11.50" x2="388.60" y2="12.70" stroke="#9c9c9c" stroke-width="0.6"/>
<line x1="395.87" y1="163.40" x2="395.87" y2="162.20" stroke="#9c9c9c" stroke-width="0.6"/>
<line x1="395.87" y1="11.50" x2="395.87" y2="12.70" stroke="#9c9c9c" stroke-width="0.6"/>
<line x1="402.17" y1="163.40" x2="402.17" y2="162.20" stroke="#9c9c9c" stroke-width="0.6"/>
<line x1="402.17" y1="11.50" x2="402.17" y2="12.70" stroke="#9c9c9c" stroke-width="0.6"/>
<line x1="407.73" y1="163.40" x2="407.73" y2="162.20" stroke="#9c9c9c" stroke-width="0.6"/>
<line x1="407.73" y1="11.50" x2="407.73" y2="12.70" stroke="#9c9c9c" stroke-width="0.6"/>
<line x1="464.53" y1="163.40" x2="464.53" y2="162.20" stroke="#9c9c9c" stroke-width="0.6"/>
<line x1="464.53" y1="11.50" x2="464.53" y2="12.70" stroke="#9c9c9c" stroke-width="0.6"/>
<line x1="488.63" y1="163.40" x2="488.63" y2="162.20" stroke="#9c9c9c" stroke-width="0.6"/>
<line x1="488.63" y1="11.50" x2="488.63" y2="12.70" stroke="#9c9c9c" stroke-width="0.6"/>
<line x1="497.23" y1="163.40" x2="497.23" y2="162.20" stroke="#9c9c9c" stroke-width="0.6"/>
<line x1="497.23" y1="11.50" x2="497.23" y2="12.70" stroke="#9c9c9c" stroke-width="0.6"/>
<line x1="504.50" y1="163.40" x2="504.50" y2="162.20" stroke="#9c9c9c" stroke-width="0.6"/>
<line x1="504.50" y1="11.50" x2="504.50" y2="12.70" stroke="#9c9c9c" stroke-width="0.6"/>
<line x1="347.30" y1="163.40" x2="347.30" y2="161.40" stroke="#9c9c9c" stroke-width="0.8"/>
<line x1="347.30" y1="11.50" x2="347.30" y2="13.50" stroke="#9c9c9c" stroke-width="0.8"/>
<line x1="380.00" y1="163.40" x2="380.00" y2="161.40" stroke="#9c9c9c" stroke-width="0.8"/>
<line x1="380.00" y1="11.50" x2="380.00" y2="13.50" stroke="#9c9c9c" stroke-width="0.8"/>
<line x1="412.70" y1="163.40" x2="412.70" y2="161.40" stroke="#9c9c9c" stroke-width="0.8"/>
<line x1="412.70" y1="11.50" x2="412.70" y2="13.50" stroke="#9c9c9c" stroke-width="0.8"/>
<line x1="445.40" y1="163.40" x2="445.40" y2="161.40" stroke="#9c9c9c" stroke-width="0.8"/>
<line x1="445.40" y1="11.50" x2="445.40" y2="13.50" stroke="#9c9c9c" stroke-width="0.8"/>
<line x1="478.10" y1="163.40" x2="478.10" y2="161.40" stroke="#9c9c9c" stroke-width="0.8"/>
<line x1="478.10" y1="11.50" x2="478.10" y2="13.50" stroke="#9c9c9c" stroke-width="0.8"/>
<line x1="314.60" y1="163.40" x2="316.60" y2="163.40" stroke="#9c9c9c" stroke-width="0.8"/>
<line x1="510.80" y1="163.40" x2="508.80" y2="163.40" stroke="#9c9c9c" stroke-width="0.8"/>
<line x1="314.60" y1="143.15" x2="316.60" y2="143.15" stroke="#9c9c9c" stroke-width="0.8"/>
<line x1="510.80" y1="143.15" x2="508.80" y2="143.15" stroke="#9c9c9c" stroke-width="0.8"/>
<line x1="314.60" y1="122.89" x2="316.60" y2="122.89" stroke="#9c9c9c" stroke-width="0.8"/>
<line x1="510.80" y1="122.89" x2="508.80" y2="122.89" stroke="#9c9c9c" stroke-width="0.8"/>
<line x1="314.60" y1="102.64" x2="316.60" y2="102.64" stroke="#9c9c9c" stroke-width="0.8"/>
<line x1="510.80" y1="102.64" x2="508.80" y2="102.64" stroke="#9c9c9c" stroke-width="0.8"/>
<line x1="314.60" y1="82.39" x2="316.60" y2="82.39" stroke="#9c9c9c" stroke-width="0.8"/>
<line x1="510.80" y1="82.39" x2="508.80" y2="82.39" stroke="#9c9c9c" stroke-width="0.8"/>
<line x1="314.60" y1="62.13" x2="316.60" y2="62.13" stroke="#9c9c9c" stroke-width="0.8"/>
<line x1="510.80" y1="62.13" x2="508.80" y2="62.13" stroke="#9c9c9c" stroke-width="0.8"/>
<line x1="314.60" y1="41.88" x2="316.60" y2="41.88" stroke="#9c9c9c" stroke-width="0.8"/>
<line x1="510.80" y1="41.88" x2="508.80" y2="41.88" stroke="#9c9c9c" stroke-width="0.8"/>
<line x1="314.60" y1="21.63" x2="316.60" y2="21.63" stroke="#9c9c9c" stroke-width="0.8"/>
<line x1="510.80" y1="21.63" x2="508.80" y2="21.63" stroke="#9c9c9c" stroke-width="0.8"/>
<rect x="166.00" y="221.20" width="195.80" height="151.40" fill="none" stroke="#9c9c9c" stroke-width="1.05"/>
<line x1="188.13" y1="372.60" x2="188.13" y2="371.40" stroke="#9c9c9c" stroke-width="0.6"/>
<line x1="188.13" y1="221.20" x2="188.13" y2="222.40" stroke="#9c9c9c" stroke-width="0.6"/>
<line x1="207.22" y1="372.60" x2="207.22" y2="371.40" stroke="#9c9c9c" stroke-width="0.6"/>
<line x1="207.22" y1="221.20" x2="207.22" y2="222.40" stroke="#9c9c9c" stroke-width="0.6"/>
<line x1="220.76" y1="372.60" x2="220.76" y2="371.40" stroke="#9c9c9c" stroke-width="0.6"/>
<line x1="220.76" y1="221.20" x2="220.76" y2="222.40" stroke="#9c9c9c" stroke-width="0.6"/>
<line x1="239.85" y1="372.60" x2="239.85" y2="371.40" stroke="#9c9c9c" stroke-width="0.6"/>
<line x1="239.85" y1="221.20" x2="239.85" y2="222.40" stroke="#9c9c9c" stroke-width="0.6"/>
<line x1="247.11" y1="372.60" x2="247.11" y2="371.40" stroke="#9c9c9c" stroke-width="0.6"/>
<line x1="247.11" y1="221.20" x2="247.11" y2="222.40" stroke="#9c9c9c" stroke-width="0.6"/>
<line x1="253.39" y1="372.60" x2="253.39" y2="371.40" stroke="#9c9c9c" stroke-width="0.6"/>
<line x1="253.39" y1="221.20" x2="253.39" y2="222.40" stroke="#9c9c9c" stroke-width="0.6"/>
<line x1="258.94" y1="372.60" x2="258.94" y2="371.40" stroke="#9c9c9c" stroke-width="0.6"/>
<line x1="258.94" y1="221.20" x2="258.94" y2="222.40" stroke="#9c9c9c" stroke-width="0.6"/>
<line x1="315.62" y1="372.60" x2="315.62" y2="371.40" stroke="#9c9c9c" stroke-width="0.6"/>
<line x1="315.62" y1="221.20" x2="315.62" y2="222.40" stroke="#9c9c9c" stroke-width="0.6"/>
<line x1="339.67" y1="372.60" x2="339.67" y2="371.40" stroke="#9c9c9c" stroke-width="0.6"/>
<line x1="339.67" y1="221.20" x2="339.67" y2="222.40" stroke="#9c9c9c" stroke-width="0.6"/>
<line x1="348.26" y1="372.60" x2="348.26" y2="371.40" stroke="#9c9c9c" stroke-width="0.6"/>
<line x1="348.26" y1="221.20" x2="348.26" y2="222.40" stroke="#9c9c9c" stroke-width="0.6"/>
<line x1="355.51" y1="372.60" x2="355.51" y2="371.40" stroke="#9c9c9c" stroke-width="0.6"/>
<line x1="355.51" y1="221.20" x2="355.51" y2="222.40" stroke="#9c9c9c" stroke-width="0.6"/>
<line x1="198.63" y1="372.60" x2="198.63" y2="370.60" stroke="#9c9c9c" stroke-width="0.8"/>
<line x1="198.63" y1="221.20" x2="198.63" y2="223.20" stroke="#9c9c9c" stroke-width="0.8"/>
<line x1="231.27" y1="372.60" x2="231.27" y2="370.60" stroke="#9c9c9c" stroke-width="0.8"/>
<line x1="231.27" y1="221.20" x2="231.27" y2="223.20" stroke="#9c9c9c" stroke-width="0.8"/>
<line x1="263.90" y1="372.60" x2="263.90" y2="370.60" stroke="#9c9c9c" stroke-width="0.8"/>
<line x1="263.90" y1="221.20" x2="263.90" y2="223.20" stroke="#9c9c9c" stroke-width="0.8"/>
<line x1="296.53" y1="372.60" x2="296.53" y2="370.60" stroke="#9c9c9c" stroke-width="0.8"/>
<line x1="296.53" y1="221.20" x2="296.53" y2="223.20" stroke="#9c9c9c" stroke-width="0.8"/>
<line x1="329.17" y1="372.60" x2="329.17" y2="370.60" stroke="#9c9c9c" stroke-width="0.8"/>
<line x1="329.17" y1="221.20" x2="329.17" y2="223.20" stroke="#9c9c9c" stroke-width="0.8"/>
<line x1="166.00" y1="372.60" x2="168.00" y2="372.60" stroke="#9c9c9c" stroke-width="0.8"/>
<line x1="361.80" y1="372.60" x2="359.80" y2="372.60" stroke="#9c9c9c" stroke-width="0.8"/>
<line x1="166.00" y1="350.97" x2="168.00" y2="350.97" stroke="#9c9c9c" stroke-width="0.8"/>
<line x1="361.80" y1="350.97" x2="359.80" y2="350.97" stroke="#9c9c9c" stroke-width="0.8"/>
<line x1="166.00" y1="329.34" x2="168.00" y2="329.34" stroke="#9c9c9c" stroke-width="0.8"/>
<line x1="361.80" y1="329.34" x2="359.80" y2="329.34" stroke="#9c9c9c" stroke-width="0.8"/>
<line x1="166.00" y1="307.71" x2="168.00" y2="307.71" stroke="#9c9c9c" stroke-width="0.8"/>
<line x1="361.80" y1="307.71" x2="359.80" y2="307.71" stroke="#9c9c9c" stroke-width="0.8"/>
<line x1="166.00" y1="286.09" x2="168.00" y2="286.09" stroke="#9c9c9c" stroke-width="0.8"/>
<line x1="361.80" y1="286.09" x2="359.80" y2="286.09" stroke="#9c9c9c" stroke-width="0.8"/>
<line x1="166.00" y1="264.46" x2="168.00" y2="264.46" stroke="#9c9c9c" stroke-width="0.8"/>
<line x1="361.80" y1="264.46" x2="359.80" y2="264.46" stroke="#9c9c9c" stroke-width="0.8"/>
<line x1="166.00" y1="242.83" x2="168.00" y2="242.83" stroke="#9c9c9c" stroke-width="0.8"/>
<line x1="361.80" y1="242.83" x2="359.80" y2="242.83" stroke="#9c9c9c" stroke-width="0.8"/>
<line x1="166.00" y1="221.20" x2="168.00" y2="221.20" stroke="#9c9c9c" stroke-width="0.8"/>
<line x1="361.80" y1="221.20" x2="359.80" y2="221.20" stroke="#9c9c9c" stroke-width="0.8"/>
<g font-family='"Liberation Sans", sans-serif' font-weight="bold" stroke="#262626" stroke-width="0.25">
<text x="0" y="0" font-size="8.1" text-anchor="middle" fill="#262626" transform="translate(22.70 173.20) scale(1.03 1.0)">125</text>
<text x="0" y="0" font-size="8.1" text-anchor="middle" fill="#262626" transform="translate(55.35 173.20) scale(1.03 1.0)">250</text>
<text x="0" y="0" font-size="8.1" text-anchor="middle" fill="#262626" transform="translate(88.00 173.20) scale(1.03 1.0)">500</text>
<text x="0" y="0" font-size="8.1" text-anchor="middle" fill="#262626" transform="translate(120.65 173.20) scale(1.03 1.0)">1000</text>
<text x="0" y="0" font-size="8.1" text-anchor="middle" fill="#262626" transform="translate(153.30 173.20) scale(1.03 1.0)">2000</text>
<text x="0" y="0" font-size="8.1" text-anchor="middle" fill="#262626" transform="translate(185.95 173.20) scale(1.03 1.0)">4000</text>
<text x="0" y="0" font-size="8.1" text-anchor="middle" fill="#262626" transform="translate(218.60 173.20) scale(1.03 1.0)">8000</text>
<text x="0" y="0" font-size="8.1" text-anchor="end" fill="#262626" transform="translate(19.80 165.30) scale(1.03 1.0)">0</text>
<text x="0" y="0" font-size="8.1" text-anchor="end" fill="#262626" transform="translate(19.80 143.87) scale(1.03 1.0)">10</text>
<text x="0" y="0" font-size="8.1" text-anchor="end" fill="#262626" transform="translate(19.80 122.44) scale(1.03 1.0)">20</text>
<text x="0" y="0" font-size="8.1" text-anchor="end" fill="#262626" transform="translate(19.80 101.01) scale(1.03 1.0)">30</text>
<text x="0" y="0" font-size="8.1" text-anchor="end" fill="#262626" transform="translate(19.80 79.59) scale(1.03 1.0)">40</text>
<text x="0" y="0" font-size="8.1" text-anchor="end" fill="#262626" transform="translate(19.80 58.16) scale(1.03 1.0)">50</text>
<text x="0" y="0" font-size="8.1" text-anchor="end" fill="#262626" transform="translate(19.80 36.73) scale(1.03 1.0)">60</text>
<text x="0" y="0" font-size="8.1" text-anchor="end" fill="#262626" transform="translate(19.80 15.30) scale(1.03 1.0)">70</text>
<text x="0" y="0" font-size="8.9" text-anchor="middle" fill="#262626" transform="translate(120.65 185.00) scale(1.03 1.0)">Frequency / Hz</text>
<text x="0" y="0" font-size="9.3" text-anchor="middle" fill="#262626" transform="translate(7.80 87.20) rotate(-90) scale(1.0 0.96)">Impedance magnitude / (dB rel 1Ns/m)</text>
<text x="0" y="0" font-size="8.6" text-anchor="middle" fill="#262626" transform="translate(120.65 7.90) scale(1.03 1.0)">(A)</text>
<text x="0" y="0" font-size="8.0" text-anchor="middle" fill="#262626" transform="translate(314.60 174.80) scale(1.04 1.0)">125</text>
<text x="0" y="0" font-size="8.0" text-anchor="middle" fill="#262626" transform="translate(347.30 174.80) scale(1.04 1.0)">250</text>
<text x="0" y="0" font-size="8.0" text-anchor="middle" fill="#262626" transform="translate(380.00 174.80) scale(1.04 1.0)">500</text>
<text x="0" y="0" font-size="8.0" text-anchor="middle" fill="#262626" transform="translate(412.70 174.80) scale(1.04 1.0)">1000</text>
<text x="0" y="0" font-size="8.0" text-anchor="middle" fill="#262626" transform="translate(445.40 174.80) scale(1.04 1.0)">2000</text>
<text x="0" y="0" font-size="8.0" text-anchor="middle" fill="#262626" transform="translate(478.10 174.80) scale(1.04 1.0)">4000</text>
<text x="0" y="0" font-size="8.0" text-anchor="middle" fill="#262626" transform="translate(510.80 174.80) scale(1.04 1.0)">8000</text>
<text x="0" y="0" font-size="8.0" text-anchor="end" fill="#262626" transform="translate(312.00 166.76) scale(1.04 1.0)">60</text>
<text x="0" y="0" font-size="8.0" text-anchor="end" fill="#262626" transform="translate(312.00 146.51) scale(1.04 1.0)">70</text>
<text x="0" y="0" font-size="8.0" text-anchor="end" fill="#262626" transform="translate(312.00 126.26) scale(1.04 1.0)">80</text>
<text x="0" y="0" font-size="8.0" text-anchor="end" fill="#262626" transform="translate(312.00 106.00) scale(1.04 1.0)">90</text>
<text x="0" y="0" font-size="8.0" text-anchor="end" fill="#262626" transform="translate(312.00 85.75) scale(1.04 1.0)">100</text>
<text x="0" y="0" font-size="8.0" text-anchor="end" fill="#262626" transform="translate(312.00 65.50) scale(1.04 1.0)">110</text>
<text x="0" y="0" font-size="8.0" text-anchor="end" fill="#262626" transform="translate(312.00 45.24) scale(1.04 1.0)">120</text>
<text x="0" y="0" font-size="8.0" text-anchor="end" fill="#262626" transform="translate(312.00 24.99) scale(1.04 1.0)">130</text>
<text x="0" y="0" font-size="8.1" text-anchor="middle" fill="#262626" transform="translate(412.70 185.40) scale(1.04 1.0)">Frequency / Hz</text>
<text x="0" y="0" font-size="8.5" text-anchor="middle" fill="#262626" transform="translate(294.60 87.80) rotate(-90) scale(1.0 0.93)">Output force magnitude / (dB rel 1μN)</text>
<text x="0" y="0" font-size="8.2" text-anchor="middle" fill="#262626" transform="translate(412.70 7.80) scale(1.04 1.0)">(B)</text>
<text x="0" y="0" font-size="8.0" text-anchor="middle" fill="#262626" transform="translate(166.00 383.60) scale(1.03 1.0)">125</text>
<text x="0" y="0" font-size="8.0" text-anchor="middle" fill="#262626" transform="translate(198.63 383.60) scale(1.03 1.0)">250</text>
<text x="0" y="0" font-size="8.0" text-anchor="middle" fill="#262626" transform="translate(231.27 383.60) scale(1.03 1.0)">500</text>
<text x="0" y="0" font-size="8.0" text-anchor="middle" fill="#262626" transform="translate(263.90 383.60) scale(1.03 1.0)">1000</text>
<text x="0" y="0" font-size="8.0" text-anchor="middle" fill="#262626" transform="translate(296.53 383.60) scale(1.03 1.0)">2000</text>
<text x="0" y="0" font-size="8.0" text-anchor="middle" fill="#262626" transform="translate(329.17 383.60) scale(1.03 1.0)">4000</text>
<text x="0" y="0" font-size="8.0" text-anchor="middle" fill="#262626" transform="translate(361.80 383.60) scale(1.03 1.0)">8000</text>
<text x="0" y="0" font-size="8.0" text-anchor="end" fill="#262626" transform="translate(163.00 375.26) scale(1.03 1.0)">30</text>
<text x="0" y="0" font-size="8.0" text-anchor="end" fill="#262626" transform="translate(163.00 353.64) scale(1.03 1.0)">40</text>
<text x="0" y="0" font-size="8.0" text-anchor="end" fill="#262626" transform="translate(163.00 332.01) scale(1.03 1.0)">50</text>
<text x="0" y="0" font-size="8.0" text-anchor="end" fill="#262626" transform="translate(163.00 310.38) scale(1.03 1.0)">60</text>
<text x="0" y="0" font-size="8.0" text-anchor="end" fill="#262626" transform="translate(163.00 288.75) scale(1.03 1.0)">70</text>
<text x="0" y="0" font-size="8.0" text-anchor="end" fill="#262626" transform="translate(163.00 267.12) scale(1.03 1.0)">80</text>
<text x="0" y="0" font-size="8.0" text-anchor="end" fill="#262626" transform="translate(163.00 245.49) scale(1.03 1.0)">90</text>
<text x="0" y="0" font-size="8.0" text-anchor="end" fill="#262626" transform="translate(163.00 223.86) scale(1.03 1.0)">100</text>
<text x="0" y="0" font-size="8.0" text-anchor="middle" fill="#262626" transform="translate(263.90 394.50) scale(1.03 1.0)">Frequency / Hz</text>
<text x="0" y="0" font-size="8.4" text-anchor="middle" fill="#262626" transform="translate(146.00 296.50) rotate(-90) scale(1.0 0.93)">Output velocity magnitude / (dB rel 1mm/s)</text>
<text x="0" y="0" font-size="8.2" text-anchor="middle" fill="#262626" transform="translate(263.90 217.60) scale(1.03 1.0)">(C)</text>
</g>
<rect x="27.3" y="118.6" width="94.10" height="42.20" fill="#fff" stroke="#9a9a9a" stroke-width="0.8"/>
<line x1="28.8" y1="124.9" x2="41.2" y2="124.9" stroke="#2a6590" stroke-dasharray="0.01 2.3" stroke-linecap="round" stroke-width="1.45" opacity="0.8"/>
<text x="43.0" y="128.5" font-size="7.0" font-weight="bold" fill="#262626" stroke="#262626" stroke-width="0.2" font-family='"Liberation Sans", sans-serif'>C = 4.06·10<tspan dy="-3.3" font-size="4.76">-6</tspan></text>
<line x1="28.8" y1="135.5" x2="41.2" y2="135.5" stroke="#c05a3a" stroke-dasharray="4.8 4.6" stroke-width="1.3" opacity="0.8"/>
<text x="43.0" y="139.3" font-size="7.0" font-weight="bold" fill="#262626" stroke="#262626" stroke-width="0.2" font-family='"Liberation Sans", sans-serif'>C = 6.50·10<tspan dy="-3.3" font-size="4.76">-6</tspan></text>
<line x1="28.8" y1="146.1" x2="41.2" y2="146.1" stroke="#e9bb42" stroke-width="1.6" opacity="0.8"/>
<text x="43.0" y="150.0" font-size="7.0" font-weight="bold" fill="#262626" stroke="#262626" stroke-width="0.2" font-family='"Liberation Sans", sans-serif'>C = 8.94·10<tspan dy="-3.3" font-size="4.76">-6</tspan></text>
<line x1="28.8" y1="155.6" x2="41.2" y2="155.6" stroke="#603373" stroke-width="1.35" opacity="0.8"/>
<text x="43.0" y="159.0" font-size="7.0" font-weight="bold" fill="#262626" stroke="#262626" stroke-width="0.2" font-family='"Liberation Sans", sans-serif'>B71 Internal Impedance</text>
<rect x="322.7" y="127.5" width="57.70" height="32.80" fill="#fff" stroke="#9a9a9a" stroke-width="0.8"/>
<line x1="323.8" y1="133.2" x2="335.8" y2="133.2" stroke="#2a6590" stroke-dasharray="0.01 2.3" stroke-linecap="round" stroke-width="1.45" opacity="0.8"/>
<text x="337.8" y="136.5" font-size="7.0" font-weight="bold" fill="#262626" stroke="#262626" stroke-width="0.2" font-family='"Liberation Sans", sans-serif'>C = 4.06·10<tspan dy="-3.3" font-size="4.76">-6</tspan></text>
<line x1="323.8" y1="143.7" x2="335.8" y2="143.7" stroke="#c05a3a" stroke-dasharray="4.8 4.6" stroke-width="1.3" opacity="0.8"/>
<text x="337.8" y="146.9" font-size="7.0" font-weight="bold" fill="#262626" stroke="#262626" stroke-width="0.2" font-family='"Liberation Sans", sans-serif'>C = 6.50·10<tspan dy="-3.3" font-size="4.76">-6</tspan></text>
<line x1="323.8" y1="154.5" x2="335.8" y2="154.5" stroke="#e9bb42" stroke-width="1.6" opacity="0.8"/>
<text x="337.8" y="157.5" font-size="7.0" font-weight="bold" fill="#262626" stroke="#262626" stroke-width="0.2" font-family='"Liberation Sans", sans-serif'>C = 8.94·10<tspan dy="-3.3" font-size="4.76">-6</tspan></text>
<rect x="174.3" y="337.8" width="57.80" height="34.60" fill="#fff" stroke="#9a9a9a" stroke-width="0.8"/>
<line x1="174.9" y1="344.7" x2="188.1" y2="344.7" stroke="#2a6590" stroke-dasharray="0.01 2.3" stroke-linecap="round" stroke-width="1.45" opacity="0.8"/>
<text x="189.0" y="347.7" font-size="7.0" font-weight="bold" fill="#262626" stroke="#262626" stroke-width="0.2" font-family='"Liberation Sans", sans-serif'>C = 4.06·10<tspan dy="-3.3" font-size="4.76">-6</tspan></text>
<line x1="174.9" y1="354.5" x2="188.1" y2="354.5" stroke="#c05a3a" stroke-dasharray="4.8 4.6" stroke-width="1.3" opacity="0.8"/>
<text x="189.0" y="358.3" font-size="7.0" font-weight="bold" fill="#262626" stroke="#262626" stroke-width="0.2" font-family='"Liberation Sans", sans-serif'>C = 6.50·10<tspan dy="-3.3" font-size="4.76">-6</tspan></text>
<line x1="174.9" y1="365.2" x2="188.1" y2="365.2" stroke="#e9bb42" stroke-width="1.6" opacity="0.8"/>
<text x="189.0" y="368.9" font-size="7.0" font-weight="bold" fill="#262626" stroke="#262626" stroke-width="0.2" font-family='"Liberation Sans", sans-serif'>C = 8.94·10<tspan dy="-3.3" font-size="4.76">-6</tspan></text></svg></div>
</body></html>
